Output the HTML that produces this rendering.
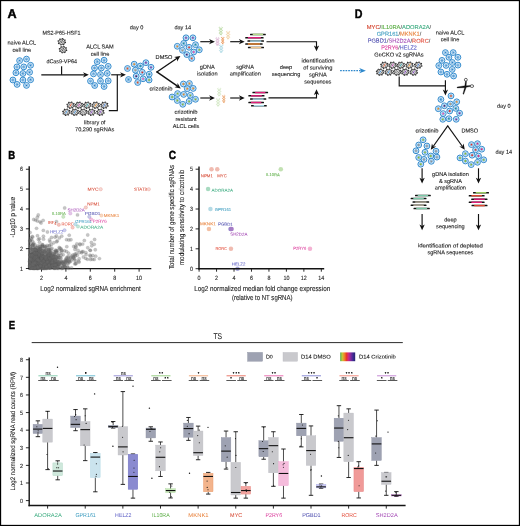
<!DOCTYPE html>
<html lang="en"><head><meta charset="utf-8"><title>Figure</title>
<style>html,body{margin:0;padding:0;background:#fff}svg{display:block;font-family:"Liberation Sans",sans-serif}</style></head>
<body><svg width="520" height="526" viewBox="0 0 520 526">
<rect x="0" y="0" width="520" height="526" fill="#fff"/>
<text x="12.1" y="17.98" font-size="12.6" text-anchor="middle" fill="#000" font-weight="bold" stroke="#000" stroke-width=".45" transform="rotate(.03 12.1 17.98)">A</text>
<text x="21.8" y="44.5" font-size="5.6" text-anchor="middle" fill="#1c1c1c" stroke="#1c1c1c" stroke-width="0.1" transform="rotate(.03 21.8 44.5)">naive ALCL</text>
<text x="21.8" y="51.7" font-size="5.6" text-anchor="middle" fill="#1c1c1c" stroke="#1c1c1c" stroke-width="0.1" transform="rotate(.03 21.8 51.7)">cell line</text>
<circle cx="19.6" cy="60.6" r="2.9" fill="#e0eefa" stroke="#2a86ca" stroke-width=".95"/><circle cx="19.6" cy="60.6" r="1.3" fill="#e6f1fb" stroke="#2a86ca" stroke-width=".5"/><circle cx="19.6" cy="60.6" r="0.72" fill="#1c76c2"/>
<circle cx="26.5" cy="59.1" r="2.9" fill="#e0eefa" stroke="#2a86ca" stroke-width=".95"/><circle cx="26.5" cy="59.1" r="1.3" fill="#e6f1fb" stroke="#2a86ca" stroke-width=".5"/><circle cx="26.5" cy="59.1" r="0.72" fill="#1c76c2"/>
<circle cx="16.9" cy="66.9" r="2.9" fill="#e0eefa" stroke="#2a86ca" stroke-width=".95"/><circle cx="16.9" cy="66.9" r="1.3" fill="#e6f1fb" stroke="#2a86ca" stroke-width=".5"/><circle cx="16.9" cy="66.9" r="0.72" fill="#1c76c2"/>
<circle cx="23.75" cy="66.9" r="2.9" fill="#e0eefa" stroke="#2a86ca" stroke-width=".95"/><circle cx="23.75" cy="66.9" r="1.3" fill="#e6f1fb" stroke="#2a86ca" stroke-width=".5"/><circle cx="23.75" cy="66.9" r="0.72" fill="#1c76c2"/>
<circle cx="30.6" cy="65.25" r="2.9" fill="#e0eefa" stroke="#2a86ca" stroke-width=".95"/><circle cx="30.6" cy="65.25" r="1.3" fill="#e6f1fb" stroke="#2a86ca" stroke-width=".5"/><circle cx="30.6" cy="65.25" r="0.72" fill="#1c76c2"/>
<circle cx="15.9" cy="72.75" r="2.9" fill="#e0eefa" stroke="#2a86ca" stroke-width=".95"/><circle cx="15.9" cy="72.75" r="1.3" fill="#e6f1fb" stroke="#2a86ca" stroke-width=".5"/><circle cx="15.9" cy="72.75" r="0.72" fill="#1c76c2"/>
<circle cx="22.9" cy="73.5" r="2.9" fill="#e0eefa" stroke="#2a86ca" stroke-width=".95"/><circle cx="22.9" cy="73.5" r="1.3" fill="#e6f1fb" stroke="#2a86ca" stroke-width=".5"/><circle cx="22.9" cy="73.5" r="0.72" fill="#1c76c2"/>
<circle cx="29.6" cy="72.25" r="2.9" fill="#e0eefa" stroke="#2a86ca" stroke-width=".95"/><circle cx="29.6" cy="72.25" r="1.3" fill="#e6f1fb" stroke="#2a86ca" stroke-width=".5"/><circle cx="29.6" cy="72.25" r="0.72" fill="#1c76c2"/>
<circle cx="12.9" cy="80" r="2.9" fill="#e0eefa" stroke="#2a86ca" stroke-width=".95"/><circle cx="12.9" cy="80" r="1.3" fill="#e6f1fb" stroke="#2a86ca" stroke-width=".5"/><circle cx="12.9" cy="80" r="0.72" fill="#1c76c2"/>
<circle cx="22.9" cy="80" r="2.9" fill="#e0eefa" stroke="#2a86ca" stroke-width=".95"/><circle cx="22.9" cy="80" r="1.3" fill="#e6f1fb" stroke="#2a86ca" stroke-width=".5"/><circle cx="22.9" cy="80" r="0.72" fill="#1c76c2"/>
<circle cx="30.6" cy="79.75" r="2.9" fill="#e0eefa" stroke="#2a86ca" stroke-width=".95"/><circle cx="30.6" cy="79.75" r="1.3" fill="#e6f1fb" stroke="#2a86ca" stroke-width=".5"/><circle cx="30.6" cy="79.75" r="0.72" fill="#1c76c2"/>
<circle cx="17.1" cy="84.4" r="2.9" fill="#e0eefa" stroke="#2a86ca" stroke-width=".95"/><circle cx="17.1" cy="84.4" r="1.3" fill="#e6f1fb" stroke="#2a86ca" stroke-width=".5"/><circle cx="17.1" cy="84.4" r="0.72" fill="#1c76c2"/>
<circle cx="26.5" cy="85.4" r="2.9" fill="#e0eefa" stroke="#2a86ca" stroke-width=".95"/><circle cx="26.5" cy="85.4" r="1.3" fill="#e6f1fb" stroke="#2a86ca" stroke-width=".5"/><circle cx="26.5" cy="85.4" r="0.72" fill="#1c76c2"/>
<text x="61.5" y="34.8" font-size="5.6" text-anchor="middle" fill="#1c1c1c" textLength="38" lengthAdjust="spacingAndGlyphs" stroke="#1c1c1c" stroke-width="0.1" transform="rotate(.03 61.5 34.8)">MS2-P65-HSF1</text>
<path d="M64.71 42.44L65.97 42.73M63.33 44.04L63.99 45.03M61.06 44.32L60.74 45.43M59.22 43.13L58.1 43.71M58.89 41.16L57.63 40.87M60.27 39.56L59.61 38.57M62.54 39.28L62.86 38.17M64.38 40.47L65.5 39.89" stroke="#2a2a2a" stroke-width="1.3" fill="none"/>
<ellipse cx="61.8" cy="41.8" rx="3.15" ry="2.75" fill="#f4f4f4" stroke="#2a2a2a" stroke-width=".8"/>
<path d="M59.7 42.8L61.4 39.9M62.3 43.7L64 40.9" stroke="#4a4a4a" stroke-width=".7" fill="none"/>
<line x1="60.9" y1="43.3" x2="62.7" y2="40.2" stroke="#555" stroke-width="1"/>
<path d="M65.91 50.24L67.17 50.53M64.53 51.84L65.19 52.83M62.26 52.12L61.94 53.23M60.42 50.93L59.3 51.51M60.09 48.96L58.83 48.67M61.47 47.36L60.81 46.37M63.74 47.08L64.06 45.97M65.58 48.27L66.7 47.69" stroke="#2a2a2a" stroke-width="1.3" fill="none"/>
<ellipse cx="63" cy="49.6" rx="3.15" ry="2.75" fill="#f4f4f4" stroke="#2a2a2a" stroke-width=".8"/>
<path d="M60.9 50.6L62.6 47.7M63.5 51.5L65.2 48.7" stroke="#4a4a4a" stroke-width=".7" fill="none"/>
<line x1="62.1" y1="51.1" x2="63.9" y2="48" stroke="#555" stroke-width="1"/>
<text x="61.7" y="63.3" font-size="5.6" text-anchor="middle" fill="#1c1c1c" textLength="30.6" lengthAdjust="spacingAndGlyphs" stroke="#1c1c1c" stroke-width="0.1" transform="rotate(.03 61.7 63.3)">dCas9-VP64</text>
<line x1="61.6" y1="66.2" x2="61.6" y2="74.8" stroke="#111" stroke-width="1.15"/>
<line x1="41.3" y1="74.8" x2="84.74" y2="74.8" stroke="#111" stroke-width="1.15"/>
<polygon points="88.8,74.8 83,77.45 84.62,74.8 83,72.15" fill="#111"/>
<text x="100" y="48.5" font-size="5.6" text-anchor="middle" fill="#1c1c1c" stroke="#1c1c1c" stroke-width="0.1" transform="rotate(.03 100 48.5)">ALCL SAM</text>
<text x="100" y="55.7" font-size="5.6" text-anchor="middle" fill="#1c1c1c" stroke="#1c1c1c" stroke-width="0.1" transform="rotate(.03 100 55.7)">cell line</text>
<circle cx="97.2" cy="61.7" r="2.9" fill="#e0eefa" stroke="#2a86ca" stroke-width=".95"/><circle cx="97.2" cy="61.7" r="1.3" fill="#e6f1fb" stroke="#2a86ca" stroke-width=".5"/><circle cx="97.2" cy="61.7" r="0.72" fill="#1c76c2"/>
<circle cx="104.1" cy="60.2" r="2.9" fill="#e0eefa" stroke="#2a86ca" stroke-width=".95"/><circle cx="104.1" cy="60.2" r="1.3" fill="#e6f1fb" stroke="#2a86ca" stroke-width=".5"/><circle cx="104.1" cy="60.2" r="0.72" fill="#1c76c2"/>
<circle cx="94.5" cy="68" r="2.9" fill="#e0eefa" stroke="#2a86ca" stroke-width=".95"/><circle cx="94.5" cy="68" r="1.3" fill="#e6f1fb" stroke="#2a86ca" stroke-width=".5"/><circle cx="94.5" cy="68" r="0.72" fill="#1c76c2"/>
<circle cx="101.35" cy="68" r="2.9" fill="#e0eefa" stroke="#2a86ca" stroke-width=".95"/><circle cx="101.35" cy="68" r="1.3" fill="#e6f1fb" stroke="#2a86ca" stroke-width=".5"/><circle cx="101.35" cy="68" r="0.72" fill="#1c76c2"/>
<circle cx="108.2" cy="66.35" r="2.9" fill="#e0eefa" stroke="#2a86ca" stroke-width=".95"/><circle cx="108.2" cy="66.35" r="1.3" fill="#e6f1fb" stroke="#2a86ca" stroke-width=".5"/><circle cx="108.2" cy="66.35" r="0.72" fill="#1c76c2"/>
<circle cx="93.5" cy="73.85" r="2.9" fill="#e0eefa" stroke="#2a86ca" stroke-width=".95"/><circle cx="93.5" cy="73.85" r="1.3" fill="#e6f1fb" stroke="#2a86ca" stroke-width=".5"/><circle cx="93.5" cy="73.85" r="0.72" fill="#1c76c2"/>
<circle cx="100.5" cy="74.6" r="2.9" fill="#e0eefa" stroke="#2a86ca" stroke-width=".95"/><circle cx="100.5" cy="74.6" r="1.3" fill="#e6f1fb" stroke="#2a86ca" stroke-width=".5"/><circle cx="100.5" cy="74.6" r="0.72" fill="#1c76c2"/>
<circle cx="107.2" cy="73.35" r="2.9" fill="#e0eefa" stroke="#2a86ca" stroke-width=".95"/><circle cx="107.2" cy="73.35" r="1.3" fill="#e6f1fb" stroke="#2a86ca" stroke-width=".5"/><circle cx="107.2" cy="73.35" r="0.72" fill="#1c76c2"/>
<circle cx="90.5" cy="81.1" r="2.9" fill="#e0eefa" stroke="#2a86ca" stroke-width=".95"/><circle cx="90.5" cy="81.1" r="1.3" fill="#e6f1fb" stroke="#2a86ca" stroke-width=".5"/><circle cx="90.5" cy="81.1" r="0.72" fill="#1c76c2"/>
<circle cx="100.5" cy="81.1" r="2.9" fill="#e0eefa" stroke="#2a86ca" stroke-width=".95"/><circle cx="100.5" cy="81.1" r="1.3" fill="#e6f1fb" stroke="#2a86ca" stroke-width=".5"/><circle cx="100.5" cy="81.1" r="0.72" fill="#1c76c2"/>
<circle cx="108.2" cy="80.85" r="2.9" fill="#e0eefa" stroke="#2a86ca" stroke-width=".95"/><circle cx="108.2" cy="80.85" r="1.3" fill="#e6f1fb" stroke="#2a86ca" stroke-width=".5"/><circle cx="108.2" cy="80.85" r="0.72" fill="#1c76c2"/>
<circle cx="94.7" cy="85.5" r="2.9" fill="#e0eefa" stroke="#2a86ca" stroke-width=".95"/><circle cx="94.7" cy="85.5" r="1.3" fill="#e6f1fb" stroke="#2a86ca" stroke-width=".5"/><circle cx="94.7" cy="85.5" r="0.72" fill="#1c76c2"/>
<circle cx="104.1" cy="86.5" r="2.9" fill="#e0eefa" stroke="#2a86ca" stroke-width=".95"/><circle cx="104.1" cy="86.5" r="1.3" fill="#e6f1fb" stroke="#2a86ca" stroke-width=".5"/><circle cx="104.1" cy="86.5" r="0.72" fill="#1c76c2"/>
<line x1="111.2" y1="74.8" x2="121.84" y2="74.8" stroke="#111" stroke-width="1.15"/>
<polygon points="125.9,74.8 120.1,77.45 121.72,74.8 120.1,72.15" fill="#111"/>
<path d="M108.8 110.6H117.3V74.8" fill="none" stroke="#111" stroke-width="1.15"/>
<path d="M69.31 112.84L70.57 113.13M67.93 114.44L68.59 115.43M65.66 114.72L65.34 115.83M63.82 113.53L62.7 114.11M63.49 111.56L62.23 111.27M64.87 109.96L64.21 108.97M67.14 109.68L67.46 108.57M68.98 110.87L70.1 110.29" stroke="#2a2a2a" stroke-width="1.3" fill="none"/>
<ellipse cx="66.4" cy="112.2" rx="3.15" ry="2.75" fill="#f4f4f4" stroke="#2a2a2a" stroke-width=".8"/>
<path d="M64.3 113.2L66 110.3M66.9 114.1L68.6 111.3" stroke="#4a4a4a" stroke-width=".7" fill="none"/>
<line x1="65.5" y1="113.7" x2="67.3" y2="110.6" stroke="#4a90d0" stroke-width="1"/>
<path d="M77.81 112.84L79.07 113.13M76.43 114.44L77.09 115.43M74.16 114.72L73.84 115.83M72.32 113.53L71.2 114.11M71.99 111.56L70.73 111.27M73.37 109.96L72.71 108.97M75.64 109.68L75.96 108.57M77.48 110.87L78.6 110.29" stroke="#2a2a2a" stroke-width="1.3" fill="none"/>
<ellipse cx="74.9" cy="112.2" rx="3.15" ry="2.75" fill="#f4f4f4" stroke="#2a2a2a" stroke-width=".8"/>
<path d="M72.8 113.2L74.5 110.3M75.4 114.1L77.1 111.3" stroke="#4a4a4a" stroke-width=".7" fill="none"/>
<line x1="74" y1="113.7" x2="75.8" y2="110.6" stroke="#4a90d0" stroke-width="1"/>
<path d="M86.21 112.84L87.47 113.13M84.83 114.44L85.49 115.43M82.56 114.72L82.24 115.83M80.72 113.53L79.6 114.11M80.39 111.56L79.13 111.27M81.77 109.96L81.11 108.97M84.04 109.68L84.36 108.57M85.88 110.87L87 110.29" stroke="#2a2a2a" stroke-width="1.3" fill="none"/>
<ellipse cx="83.3" cy="112.2" rx="3.15" ry="2.75" fill="#f4f4f4" stroke="#2a2a2a" stroke-width=".8"/>
<path d="M81.2 113.2L82.9 110.3M83.8 114.1L85.5 111.3" stroke="#4a4a4a" stroke-width=".7" fill="none"/>
<line x1="82.4" y1="113.7" x2="84.2" y2="110.6" stroke="#888" stroke-width="1"/>
<path d="M94.51 112.84L95.77 113.13M93.13 114.44L93.79 115.43M90.86 114.72L90.54 115.83M89.02 113.53L87.9 114.11M88.69 111.56L87.43 111.27M90.07 109.96L89.41 108.97M92.34 109.68L92.66 108.57M94.18 110.87L95.3 110.29" stroke="#2a2a2a" stroke-width="1.3" fill="none"/>
<ellipse cx="91.6" cy="112.2" rx="3.15" ry="2.75" fill="#f4f4f4" stroke="#2a2a2a" stroke-width=".8"/>
<path d="M89.5 113.2L91.2 110.3M92.1 114.1L93.8 111.3" stroke="#4a4a4a" stroke-width=".7" fill="none"/>
<line x1="90.7" y1="113.7" x2="92.5" y2="110.6" stroke="#8a50c0" stroke-width="1"/>
<path d="M103.31 112.84L104.57 113.13M101.93 114.44L102.59 115.43M99.66 114.72L99.34 115.83M97.82 113.53L96.7 114.11M97.49 111.56L96.23 111.27M98.87 109.96L98.21 108.97M101.14 109.68L101.46 108.57M102.98 110.87L104.1 110.29" stroke="#2a2a2a" stroke-width="1.3" fill="none"/>
<ellipse cx="100.4" cy="112.2" rx="3.15" ry="2.75" fill="#f4f4f4" stroke="#2a2a2a" stroke-width=".8"/>
<path d="M98.3 113.2L100 110.3M100.9 114.1L102.6 111.3" stroke="#4a4a4a" stroke-width=".7" fill="none"/>
<line x1="99.5" y1="113.7" x2="101.3" y2="110.6" stroke="#8a50c0" stroke-width="1"/>
<path d="M73.61 105.84L74.87 106.13M72.23 107.44L72.89 108.43M69.96 107.72L69.64 108.83M68.12 106.53L67 107.11M67.79 104.56L66.53 104.27M69.17 102.96L68.51 101.97M71.44 102.68L71.76 101.57M73.28 103.87L74.4 103.29" stroke="#2a2a2a" stroke-width="1.3" fill="none"/>
<ellipse cx="70.7" cy="105.2" rx="3.15" ry="2.75" fill="#f4f4f4" stroke="#2a2a2a" stroke-width=".8"/>
<path d="M68.6 106.2L70.3 103.3M71.2 107.1L72.9 104.3" stroke="#4a4a4a" stroke-width=".7" fill="none"/>
<line x1="69.8" y1="106.7" x2="71.6" y2="103.6" stroke="#e0603a" stroke-width="1"/>
<path d="M81.91 105.84L83.17 106.13M80.53 107.44L81.19 108.43M78.26 107.72L77.94 108.83M76.42 106.53L75.3 107.11M76.09 104.56L74.83 104.27M77.47 102.96L76.81 101.97M79.74 102.68L80.06 101.57M81.58 103.87L82.7 103.29" stroke="#2a2a2a" stroke-width="1.3" fill="none"/>
<ellipse cx="79" cy="105.2" rx="3.15" ry="2.75" fill="#f4f4f4" stroke="#2a2a2a" stroke-width=".8"/>
<path d="M76.9 106.2L78.6 103.3M79.5 107.1L81.2 104.3" stroke="#4a4a4a" stroke-width=".7" fill="none"/>
<line x1="78.1" y1="106.7" x2="79.9" y2="103.6" stroke="#c050b0" stroke-width="1"/>
<path d="M90.21 105.84L91.47 106.13M88.83 107.44L89.49 108.43M86.56 107.72L86.24 108.83M84.72 106.53L83.6 107.11M84.39 104.56L83.13 104.27M85.77 102.96L85.11 101.97M88.04 102.68L88.36 101.57M89.88 103.87L91 103.29" stroke="#2a2a2a" stroke-width="1.3" fill="none"/>
<ellipse cx="87.3" cy="105.2" rx="3.15" ry="2.75" fill="#f4f4f4" stroke="#2a2a2a" stroke-width=".8"/>
<path d="M85.2 106.2L86.9 103.3M87.8 107.1L89.5 104.3" stroke="#4a4a4a" stroke-width=".7" fill="none"/>
<line x1="86.4" y1="106.7" x2="88.2" y2="103.6" stroke="#3aa0a8" stroke-width="1"/>
<path d="M98.71 105.84L99.97 106.13M97.33 107.44L97.99 108.43M95.06 107.72L94.74 108.83M93.22 106.53L92.1 107.11M92.89 104.56L91.63 104.27M94.27 102.96L93.61 101.97M96.54 102.68L96.86 101.57M98.38 103.87L99.5 103.29" stroke="#2a2a2a" stroke-width="1.3" fill="none"/>
<ellipse cx="95.8" cy="105.2" rx="3.15" ry="2.75" fill="#f4f4f4" stroke="#2a2a2a" stroke-width=".8"/>
<path d="M93.7 106.2L95.4 103.3M96.3 107.1L98 104.3" stroke="#4a4a4a" stroke-width=".7" fill="none"/>
<line x1="94.9" y1="106.7" x2="96.7" y2="103.6" stroke="#e89030" stroke-width="1"/>
<path d="M107.31 105.84L108.57 106.13M105.93 107.44L106.59 108.43M103.66 107.72L103.34 108.83M101.82 106.53L100.7 107.11M101.49 104.56L100.23 104.27M102.87 102.96L102.21 101.97M105.14 102.68L105.46 101.57M106.98 103.87L108.1 103.29" stroke="#2a2a2a" stroke-width="1.3" fill="none"/>
<ellipse cx="104.4" cy="105.2" rx="3.15" ry="2.75" fill="#f4f4f4" stroke="#2a2a2a" stroke-width=".8"/>
<path d="M102.3 106.2L104 103.3M104.9 107.1L106.6 104.3" stroke="#4a4a4a" stroke-width=".7" fill="none"/>
<line x1="103.5" y1="106.7" x2="105.3" y2="103.6" stroke="#4a80d0" stroke-width="1"/>
<text x="94.7" y="124.3" font-size="5.6" text-anchor="middle" fill="#1c1c1c" stroke="#1c1c1c" stroke-width="0.1" transform="rotate(.03 94.7 124.3)">library of</text>
<text x="94.7" y="131.2" font-size="5.6" text-anchor="middle" fill="#1c1c1c" stroke="#1c1c1c" stroke-width="0.1" transform="rotate(.03 94.7 131.2)">70,290 sgRNAs</text>
<text x="136.6" y="29.2" font-size="5.6" text-anchor="middle" fill="#1c1c1c" stroke="#1c1c1c" stroke-width="0.1" transform="rotate(.03 136.6 29.2)">day 0</text>
<text x="182.8" y="29.2" font-size="5.6" text-anchor="middle" fill="#1c1c1c" stroke="#1c1c1c" stroke-width="0.1" transform="rotate(.03 182.8 29.2)">day 14</text>
<circle cx="134.2" cy="64.2" r="2.9" fill="#e0eefa" stroke="#2a86ca" stroke-width=".95"/><circle cx="134.2" cy="64.2" r="1.3" fill="#e6f1fb" stroke="#2a86ca" stroke-width=".5"/><circle cx="134.2" cy="64.2" r="0.9" fill="#ee8a1e"/>
<circle cx="145.9" cy="62.7" r="2.9" fill="#e0eefa" stroke="#2a86ca" stroke-width=".95"/><circle cx="145.9" cy="62.7" r="1.3" fill="#e6f1fb" stroke="#2a86ca" stroke-width=".5"/><circle cx="145.9" cy="62.7" r="0.9" fill="#7b2fa0"/>
<circle cx="127.5" cy="68.5" r="2.9" fill="#e0eefa" stroke="#2a86ca" stroke-width=".95"/><circle cx="127.5" cy="68.5" r="1.3" fill="#e6f1fb" stroke="#2a86ca" stroke-width=".5"/><circle cx="127.5" cy="68.5" r="0.9" fill="#e8501e"/>
<circle cx="140.4" cy="66" r="2.9" fill="#e0eefa" stroke="#2a86ca" stroke-width=".95"/><circle cx="140.4" cy="66" r="1.3" fill="#e6f1fb" stroke="#2a86ca" stroke-width=".5"/><circle cx="140.4" cy="66" r="0.9" fill="#1e8ea0"/>
<circle cx="151" cy="67.3" r="2.9" fill="#e0eefa" stroke="#2a86ca" stroke-width=".95"/><circle cx="151" cy="67.3" r="1.3" fill="#e6f1fb" stroke="#2a86ca" stroke-width=".5"/><circle cx="151" cy="67.3" r="0.9" fill="#7b2fa0"/>
<circle cx="135.4" cy="70.2" r="2.9" fill="#e0eefa" stroke="#2a86ca" stroke-width=".95"/><circle cx="135.4" cy="70.2" r="1.3" fill="#e6f1fb" stroke="#2a86ca" stroke-width=".5"/><circle cx="135.4" cy="70.2" r="0.9" fill="#b09878"/>
<circle cx="142.3" cy="72.3" r="2.9" fill="#e0eefa" stroke="#2a86ca" stroke-width=".95"/><circle cx="142.3" cy="72.3" r="1.3" fill="#e6f1fb" stroke="#2a86ca" stroke-width=".5"/><circle cx="142.3" cy="72.3" r="0.9" fill="#e02a20"/>
<circle cx="149.2" cy="74.2" r="2.9" fill="#e0eefa" stroke="#2a86ca" stroke-width=".95"/><circle cx="149.2" cy="74.2" r="1.3" fill="#e6f1fb" stroke="#2a86ca" stroke-width=".5"/><circle cx="149.2" cy="74.2" r="0.9" fill="#1e8ea0"/>
<circle cx="136.2" cy="76.2" r="2.9" fill="#e0eefa" stroke="#2a86ca" stroke-width=".95"/><circle cx="136.2" cy="76.2" r="1.3" fill="#e6f1fb" stroke="#2a86ca" stroke-width=".5"/><circle cx="136.2" cy="76.2" r="0.9" fill="#4a1a6a"/>
<circle cx="128.5" cy="79.5" r="2.9" fill="#e0eefa" stroke="#2a86ca" stroke-width=".95"/><circle cx="128.5" cy="79.5" r="1.3" fill="#e6f1fb" stroke="#2a86ca" stroke-width=".5"/><circle cx="128.5" cy="79.5" r="0.9" fill="#2f8ed0"/>
<circle cx="143.1" cy="78.8" r="2.9" fill="#e0eefa" stroke="#2a86ca" stroke-width=".95"/><circle cx="143.1" cy="78.8" r="1.3" fill="#e6f1fb" stroke="#2a86ca" stroke-width=".5"/><circle cx="143.1" cy="78.8" r="0.9" fill="#ee4aa8"/>
<circle cx="149.1" cy="80" r="2.9" fill="#e0eefa" stroke="#2a86ca" stroke-width=".95"/><circle cx="149.1" cy="80" r="1.3" fill="#e6f1fb" stroke="#2a86ca" stroke-width=".5"/><circle cx="149.1" cy="80" r="0.9" fill="#86bc2a"/>
<circle cx="137.7" cy="82.5" r="2.9" fill="#e0eefa" stroke="#2a86ca" stroke-width=".95"/><circle cx="137.7" cy="82.5" r="1.3" fill="#e6f1fb" stroke="#2a86ca" stroke-width=".5"/><circle cx="137.7" cy="82.5" r="0.9" fill="#e8501e"/>
<circle cx="186" cy="37.8" r="2.9" fill="#e0eefa" stroke="#2a86ca" stroke-width=".95"/><circle cx="186" cy="37.8" r="1.3" fill="#e6f1fb" stroke="#2a86ca" stroke-width=".5"/><circle cx="186" cy="37.8" r="0.9" fill="#7b2fa0"/>
<circle cx="192.9" cy="37.8" r="2.9" fill="#e0eefa" stroke="#2a86ca" stroke-width=".95"/><circle cx="192.9" cy="37.8" r="1.3" fill="#e6f1fb" stroke="#2a86ca" stroke-width=".5"/><circle cx="192.9" cy="37.8" r="0.9" fill="#7b2fa0"/>
<circle cx="183.7" cy="43.4" r="2.9" fill="#e0eefa" stroke="#2a86ca" stroke-width=".95"/><circle cx="183.7" cy="43.4" r="1.3" fill="#e6f1fb" stroke="#2a86ca" stroke-width=".5"/><circle cx="183.7" cy="43.4" r="0.9" fill="#1e8ea0"/>
<circle cx="177.3" cy="46.3" r="2.9" fill="#e0eefa" stroke="#2a86ca" stroke-width=".95"/><circle cx="177.3" cy="46.3" r="1.3" fill="#e6f1fb" stroke="#2a86ca" stroke-width=".5"/><circle cx="177.3" cy="46.3" r="0.9" fill="#ee8a1e"/>
<circle cx="189.1" cy="47.3" r="2.9" fill="#e0eefa" stroke="#2a86ca" stroke-width=".95"/><circle cx="189.1" cy="47.3" r="1.3" fill="#e6f1fb" stroke="#2a86ca" stroke-width=".5"/><circle cx="189.1" cy="47.3" r="0.9" fill="#e02a20"/>
<circle cx="195.5" cy="44.7" r="2.9" fill="#e0eefa" stroke="#2a86ca" stroke-width=".95"/><circle cx="195.5" cy="44.7" r="1.3" fill="#e6f1fb" stroke="#2a86ca" stroke-width=".5"/><circle cx="195.5" cy="44.7" r="0.9" fill="#1e8ea0"/>
<circle cx="182.5" cy="50.3" r="2.9" fill="#e0eefa" stroke="#2a86ca" stroke-width=".95"/><circle cx="182.5" cy="50.3" r="1.3" fill="#e6f1fb" stroke="#2a86ca" stroke-width=".5"/><circle cx="182.5" cy="50.3" r="0.9" fill="#b09878"/>
<circle cx="199.3" cy="49.8" r="2.9" fill="#e0eefa" stroke="#2a86ca" stroke-width=".95"/><circle cx="199.3" cy="49.8" r="1.3" fill="#e6f1fb" stroke="#2a86ca" stroke-width=".5"/><circle cx="199.3" cy="49.8" r="0.9" fill="#86bc2a"/>
<circle cx="193.7" cy="52" r="2.9" fill="#e0eefa" stroke="#2a86ca" stroke-width=".95"/><circle cx="193.7" cy="52" r="1.3" fill="#e6f1fb" stroke="#2a86ca" stroke-width=".5"/><circle cx="193.7" cy="52" r="0.9" fill="#ee4aa8"/>
<circle cx="186.8" cy="54.6" r="2.9" fill="#e0eefa" stroke="#2a86ca" stroke-width=".95"/><circle cx="186.8" cy="54.6" r="1.3" fill="#e6f1fb" stroke="#2a86ca" stroke-width=".5"/><circle cx="186.8" cy="54.6" r="0.9" fill="#4a1a6a"/>
<circle cx="191.7" cy="58.4" r="2.9" fill="#e0eefa" stroke="#2a86ca" stroke-width=".95"/><circle cx="191.7" cy="58.4" r="1.3" fill="#e6f1fb" stroke="#2a86ca" stroke-width=".5"/><circle cx="191.7" cy="58.4" r="0.9" fill="#e8501e"/>
<circle cx="183.4" cy="84" r="2.9" fill="#e0eefa" stroke="#2a86ca" stroke-width=".95"/><circle cx="183.4" cy="84" r="1.3" fill="#e6f1fb" stroke="#2a86ca" stroke-width=".5"/><circle cx="183.4" cy="84" r="0.9" fill="#ee8a1e"/>
<circle cx="189.4" cy="83.5" r="2.9" fill="#e0eefa" stroke="#2a86ca" stroke-width=".95"/><circle cx="189.4" cy="83.5" r="1.3" fill="#e6f1fb" stroke="#2a86ca" stroke-width=".5"/><circle cx="189.4" cy="83.5" r="0.9" fill="#ee8a1e"/>
<circle cx="187.3" cy="88.7" r="2.9" fill="#e0eefa" stroke="#2a86ca" stroke-width=".95"/><circle cx="187.3" cy="88.7" r="1.3" fill="#e6f1fb" stroke="#2a86ca" stroke-width=".5"/><circle cx="187.3" cy="88.7" r="0.9" fill="#ee8a1e"/>
<circle cx="193.2" cy="88.4" r="2.9" fill="#e0eefa" stroke="#2a86ca" stroke-width=".95"/><circle cx="193.2" cy="88.4" r="1.3" fill="#e6f1fb" stroke="#2a86ca" stroke-width=".5"/><circle cx="193.2" cy="88.4" r="0.9" fill="#ee8a1e"/>
<circle cx="177.6" cy="93.6" r="2.9" fill="#e0eefa" stroke="#2a86ca" stroke-width=".95"/><circle cx="177.6" cy="93.6" r="1.3" fill="#e6f1fb" stroke="#2a86ca" stroke-width=".5"/><circle cx="177.6" cy="93.6" r="0.9" fill="#86bc2a"/>
<circle cx="183.7" cy="94.4" r="2.9" fill="#e0eefa" stroke="#2a86ca" stroke-width=".95"/><circle cx="183.7" cy="94.4" r="1.3" fill="#e6f1fb" stroke="#2a86ca" stroke-width=".5"/><circle cx="183.7" cy="94.4" r="0.9" fill="#ee8a1e"/>
<circle cx="190.3" cy="95.3" r="2.9" fill="#e0eefa" stroke="#2a86ca" stroke-width=".95"/><circle cx="190.3" cy="95.3" r="1.3" fill="#e6f1fb" stroke="#2a86ca" stroke-width=".5"/><circle cx="190.3" cy="95.3" r="0.9" fill="#86bc2a"/>
<circle cx="172.1" cy="97" r="2.9" fill="#e0eefa" stroke="#2a86ca" stroke-width=".95"/><circle cx="172.1" cy="97" r="1.3" fill="#e6f1fb" stroke="#2a86ca" stroke-width=".5"/><circle cx="172.1" cy="97" r="0.9" fill="#86bc2a"/>
<circle cx="195.5" cy="99.3" r="2.9" fill="#e0eefa" stroke="#2a86ca" stroke-width=".95"/><circle cx="195.5" cy="99.3" r="1.3" fill="#e6f1fb" stroke="#2a86ca" stroke-width=".5"/><circle cx="195.5" cy="99.3" r="0.9" fill="#86bc2a"/>
<circle cx="177.3" cy="100.5" r="2.9" fill="#e0eefa" stroke="#2a86ca" stroke-width=".95"/><circle cx="177.3" cy="100.5" r="1.3" fill="#e6f1fb" stroke="#2a86ca" stroke-width=".5"/><circle cx="177.3" cy="100.5" r="0.9" fill="#86bc2a"/>
<circle cx="189.1" cy="101.3" r="2.9" fill="#e0eefa" stroke="#2a86ca" stroke-width=".95"/><circle cx="189.1" cy="101.3" r="1.3" fill="#e6f1fb" stroke="#2a86ca" stroke-width=".5"/><circle cx="189.1" cy="101.3" r="0.9" fill="#86bc2a"/>
<circle cx="182.8" cy="104.3" r="2.9" fill="#e0eefa" stroke="#2a86ca" stroke-width=".95"/><circle cx="182.8" cy="104.3" r="1.3" fill="#e6f1fb" stroke="#2a86ca" stroke-width=".5"/><circle cx="182.8" cy="104.3" r="0.9" fill="#86bc2a"/>
<line x1="156.5" y1="72.2" x2="177.04" y2="58.28" stroke="#111" stroke-width="1.35"/>
<polygon points="180.4,56 177.09,61.45 176.94,58.34 174.11,57.06" fill="#111"/>
<line x1="156.5" y1="71.6" x2="177.46" y2="86.09" stroke="#111" stroke-width="1.35"/>
<polygon points="180.8,88.4 174.52,87.28 177.36,86.03 177.54,82.92" fill="#111"/>
<text x="164" y="59.1" font-size="5.6" text-anchor="middle" fill="#1c1c1c" stroke="#1c1c1c" stroke-width="0.1" transform="rotate(.03 164 59.1)">DMSO</text>
<text x="160.9" y="90.6" font-size="5.6" text-anchor="middle" fill="#1c1c1c" textLength="23" lengthAdjust="spacingAndGlyphs" stroke="#1c1c1c" stroke-width="0.1" transform="rotate(.03 160.9 90.6)">crizotinib</text>
<text x="186" y="113.8" font-size="5.6" text-anchor="middle" fill="#1c1c1c" textLength="23" lengthAdjust="spacingAndGlyphs" stroke="#1c1c1c" stroke-width="0.1" transform="rotate(.03 186 113.8)">crizotinib</text>
<text x="186" y="120.9" font-size="5.6" text-anchor="middle" fill="#1c1c1c" stroke="#1c1c1c" stroke-width="0.1" transform="rotate(.03 186 120.9)">resistant</text>
<text x="186" y="127.9" font-size="5.6" text-anchor="middle" fill="#1c1c1c" stroke="#1c1c1c" stroke-width="0.1" transform="rotate(.03 186 127.9)">ALCL cells</text>
<line x1="200.3" y1="41.7" x2="210.84" y2="41.7" stroke="#111" stroke-width="1.15"/>
<polygon points="214.9,41.7 209.1,44.35 210.72,41.7 209.1,39.05" fill="#111"/>
<path d="M221.76 26.9L222.33 27.34L222.5 27.79L222.2 28.23L221.54 28.68L220.67 29.12L219.84 29.57L219.27 30.01L219.1 30.46L219.4 30.9L220.06 31.34L220.93 31.79L221.76 32.23L222.33 32.68L222.5 33.12L222.2 33.57L221.54 34.01L220.67 34.46L219.84 34.9M219.84 26.9L219.27 27.34L219.1 27.79L219.4 28.23L220.06 28.68L220.93 29.12L221.76 29.57L222.33 30.01L222.5 30.46L222.2 30.9L221.54 31.34L220.67 31.79L219.84 32.23L219.27 32.68L219.1 33.12L219.4 33.57L220.06 34.01L220.93 34.46L221.76 34.9" stroke="#b4d69c" stroke-width=".75" fill="none" stroke-opacity="1"/>
<rect x="219.78" y="27.3" width="2.04" height="7.2" fill="#b4d69c" fill-opacity=".3"/>
<path d="M229.06 31L229.63 31.44L229.8 31.89L229.5 32.33L228.84 32.78L227.97 33.22L227.14 33.67L226.57 34.11L226.4 34.56L226.7 35L227.36 35.44L228.23 35.89L229.06 36.33L229.63 36.78L229.8 37.22L229.5 37.67L228.84 38.11L227.97 38.56L227.14 39M227.14 31L226.57 31.44L226.4 31.89L226.7 32.33L227.36 32.78L228.23 33.22L229.06 33.67L229.63 34.11L229.8 34.56L229.5 35L228.84 35.44L227.97 35.89L227.14 36.33L226.57 36.78L226.4 37.22L226.7 37.67L227.36 38.11L228.23 38.56L229.06 39" stroke="#f0cfa0" stroke-width=".75" fill="none" stroke-opacity="1"/>
<rect x="227.08" y="31.4" width="2.04" height="7.2" fill="#f0cfa0" fill-opacity=".3"/>
<path d="M218.46 37.4L219.03 37.84L219.2 38.29L218.9 38.73L218.24 39.18L217.37 39.62L216.54 40.07L215.97 40.51L215.8 40.96L216.1 41.4L216.76 41.84L217.63 42.29L218.46 42.73L219.03 43.18L219.2 43.62L218.9 44.07L218.24 44.51L217.37 44.96L216.54 45.4M216.54 37.4L215.97 37.84L215.8 38.29L216.1 38.73L216.76 39.18L217.63 39.62L218.46 40.07L219.03 40.51L219.2 40.96L218.9 41.4L218.24 41.84L217.37 42.29L216.54 42.73L215.97 43.18L215.8 43.62L216.1 44.07L216.76 44.51L217.63 44.96L218.46 45.4" stroke="#d9b0d2" stroke-width=".75" fill="none" stroke-opacity="1"/>
<rect x="216.48" y="37.8" width="2.04" height="7.2" fill="#d9b0d2" fill-opacity=".3"/>
<path d="M223.38 36.9L223.78 37.29L223.9 37.68L223.69 38.07L223.22 38.46L222.61 38.84L222.02 39.23L221.62 39.62L221.5 40.01L221.71 40.4L222.18 40.79L222.79 41.18L223.38 41.57L223.78 41.96L223.9 42.34L223.69 42.73L223.22 43.12L222.61 43.51L222.02 43.9M222.02 36.9L221.62 37.29L221.5 37.68L221.71 38.07L222.18 38.46L222.79 38.84L223.38 39.23L223.78 39.62L223.9 40.01L223.69 40.4L223.22 40.79L222.61 41.18L222.02 41.57L221.62 41.96L221.5 42.34L221.71 42.73L222.18 43.12L222.79 43.51L223.38 43.9" stroke="#e88c48" stroke-width=".75" fill="none" stroke-opacity="1"/>
<rect x="221.98" y="37.3" width="1.44" height="6.2" fill="#e88c48" fill-opacity=".3"/>
<path d="M222.16 44.5L222.73 44.94L222.9 45.39L222.6 45.83L221.94 46.28L221.07 46.72L220.24 47.17L219.67 47.61L219.5 48.06L219.8 48.5L220.46 48.94L221.33 49.39L222.16 49.83L222.73 50.28L222.9 50.72L222.6 51.17L221.94 51.61L221.07 52.06L220.24 52.5M220.24 44.5L219.67 44.94L219.5 45.39L219.8 45.83L220.46 46.28L221.33 46.72L222.16 47.17L222.73 47.61L222.9 48.06L222.6 48.5L221.94 48.94L221.07 49.39L220.24 49.83L219.67 50.28L219.5 50.72L219.8 51.17L220.46 51.61L221.33 52.06L222.16 52.5" stroke="#a6d6e2" stroke-width=".75" fill="none" stroke-opacity="1"/>
<rect x="220.18" y="44.9" width="2.04" height="7.2" fill="#a6d6e2" fill-opacity=".3"/>
<line x1="230.2" y1="41.7" x2="240.64" y2="41.7" stroke="#111" stroke-width="1.15"/>
<polygon points="244.7,41.7 238.9,44.35 240.52,41.7 238.9,39.05" fill="#111"/>
<rect x="250" y="33.65" width="15.8" height="1.5" rx=".5" fill="#111"/><rect x="252.7" y="33.7" width="10.4" height="1.4" fill="#b6dc8a"/>
<rect x="245.2" y="36.95" width="18.4" height="1.5" rx=".5" fill="#111"/><rect x="247.9" y="37" width="13" height="1.4" fill="#e0207a"/>
<rect x="247.4" y="40.35" width="16.6" height="1.5" rx=".5" fill="#111"/><rect x="250.1" y="40.4" width="11.2" height="1.4" fill="#a8d8e6"/>
<rect x="245.2" y="43.25" width="17.5" height="1.5" rx=".5" fill="#111"/><rect x="247.9" y="43.3" width="12.1" height="1.4" fill="#ee8a30"/>
<rect x="247.9" y="46.85" width="16.1" height="1.5" rx=".5" fill="#111"/><rect x="250.6" y="46.9" width="10.7" height="1.4" fill="#f0c890"/>
<text x="207.3" y="68.7" font-size="5.6" text-anchor="middle" fill="#1c1c1c" stroke="#1c1c1c" stroke-width="0.1" transform="rotate(.03 207.3 68.7)">gDNA</text>
<text x="207.3" y="75.6" font-size="5.6" text-anchor="middle" fill="#1c1c1c" stroke="#1c1c1c" stroke-width="0.1" transform="rotate(.03 207.3 75.6)">isolation</text>
<text x="245" y="68.7" font-size="5.6" text-anchor="middle" fill="#1c1c1c" stroke="#1c1c1c" stroke-width="0.1" transform="rotate(.03 245 68.7)">sgRNA</text>
<text x="245.3" y="75.6" font-size="5.6" text-anchor="middle" fill="#1c1c1c" stroke="#1c1c1c" stroke-width="0.1" transform="rotate(.03 245.3 75.6)">amplification</text>
<line x1="200.3" y1="98" x2="210.84" y2="98" stroke="#111" stroke-width="1.15"/>
<polygon points="214.9,98 209.1,100.65 210.72,98 209.1,95.35" fill="#111"/>
<path d="M220.16 88L220.73 88.44L220.9 88.89L220.6 89.33L219.94 89.78L219.07 90.22L218.24 90.67L217.67 91.11L217.5 91.56L217.8 92L218.46 92.44L219.33 92.89L220.16 93.33L220.73 93.78L220.9 94.22L220.6 94.67L219.94 95.11L219.07 95.56L218.24 96M218.24 88L217.67 88.44L217.5 88.89L217.8 89.33L218.46 89.78L219.33 90.22L220.16 90.67L220.73 91.11L220.9 91.56L220.6 92L219.94 92.44L219.07 92.89L218.24 93.33L217.67 93.78L217.5 94.22L217.8 94.67L218.46 95.11L219.33 95.56L220.16 96" stroke="#cfe6bf" stroke-width=".75" fill="none" stroke-opacity="1"/>
<rect x="218.18" y="88.4" width="2.04" height="7.2" fill="#cfe6bf" fill-opacity=".3"/>
<path d="M219.06 98.2L219.63 98.64L219.8 99.09L219.5 99.53L218.84 99.98L217.97 100.42L217.14 100.87L216.57 101.31L216.4 101.76L216.7 102.2L217.36 102.64L218.23 103.09L219.06 103.53L219.63 103.98L219.8 104.42L219.5 104.87L218.84 105.31L217.97 105.76L217.14 106.2M217.14 98.2L216.57 98.64L216.4 99.09L216.7 99.53L217.36 99.98L218.23 100.42L219.06 100.87L219.63 101.31L219.8 101.76L219.5 102.2L218.84 102.64L217.97 103.09L217.14 103.53L216.57 103.98L216.4 104.42L216.7 104.87L217.36 105.31L218.23 105.76L219.06 106.2" stroke="#cfe6bf" stroke-width=".75" fill="none" stroke-opacity="1"/>
<rect x="217.08" y="98.6" width="2.04" height="7.2" fill="#cfe6bf" fill-opacity=".3"/>
<path d="M224.53 95.2L224.97 95.61L225.1 96.02L224.87 96.43L224.36 96.84L223.7 97.26L223.07 97.67L222.63 98.08L222.5 98.49L222.73 98.9L223.24 99.31L223.9 99.72L224.53 100.13L224.97 100.54L225.1 100.96L224.87 101.37L224.36 101.78L223.7 102.19L223.07 102.6M223.07 95.2L222.63 95.61L222.5 96.02L222.73 96.43L223.24 96.84L223.9 97.26L224.53 97.67L224.97 98.08L225.1 98.49L224.87 98.9L224.36 99.31L223.7 99.72L223.07 100.13L222.63 100.54L222.5 100.96L222.73 101.37L223.24 101.78L223.9 102.19L224.53 102.6" stroke="#e89a5c" stroke-width=".75" fill="none" stroke-opacity="1"/>
<rect x="223.02" y="95.6" width="1.56" height="6.6" fill="#e89a5c" fill-opacity=".3"/>
<line x1="230.2" y1="98" x2="240.64" y2="98" stroke="#111" stroke-width="1.15"/>
<polygon points="244.7,98 238.9,100.65 240.52,98 238.9,95.35" fill="#111"/>
<rect x="252.4" y="91.85" width="15.7" height="1.5" rx=".5" fill="#111"/><rect x="255.1" y="91.9" width="10.3" height="1.4" fill="#e0207a"/>
<rect x="248.3" y="95.05" width="16.2" height="1.5" rx=".5" fill="#111"/><rect x="251" y="95.1" width="10.8" height="1.4" fill="#e0207a"/>
<rect x="250" y="98.35" width="16.3" height="1.5" rx=".5" fill="#111"/><rect x="252.7" y="98.4" width="10.9" height="1.4" fill="#a8d8e6"/>
<rect x="248.3" y="101.75" width="15.7" height="1.5" rx=".5" fill="#111"/><rect x="251" y="101.8" width="10.3" height="1.4" fill="#e0207a"/>
<rect x="251" y="104.95" width="15.8" height="1.5" rx=".5" fill="#111"/><rect x="253.7" y="105" width="10.4" height="1.4" fill="#a8d8e6"/>
<path d="M266.5 41.7H316.5V48" fill="none" stroke="#111" stroke-width="1.15"/>
<polygon points="316.5,51.2 313.85,45.4 316.5,47.02 319.15,45.4" fill="#111"/>
<path d="M268.5 97.9H316.5V92.5" fill="none" stroke="#111" stroke-width="1.15"/>
<polygon points="316.5,89.2 319.15,95 316.5,93.38 313.85,95" fill="#111"/>
<text x="286" y="69" font-size="5.6" text-anchor="middle" fill="#1c1c1c" stroke="#1c1c1c" stroke-width="0.1" transform="rotate(.03 286 69)">deep</text>
<text x="286" y="75.9" font-size="5.6" text-anchor="middle" fill="#1c1c1c" stroke="#1c1c1c" stroke-width="0.1" transform="rotate(.03 286 75.9)">sequencing</text>
<text x="318" y="62.6" font-size="5.6" text-anchor="middle" fill="#1c1c1c" textLength="33" lengthAdjust="spacingAndGlyphs" stroke="#1c1c1c" stroke-width="0.1" transform="rotate(.03 318 62.6)">identification</text>
<text x="317.8" y="69.6" font-size="5.6" text-anchor="middle" fill="#1c1c1c" textLength="29.1" lengthAdjust="spacingAndGlyphs" stroke="#1c1c1c" stroke-width="0.1" transform="rotate(.03 317.8 69.6)">of surviving</text>
<text x="317.8" y="76.5" font-size="5.6" text-anchor="middle" fill="#1c1c1c" stroke="#1c1c1c" stroke-width="0.1" transform="rotate(.03 317.8 76.5)">sgRNA</text>
<text x="317.8" y="83.4" font-size="5.6" text-anchor="middle" fill="#1c1c1c" stroke="#1c1c1c" stroke-width="0.1" transform="rotate(.03 317.8 83.4)">sequences</text>
<line x1="340.1" y1="70.7" x2="361" y2="70.7" stroke="#2e88cc" stroke-width="1.2" stroke-dasharray="1.7 1"/>
<polygon points="365.9,70.7 359.3,73.3 361.15,70.7 359.3,68.1" fill="#2e88cc"/>
<text x="358.6" y="17.82" font-size="12.4" text-anchor="middle" fill="#000" font-weight="bold" stroke="#000" stroke-width=".45" textLength="7.7" lengthAdjust="spacingAndGlyphs" transform="rotate(.03 358.6 17.82)">D</text>
<text x="399" y="29.04" font-size="5.7" text-anchor="middle" fill="#1c1c1c" textLength="64.4" lengthAdjust="spacingAndGlyphs" transform="rotate(.03 399 29.04)"><tspan fill="#d5412b" stroke="#d5412b" stroke-width=".1">MYC</tspan><tspan fill="#1c1c1c">/</tspan><tspan fill="#5bad45" stroke="#5bad45" stroke-width=".1">IL10RA</tspan><tspan fill="#1c1c1c">/</tspan><tspan fill="#3dac80" stroke="#3dac80" stroke-width=".1">ADORA2A</tspan><tspan fill="#1c1c1c">/</tspan></text>
<text x="399" y="35.84" font-size="5.7" text-anchor="middle" fill="#1c1c1c" textLength="44.6" lengthAdjust="spacingAndGlyphs" transform="rotate(.03 399 35.84)"><tspan fill="#3a9bbf" stroke="#3a9bbf" stroke-width=".1">GPR161</tspan><tspan fill="#1c1c1c">/</tspan><tspan fill="#e8803a" stroke="#e8803a" stroke-width=".1">MKNK1</tspan><tspan fill="#1c1c1c">/</tspan></text>
<text x="399" y="42.64" font-size="5.7" text-anchor="middle" fill="#1c1c1c" textLength="62.6" lengthAdjust="spacingAndGlyphs" transform="rotate(.03 399 42.64)"><tspan fill="#5050b0" stroke="#5050b0" stroke-width=".1">PGBD1</tspan><tspan fill="#1c1c1c">/</tspan><tspan fill="#a54cb6" stroke="#a54cb6" stroke-width=".1">SH2D2A</tspan><tspan fill="#1c1c1c">/</tspan><tspan fill="#e4503e" stroke="#e4503e" stroke-width=".1">RORC</tspan><tspan fill="#1c1c1c">/</tspan></text>
<text x="399" y="49.54" font-size="5.7" text-anchor="middle" fill="#1c1c1c" textLength="35.6" lengthAdjust="spacingAndGlyphs" transform="rotate(.03 399 49.54)"><tspan fill="#db3a9b" stroke="#db3a9b" stroke-width=".1">P2RY6</tspan><tspan fill="#1c1c1c">/</tspan><tspan fill="#5a5cc4" stroke="#5a5cc4" stroke-width=".1">HELZ2</tspan></text>
<text x="399" y="56.54" font-size="5.7" text-anchor="middle" fill="#1c1c1c" textLength="49.3" lengthAdjust="spacingAndGlyphs" stroke="#1c1c1c" stroke-width="0.1" transform="rotate(.03 399 56.54)">GeCKO v2 sgRNAs</text>
<path d="M383.01 72.74L384.27 73.03M381.63 74.34L382.29 75.33M379.36 74.62L379.04 75.73M377.52 73.43L376.4 74.01M377.19 71.46L375.93 71.17M378.57 69.86L377.91 68.87M380.84 69.58L381.16 68.47M382.68 70.77L383.8 70.19" stroke="#2a2a2a" stroke-width="1.3" fill="none"/>
<ellipse cx="380.1" cy="72.1" rx="3.15" ry="2.75" fill="#f4f4f4" stroke="#2a2a2a" stroke-width=".8"/>
<path d="M378 73.1L379.7 70.2M380.6 74L382.3 71.2" stroke="#4a4a4a" stroke-width=".7" fill="none"/>
<line x1="379.2" y1="73.6" x2="381" y2="70.5" stroke="#4a90d0" stroke-width="1"/>
<path d="M391.61 72.74L392.87 73.03M390.23 74.34L390.89 75.33M387.96 74.62L387.64 75.73M386.12 73.43L385 74.01M385.79 71.46L384.53 71.17M387.17 69.86L386.51 68.87M389.44 69.58L389.76 68.47M391.28 70.77L392.4 70.19" stroke="#2a2a2a" stroke-width="1.3" fill="none"/>
<ellipse cx="388.7" cy="72.1" rx="3.15" ry="2.75" fill="#f4f4f4" stroke="#2a2a2a" stroke-width=".8"/>
<path d="M386.6 73.1L388.3 70.2M389.2 74L390.9 71.2" stroke="#4a4a4a" stroke-width=".7" fill="none"/>
<line x1="387.8" y1="73.6" x2="389.6" y2="70.5" stroke="#4a90d0" stroke-width="1"/>
<path d="M400.01 72.74L401.27 73.03M398.63 74.34L399.29 75.33M396.36 74.62L396.04 75.73M394.52 73.43L393.4 74.01M394.19 71.46L392.93 71.17M395.57 69.86L394.91 68.87M397.84 69.58L398.16 68.47M399.68 70.77L400.8 70.19" stroke="#2a2a2a" stroke-width="1.3" fill="none"/>
<ellipse cx="397.1" cy="72.1" rx="3.15" ry="2.75" fill="#f4f4f4" stroke="#2a2a2a" stroke-width=".8"/>
<path d="M395 73.1L396.7 70.2M397.6 74L399.3 71.2" stroke="#4a4a4a" stroke-width=".7" fill="none"/>
<line x1="396.2" y1="73.6" x2="398" y2="70.5" stroke="#888" stroke-width="1"/>
<path d="M408.11 72.74L409.37 73.03M406.73 74.34L407.39 75.33M404.46 74.62L404.14 75.73M402.62 73.43L401.5 74.01M402.29 71.46L401.03 71.17M403.67 69.86L403.01 68.87M405.94 69.58L406.26 68.47M407.78 70.77L408.9 70.19" stroke="#2a2a2a" stroke-width="1.3" fill="none"/>
<ellipse cx="405.2" cy="72.1" rx="3.15" ry="2.75" fill="#f4f4f4" stroke="#2a2a2a" stroke-width=".8"/>
<path d="M403.1 73.1L404.8 70.2M405.7 74L407.4 71.2" stroke="#4a4a4a" stroke-width=".7" fill="none"/>
<line x1="404.3" y1="73.6" x2="406.1" y2="70.5" stroke="#8a50c0" stroke-width="1"/>
<path d="M416.71 72.74L417.97 73.03M415.33 74.34L415.99 75.33M413.06 74.62L412.74 75.73M411.22 73.43L410.1 74.01M410.89 71.46L409.63 71.17M412.27 69.86L411.61 68.87M414.54 69.58L414.86 68.47M416.38 70.77L417.5 70.19" stroke="#2a2a2a" stroke-width="1.3" fill="none"/>
<ellipse cx="413.8" cy="72.1" rx="3.15" ry="2.75" fill="#f4f4f4" stroke="#2a2a2a" stroke-width=".8"/>
<path d="M411.7 73.1L413.4 70.2M414.3 74L416 71.2" stroke="#4a4a4a" stroke-width=".7" fill="none"/>
<line x1="412.9" y1="73.6" x2="414.7" y2="70.5" stroke="#8a50c0" stroke-width="1"/>
<path d="M387.31 65.84L388.57 66.13M385.93 67.44L386.59 68.43M383.66 67.72L383.34 68.83M381.82 66.53L380.7 67.11M381.49 64.56L380.23 64.27M382.87 62.96L382.21 61.97M385.14 62.68L385.46 61.57M386.98 63.87L388.1 63.29" stroke="#2a2a2a" stroke-width="1.3" fill="none"/>
<ellipse cx="384.4" cy="65.2" rx="3.15" ry="2.75" fill="#f4f4f4" stroke="#2a2a2a" stroke-width=".8"/>
<path d="M382.3 66.2L384 63.3M384.9 67.1L386.6 64.3" stroke="#4a4a4a" stroke-width=".7" fill="none"/>
<line x1="383.5" y1="66.7" x2="385.3" y2="63.6" stroke="#e0603a" stroke-width="1"/>
<path d="M395.61 65.84L396.87 66.13M394.23 67.44L394.89 68.43M391.96 67.72L391.64 68.83M390.12 66.53L389 67.11M389.79 64.56L388.53 64.27M391.17 62.96L390.51 61.97M393.44 62.68L393.76 61.57M395.28 63.87L396.4 63.29" stroke="#2a2a2a" stroke-width="1.3" fill="none"/>
<ellipse cx="392.7" cy="65.2" rx="3.15" ry="2.75" fill="#f4f4f4" stroke="#2a2a2a" stroke-width=".8"/>
<path d="M390.6 66.2L392.3 63.3M393.2 67.1L394.9 64.3" stroke="#4a4a4a" stroke-width=".7" fill="none"/>
<line x1="391.8" y1="66.7" x2="393.6" y2="63.6" stroke="#c050b0" stroke-width="1"/>
<path d="M403.81 65.84L405.07 66.13M402.43 67.44L403.09 68.43M400.16 67.72L399.84 68.83M398.32 66.53L397.2 67.11M397.99 64.56L396.73 64.27M399.37 62.96L398.71 61.97M401.64 62.68L401.96 61.57M403.48 63.87L404.6 63.29" stroke="#2a2a2a" stroke-width="1.3" fill="none"/>
<ellipse cx="400.9" cy="65.2" rx="3.15" ry="2.75" fill="#f4f4f4" stroke="#2a2a2a" stroke-width=".8"/>
<path d="M398.8 66.2L400.5 63.3M401.4 67.1L403.1 64.3" stroke="#4a4a4a" stroke-width=".7" fill="none"/>
<line x1="400" y1="66.7" x2="401.8" y2="63.6" stroke="#3aa0a8" stroke-width="1"/>
<path d="M412.41 65.84L413.67 66.13M411.03 67.44L411.69 68.43M408.76 67.72L408.44 68.83M406.92 66.53L405.8 67.11M406.59 64.56L405.33 64.27M407.97 62.96L407.31 61.97M410.24 62.68L410.56 61.57M412.08 63.87L413.2 63.29" stroke="#2a2a2a" stroke-width="1.3" fill="none"/>
<ellipse cx="409.5" cy="65.2" rx="3.15" ry="2.75" fill="#f4f4f4" stroke="#2a2a2a" stroke-width=".8"/>
<path d="M407.4 66.2L409.1 63.3M410 67.1L411.7 64.3" stroke="#4a4a4a" stroke-width=".7" fill="none"/>
<line x1="408.6" y1="66.7" x2="410.4" y2="63.6" stroke="#e89030" stroke-width="1"/>
<path d="M421.11 65.84L422.37 66.13M419.73 67.44L420.39 68.43M417.46 67.72L417.14 68.83M415.62 66.53L414.5 67.11M415.29 64.56L414.03 64.27M416.67 62.96L416.01 61.97M418.94 62.68L419.26 61.57M420.78 63.87L421.9 63.29" stroke="#2a2a2a" stroke-width="1.3" fill="none"/>
<ellipse cx="418.2" cy="65.2" rx="3.15" ry="2.75" fill="#f4f4f4" stroke="#2a2a2a" stroke-width=".8"/>
<path d="M416.1 66.2L417.8 63.3M418.7 67.1L420.4 64.3" stroke="#4a4a4a" stroke-width=".7" fill="none"/>
<line x1="417.3" y1="66.7" x2="419.1" y2="63.6" stroke="#4a80d0" stroke-width="1"/>
<path d="M399.2 76.5V85.8H445.4" fill="none" stroke="#111" stroke-width="1.15"/>
<text x="450" y="34.4" font-size="5.6" text-anchor="middle" fill="#1c1c1c" stroke="#1c1c1c" stroke-width="0.1" transform="rotate(.03 450 34.4)">naive ALCL</text>
<text x="450" y="41.3" font-size="5.6" text-anchor="middle" fill="#1c1c1c" stroke="#1c1c1c" stroke-width="0.1" transform="rotate(.03 450 41.3)">cell line</text>
<circle cx="445.4" cy="52.6" r="2.9" fill="#e0eefa" stroke="#2a86ca" stroke-width=".95"/><circle cx="445.4" cy="52.6" r="1.3" fill="#e6f1fb" stroke="#2a86ca" stroke-width=".5"/><circle cx="445.4" cy="52.6" r="0.72" fill="#1c76c2"/>
<circle cx="453.2" cy="52.6" r="2.9" fill="#e0eefa" stroke="#2a86ca" stroke-width=".95"/><circle cx="453.2" cy="52.6" r="1.3" fill="#e6f1fb" stroke="#2a86ca" stroke-width=".5"/><circle cx="453.2" cy="52.6" r="0.72" fill="#1c76c2"/>
<circle cx="448.9" cy="57.3" r="2.9" fill="#e0eefa" stroke="#2a86ca" stroke-width=".95"/><circle cx="448.9" cy="57.3" r="1.3" fill="#e6f1fb" stroke="#2a86ca" stroke-width=".5"/><circle cx="448.9" cy="57.3" r="0.72" fill="#1c76c2"/>
<circle cx="457.9" cy="57.3" r="2.9" fill="#e0eefa" stroke="#2a86ca" stroke-width=".95"/><circle cx="457.9" cy="57.3" r="1.3" fill="#e6f1fb" stroke="#2a86ca" stroke-width=".5"/><circle cx="457.9" cy="57.3" r="0.72" fill="#1c76c2"/>
<circle cx="442" cy="60.4" r="2.9" fill="#e0eefa" stroke="#2a86ca" stroke-width=".95"/><circle cx="442" cy="60.4" r="1.3" fill="#e6f1fb" stroke="#2a86ca" stroke-width=".5"/><circle cx="442" cy="60.4" r="0.72" fill="#1c76c2"/>
<circle cx="452.3" cy="62.5" r="2.9" fill="#e0eefa" stroke="#2a86ca" stroke-width=".95"/><circle cx="452.3" cy="62.5" r="1.3" fill="#e6f1fb" stroke="#2a86ca" stroke-width=".5"/><circle cx="452.3" cy="62.5" r="0.72" fill="#1c76c2"/>
<circle cx="438.8" cy="65.6" r="2.9" fill="#e0eefa" stroke="#2a86ca" stroke-width=".95"/><circle cx="438.8" cy="65.6" r="1.3" fill="#e6f1fb" stroke="#2a86ca" stroke-width=".5"/><circle cx="438.8" cy="65.6" r="0.72" fill="#1c76c2"/>
<circle cx="446.1" cy="65.4" r="2.9" fill="#e0eefa" stroke="#2a86ca" stroke-width=".95"/><circle cx="446.1" cy="65.4" r="1.3" fill="#e6f1fb" stroke="#2a86ca" stroke-width=".5"/><circle cx="446.1" cy="65.4" r="0.72" fill="#1c76c2"/>
<circle cx="457.9" cy="65.1" r="2.9" fill="#e0eefa" stroke="#2a86ca" stroke-width=".95"/><circle cx="457.9" cy="65.1" r="1.3" fill="#e6f1fb" stroke="#2a86ca" stroke-width=".5"/><circle cx="457.9" cy="65.1" r="0.72" fill="#1c76c2"/>
<circle cx="452.2" cy="69.4" r="2.9" fill="#e0eefa" stroke="#2a86ca" stroke-width=".95"/><circle cx="452.2" cy="69.4" r="1.3" fill="#e6f1fb" stroke="#2a86ca" stroke-width=".5"/><circle cx="452.2" cy="69.4" r="0.72" fill="#1c76c2"/>
<circle cx="440.9" cy="72" r="2.9" fill="#e0eefa" stroke="#2a86ca" stroke-width=".95"/><circle cx="440.9" cy="72" r="1.3" fill="#e6f1fb" stroke="#2a86ca" stroke-width=".5"/><circle cx="440.9" cy="72" r="0.72" fill="#1c76c2"/>
<circle cx="447" cy="74.3" r="2.9" fill="#e0eefa" stroke="#2a86ca" stroke-width=".95"/><circle cx="447" cy="74.3" r="1.3" fill="#e6f1fb" stroke="#2a86ca" stroke-width=".5"/><circle cx="447" cy="74.3" r="0.72" fill="#1c76c2"/>
<circle cx="453.6" cy="76" r="2.9" fill="#e0eefa" stroke="#2a86ca" stroke-width=".95"/><circle cx="453.6" cy="76" r="1.3" fill="#e6f1fb" stroke="#2a86ca" stroke-width=".5"/><circle cx="453.6" cy="76" r="0.72" fill="#1c76c2"/>
<line x1="445.4" y1="80.2" x2="445.4" y2="91.34" stroke="#111" stroke-width="1.15"/>
<polygon points="445.4,95.4 442.75,89.6 445.4,91.22 448.05,89.6" fill="#111"/>
<g stroke="#111" fill="none" stroke-width=".65"><circle cx="465.85" cy="79.8" r="1.45" fill="#fff"/><ellipse cx="471.9" cy="86.1" rx="1.75" ry="1.35" fill="#fff"/><path d="M465.4 81.3L466.5 81.4L466.0 88L463.7 94.3L462.9 93.9L464.5 88Z" fill="#111" stroke-width=".3"/><path d="M470.2 85.4L470.2 86.6L464 87.7L457.1 87.9L457.1 87.1L463.5 85.9Z" fill="#111" stroke-width=".3"/></g>
<circle cx="451" cy="95.9" r="2.9" fill="#e0eefa" stroke="#2a86ca" stroke-width=".95"/><circle cx="451" cy="95.9" r="1.3" fill="#e6f1fb" stroke="#2a86ca" stroke-width=".5"/><circle cx="451" cy="95.9" r="0.9" fill="#e8501e"/>
<circle cx="440.9" cy="99.4" r="2.9" fill="#e0eefa" stroke="#2a86ca" stroke-width=".95"/><circle cx="440.9" cy="99.4" r="1.3" fill="#e6f1fb" stroke="#2a86ca" stroke-width=".5"/><circle cx="440.9" cy="99.4" r="0.9" fill="#2f8ed0"/>
<circle cx="456.7" cy="101.8" r="2.9" fill="#e0eefa" stroke="#2a86ca" stroke-width=".95"/><circle cx="456.7" cy="101.8" r="1.3" fill="#e6f1fb" stroke="#2a86ca" stroke-width=".5"/><circle cx="456.7" cy="101.8" r="0.9" fill="#ee8a1e"/>
<circle cx="450.4" cy="104" r="2.9" fill="#e0eefa" stroke="#2a86ca" stroke-width=".95"/><circle cx="450.4" cy="104" r="1.3" fill="#e6f1fb" stroke="#2a86ca" stroke-width=".5"/><circle cx="450.4" cy="104" r="0.9" fill="#b09878"/>
<circle cx="444.4" cy="105.8" r="2.9" fill="#e0eefa" stroke="#2a86ca" stroke-width=".95"/><circle cx="444.4" cy="105.8" r="1.3" fill="#e6f1fb" stroke="#2a86ca" stroke-width=".5"/><circle cx="444.4" cy="105.8" r="0.9" fill="#4a1a6a"/>
<circle cx="438.3" cy="108.7" r="2.9" fill="#e0eefa" stroke="#2a86ca" stroke-width=".95"/><circle cx="438.3" cy="108.7" r="1.3" fill="#e6f1fb" stroke="#2a86ca" stroke-width=".5"/><circle cx="438.3" cy="108.7" r="0.9" fill="#ee8a1e"/>
<circle cx="455.8" cy="108.4" r="2.9" fill="#e0eefa" stroke="#2a86ca" stroke-width=".95"/><circle cx="455.8" cy="108.4" r="1.3" fill="#e6f1fb" stroke="#2a86ca" stroke-width=".5"/><circle cx="455.8" cy="108.4" r="0.9" fill="#1e8ea0"/>
<circle cx="449.7" cy="111" r="2.9" fill="#e0eefa" stroke="#2a86ca" stroke-width=".95"/><circle cx="449.7" cy="111" r="1.3" fill="#e6f1fb" stroke="#2a86ca" stroke-width=".5"/><circle cx="449.7" cy="111" r="0.9" fill="#e02a20"/>
<circle cx="443.2" cy="113.6" r="2.9" fill="#e0eefa" stroke="#2a86ca" stroke-width=".95"/><circle cx="443.2" cy="113.6" r="1.3" fill="#e6f1fb" stroke="#2a86ca" stroke-width=".5"/><circle cx="443.2" cy="113.6" r="0.9" fill="#ee4aa8"/>
<circle cx="459.6" cy="113.2" r="2.9" fill="#e0eefa" stroke="#2a86ca" stroke-width=".95"/><circle cx="459.6" cy="113.2" r="1.3" fill="#e6f1fb" stroke="#2a86ca" stroke-width=".5"/><circle cx="459.6" cy="113.2" r="0.9" fill="#7b2fa0"/>
<circle cx="442.8" cy="119.3" r="2.9" fill="#e0eefa" stroke="#2a86ca" stroke-width=".95"/><circle cx="442.8" cy="119.3" r="1.3" fill="#e6f1fb" stroke="#2a86ca" stroke-width=".5"/><circle cx="442.8" cy="119.3" r="0.9" fill="#86bc2a"/>
<circle cx="448.9" cy="118.7" r="2.9" fill="#e0eefa" stroke="#2a86ca" stroke-width=".95"/><circle cx="448.9" cy="118.7" r="1.3" fill="#e6f1fb" stroke="#2a86ca" stroke-width=".5"/><circle cx="448.9" cy="118.7" r="0.9" fill="#1e8ea0"/>
<circle cx="456.2" cy="119.3" r="2.9" fill="#e0eefa" stroke="#2a86ca" stroke-width=".95"/><circle cx="456.2" cy="119.3" r="1.3" fill="#e6f1fb" stroke="#2a86ca" stroke-width=".5"/><circle cx="456.2" cy="119.3" r="0.9" fill="#7b2fa0"/>
<text x="503.8" y="107.7" font-size="5.6" text-anchor="middle" fill="#1c1c1c" stroke="#1c1c1c" stroke-width="0.1" transform="rotate(.03 503.8 107.7)">day 0</text>
<text x="503.8" y="153.7" font-size="5.6" text-anchor="middle" fill="#1c1c1c" stroke="#1c1c1c" stroke-width="0.1" transform="rotate(.03 503.8 153.7)">day 14</text>
<text x="426.9" y="132.5" font-size="5.6" text-anchor="middle" fill="#1c1c1c" textLength="23" lengthAdjust="spacingAndGlyphs" stroke="#1c1c1c" stroke-width="0.1" transform="rotate(.03 426.9 132.5)">crizotinib</text>
<text x="469.8" y="132.5" font-size="5.6" text-anchor="middle" fill="#1c1c1c" stroke="#1c1c1c" stroke-width="0.1" transform="rotate(.03 469.8 132.5)">DMSO</text>
<line x1="447.9" y1="125.6" x2="433.14" y2="146.48" stroke="#111" stroke-width="1.15"/>
<polygon points="430.8,149.8 431.98,143.53 433.21,146.39 436.31,146.59" fill="#111"/>
<line x1="447.5" y1="125.6" x2="462.44" y2="146.5" stroke="#111" stroke-width="1.15"/>
<polygon points="464.8,149.8 459.27,146.62 462.37,146.4 463.58,143.54" fill="#111"/>
<circle cx="423.1" cy="139.8" r="2.9" fill="#e0eefa" stroke="#2a86ca" stroke-width=".95"/><circle cx="423.1" cy="139.8" r="1.3" fill="#e6f1fb" stroke="#2a86ca" stroke-width=".5"/><circle cx="423.1" cy="139.8" r="0.9" fill="#86bc2a"/>
<circle cx="418.7" cy="145" r="2.9" fill="#e0eefa" stroke="#2a86ca" stroke-width=".95"/><circle cx="418.7" cy="145" r="1.3" fill="#e6f1fb" stroke="#2a86ca" stroke-width=".5"/><circle cx="418.7" cy="145" r="0.9" fill="#909090"/>
<circle cx="426.9" cy="146" r="2.9" fill="#e0eefa" stroke="#2a86ca" stroke-width=".95"/><circle cx="426.9" cy="146" r="1.3" fill="#e6f1fb" stroke="#2a86ca" stroke-width=".5"/><circle cx="426.9" cy="146" r="0.9" fill="#909090"/>
<circle cx="416" cy="150.8" r="2.9" fill="#e0eefa" stroke="#2a86ca" stroke-width=".95"/><circle cx="416" cy="150.8" r="1.3" fill="#e6f1fb" stroke="#2a86ca" stroke-width=".5"/><circle cx="416" cy="150.8" r="0.9" fill="#909090"/>
<circle cx="425" cy="152.3" r="2.9" fill="#e0eefa" stroke="#2a86ca" stroke-width=".95"/><circle cx="425" cy="152.3" r="1.3" fill="#e6f1fb" stroke="#2a86ca" stroke-width=".5"/><circle cx="425" cy="152.3" r="0.9" fill="#86bc2a"/>
<circle cx="436" cy="151.2" r="2.9" fill="#e0eefa" stroke="#2a86ca" stroke-width=".95"/><circle cx="436" cy="151.2" r="1.3" fill="#e6f1fb" stroke="#2a86ca" stroke-width=".5"/><circle cx="436" cy="151.2" r="0.9" fill="#909090"/>
<circle cx="418.7" cy="157.5" r="2.9" fill="#e0eefa" stroke="#2a86ca" stroke-width=".95"/><circle cx="418.7" cy="157.5" r="1.3" fill="#e6f1fb" stroke="#2a86ca" stroke-width=".5"/><circle cx="418.7" cy="157.5" r="0.9" fill="#86bc2a"/>
<circle cx="430.8" cy="156" r="2.9" fill="#e0eefa" stroke="#2a86ca" stroke-width=".95"/><circle cx="430.8" cy="156" r="1.3" fill="#e6f1fb" stroke="#2a86ca" stroke-width=".5"/><circle cx="430.8" cy="156" r="0.9" fill="#86bc2a"/>
<circle cx="436.9" cy="157.1" r="2.9" fill="#e0eefa" stroke="#2a86ca" stroke-width=".95"/><circle cx="436.9" cy="157.1" r="1.3" fill="#e6f1fb" stroke="#2a86ca" stroke-width=".5"/><circle cx="436.9" cy="157.1" r="0.9" fill="#909090"/>
<circle cx="424" cy="159.4" r="2.9" fill="#e0eefa" stroke="#2a86ca" stroke-width=".95"/><circle cx="424" cy="159.4" r="1.3" fill="#e6f1fb" stroke="#2a86ca" stroke-width=".5"/><circle cx="424" cy="159.4" r="0.9" fill="#909090"/>
<circle cx="431.3" cy="161.3" r="2.9" fill="#e0eefa" stroke="#2a86ca" stroke-width=".95"/><circle cx="431.3" cy="161.3" r="1.3" fill="#e6f1fb" stroke="#2a86ca" stroke-width=".5"/><circle cx="431.3" cy="161.3" r="0.9" fill="#909090"/>
<circle cx="420.8" cy="164.2" r="2.9" fill="#e0eefa" stroke="#2a86ca" stroke-width=".95"/><circle cx="420.8" cy="164.2" r="1.3" fill="#e6f1fb" stroke="#2a86ca" stroke-width=".5"/><circle cx="420.8" cy="164.2" r="0.9" fill="#86bc2a"/>
<circle cx="471.5" cy="144.6" r="2.9" fill="#e0eefa" stroke="#2a86ca" stroke-width=".95"/><circle cx="471.5" cy="144.6" r="1.3" fill="#e6f1fb" stroke="#2a86ca" stroke-width=".5"/><circle cx="471.5" cy="144.6" r="0.9" fill="#e02a20"/>
<circle cx="477.5" cy="143.7" r="2.9" fill="#e0eefa" stroke="#2a86ca" stroke-width=".95"/><circle cx="477.5" cy="143.7" r="1.3" fill="#e6f1fb" stroke="#2a86ca" stroke-width=".5"/><circle cx="477.5" cy="143.7" r="0.9" fill="#e0207a"/>
<circle cx="475.6" cy="149.8" r="2.9" fill="#e0eefa" stroke="#2a86ca" stroke-width=".95"/><circle cx="475.6" cy="149.8" r="1.3" fill="#e6f1fb" stroke="#2a86ca" stroke-width=".5"/><circle cx="475.6" cy="149.8" r="0.9" fill="#e02a20"/>
<circle cx="481.7" cy="149.2" r="2.9" fill="#e0eefa" stroke="#2a86ca" stroke-width=".95"/><circle cx="481.7" cy="149.2" r="1.3" fill="#e6f1fb" stroke="#2a86ca" stroke-width=".5"/><circle cx="481.7" cy="149.2" r="0.9" fill="#e0207a"/>
<circle cx="465.4" cy="153.7" r="2.9" fill="#e0eefa" stroke="#2a86ca" stroke-width=".95"/><circle cx="465.4" cy="153.7" r="1.3" fill="#e6f1fb" stroke="#2a86ca" stroke-width=".5"/><circle cx="465.4" cy="153.7" r="0.9" fill="#86bc2a"/>
<circle cx="472.1" cy="155.2" r="2.9" fill="#e0eefa" stroke="#2a86ca" stroke-width=".95"/><circle cx="472.1" cy="155.2" r="1.3" fill="#e6f1fb" stroke="#2a86ca" stroke-width=".5"/><circle cx="472.1" cy="155.2" r="0.9" fill="#e02a20"/>
<circle cx="478.5" cy="156" r="2.9" fill="#e0eefa" stroke="#2a86ca" stroke-width=".95"/><circle cx="478.5" cy="156" r="1.3" fill="#e6f1fb" stroke="#2a86ca" stroke-width=".5"/><circle cx="478.5" cy="156" r="0.9" fill="#e0207a"/>
<circle cx="460" cy="157.9" r="2.9" fill="#e0eefa" stroke="#2a86ca" stroke-width=".95"/><circle cx="460" cy="157.9" r="1.3" fill="#e6f1fb" stroke="#2a86ca" stroke-width=".5"/><circle cx="460" cy="157.9" r="0.9" fill="#86bc2a"/>
<circle cx="483.7" cy="159.8" r="2.9" fill="#e0eefa" stroke="#2a86ca" stroke-width=".95"/><circle cx="483.7" cy="159.8" r="1.3" fill="#e6f1fb" stroke="#2a86ca" stroke-width=".5"/><circle cx="483.7" cy="159.8" r="0.9" fill="#86bc2a"/>
<circle cx="465.4" cy="161" r="2.9" fill="#e0eefa" stroke="#2a86ca" stroke-width=".95"/><circle cx="465.4" cy="161" r="1.3" fill="#e6f1fb" stroke="#2a86ca" stroke-width=".5"/><circle cx="465.4" cy="161" r="0.9" fill="#86bc2a"/>
<circle cx="477.5" cy="162.3" r="2.9" fill="#e0eefa" stroke="#2a86ca" stroke-width=".95"/><circle cx="477.5" cy="162.3" r="1.3" fill="#e6f1fb" stroke="#2a86ca" stroke-width=".5"/><circle cx="477.5" cy="162.3" r="0.9" fill="#86bc2a"/>
<circle cx="471.2" cy="164.6" r="2.9" fill="#e0eefa" stroke="#2a86ca" stroke-width=".95"/><circle cx="471.2" cy="164.6" r="1.3" fill="#e6f1fb" stroke="#2a86ca" stroke-width=".5"/><circle cx="471.2" cy="164.6" r="0.9" fill="#86bc2a"/>
<line x1="422.1" y1="168.3" x2="422.1" y2="179.44" stroke="#111" stroke-width="1.15"/>
<polygon points="422.1,183.5 419.45,177.7 422.1,179.32 424.75,177.7" fill="#111"/>
<line x1="478.5" y1="168.3" x2="478.5" y2="179.44" stroke="#111" stroke-width="1.15"/>
<polygon points="478.5,183.5 475.85,177.7 478.5,179.32 481.15,177.7" fill="#111"/>
<text x="450.4" y="176.1" font-size="5.6" text-anchor="middle" fill="#1c1c1c" stroke="#1c1c1c" stroke-width="0.1" transform="rotate(.03 450.4 176.1)">gDNA isolation</text>
<text x="450.4" y="182.9" font-size="5.6" text-anchor="middle" fill="#1c1c1c" stroke="#1c1c1c" stroke-width="0.1" transform="rotate(.03 450.4 182.9)">&amp; sgRNA</text>
<text x="450.4" y="189.6" font-size="5.6" text-anchor="middle" fill="#1c1c1c" stroke="#1c1c1c" stroke-width="0.1" transform="rotate(.03 450.4 189.6)">amplification</text>
<rect x="415" y="194.85" width="15.8" height="1.5" rx=".5" fill="#111"/><rect x="417.7" y="194.9" width="10.4" height="1.4" fill="#7cc8a8"/>
<rect x="410.6" y="197.85" width="15.9" height="1.5" rx=".5" fill="#111"/><rect x="413.3" y="197.9" width="10.5" height="1.4" fill="#7cc8a8"/>
<rect x="412.5" y="201.35" width="16.7" height="1.5" rx=".5" fill="#111"/><rect x="415.2" y="201.4" width="11.3" height="1.4" fill="#b4ac9c"/>
<rect x="410.6" y="204.45" width="15.9" height="1.5" rx=".5" fill="#111"/><rect x="413.3" y="204.5" width="10.5" height="1.4" fill="#b4ac9c"/>
<rect x="413.5" y="207.75" width="16.3" height="1.5" rx=".5" fill="#111"/><rect x="416.2" y="207.8" width="10.9" height="1.4" fill="#7cc8a8"/>
<rect x="473" y="191.95" width="16" height="1.5" rx=".5" fill="#111"/><rect x="475.7" y="192" width="10.6" height="1.4" fill="#98cc60"/>
<rect x="468.7" y="194.95" width="15.9" height="1.5" rx=".5" fill="#111"/><rect x="471.4" y="195" width="10.5" height="1.4" fill="#e04830"/>
<rect x="471.2" y="198.45" width="16.3" height="1.5" rx=".5" fill="#111"/><rect x="473.9" y="198.5" width="10.9" height="1.4" fill="#e0207a"/>
<rect x="468.7" y="201.55" width="15.9" height="1.5" rx=".5" fill="#111"/><rect x="471.4" y="201.6" width="10.5" height="1.4" fill="#e0207a"/>
<rect x="471.5" y="204.85" width="16" height="1.5" rx=".5" fill="#111"/><rect x="474.2" y="204.9" width="10.6" height="1.4" fill="#e04830"/>
<line x1="422.1" y1="214" x2="422.1" y2="226.14" stroke="#111" stroke-width="1.15"/>
<polygon points="422.1,230.2 419.45,224.4 422.1,226.02 424.75,224.4" fill="#111"/>
<line x1="478.5" y1="214" x2="478.5" y2="226.14" stroke="#111" stroke-width="1.15"/>
<polygon points="478.5,230.2 475.85,224.4 478.5,226.02 481.15,224.4" fill="#111"/>
<text x="450.4" y="221.4" font-size="5.6" text-anchor="middle" fill="#1c1c1c" stroke="#1c1c1c" stroke-width="0.1" transform="rotate(.03 450.4 221.4)">deep</text>
<text x="450.4" y="228.3" font-size="5.6" text-anchor="middle" fill="#1c1c1c" stroke="#1c1c1c" stroke-width="0.1" transform="rotate(.03 450.4 228.3)">sequencing</text>
<text x="450.4" y="247.4" font-size="5.6" text-anchor="middle" fill="#1c1c1c" textLength="65" lengthAdjust="spacingAndGlyphs" stroke="#1c1c1c" stroke-width="0.1" transform="rotate(.03 450.4 247.4)">identification of depleted</text>
<text x="450.4" y="254.3" font-size="5.6" text-anchor="middle" fill="#1c1c1c" stroke="#1c1c1c" stroke-width="0.1" transform="rotate(.03 450.4 254.3)">sgRNA sequences</text>
<text x="11.75" y="158.74" font-size="11.6" text-anchor="middle" fill="#000" font-weight="bold" stroke="#000" stroke-width=".45" textLength="6.9" lengthAdjust="spacingAndGlyphs" transform="rotate(.03 11.75 158.74)">B</text>
<line x1="29.2" y1="166.2" x2="29.2" y2="269.3" stroke="#141414" stroke-width="1.4"/>
<line x1="28.5" y1="268.6" x2="151.3" y2="268.6" stroke="#141414" stroke-width="1.4"/>
<line x1="41.5" y1="268.6" x2="41.5" y2="271.7" stroke="#141414" stroke-width="0.9"/>
<line x1="65.9" y1="268.6" x2="65.9" y2="271.7" stroke="#141414" stroke-width="0.9"/>
<line x1="90.3" y1="268.6" x2="90.3" y2="271.7" stroke="#141414" stroke-width="0.9"/>
<line x1="114.7" y1="268.6" x2="114.7" y2="271.7" stroke="#141414" stroke-width="0.9"/>
<line x1="139.1" y1="268.6" x2="139.1" y2="271.7" stroke="#141414" stroke-width="0.9"/>
<g fill="#686868" fill-opacity=".38" stroke="#555" stroke-opacity=".3" stroke-width=".3">
<circle cx="48.72" cy="258.7" r="1.7"/>
<circle cx="40.33" cy="248.92" r="1.7"/>
<circle cx="31.66" cy="249.24" r="1.7"/>
<circle cx="47.43" cy="266.77" r="1.7"/>
<circle cx="51.64" cy="264.2" r="1.7"/>
<circle cx="35.86" cy="266.06" r="1.7"/>
<circle cx="41.46" cy="267.26" r="1.7"/>
<circle cx="50.01" cy="265.47" r="1.7"/>
<circle cx="40.77" cy="268.01" r="1.7"/>
<circle cx="36.06" cy="249.81" r="1.7"/>
<circle cx="30.26" cy="263.49" r="1.7"/>
<circle cx="31.93" cy="264.04" r="1.7"/>
<circle cx="35.64" cy="265.51" r="1.7"/>
<circle cx="62.66" cy="268.31" r="1.7"/>
<circle cx="32.19" cy="262.75" r="1.7"/>
<circle cx="62.52" cy="266.59" r="1.7"/>
<circle cx="39.58" cy="247.38" r="1.7"/>
<circle cx="53.34" cy="265.37" r="1.7"/>
<circle cx="40.28" cy="249.01" r="1.7"/>
<circle cx="44.94" cy="247.78" r="1.7"/>
<circle cx="40.2" cy="264.05" r="1.7"/>
<circle cx="35.68" cy="264.56" r="1.7"/>
<circle cx="32.98" cy="266.02" r="1.7"/>
<circle cx="36.4" cy="257.5" r="1.7"/>
<circle cx="54.09" cy="268.23" r="1.7"/>
<circle cx="36.74" cy="262.24" r="1.7"/>
<circle cx="37.17" cy="259.62" r="1.7"/>
<circle cx="36.88" cy="259.54" r="1.7"/>
<circle cx="30.89" cy="265.69" r="1.7"/>
<circle cx="32.8" cy="268.21" r="1.7"/>
<circle cx="29.69" cy="252.02" r="1.7"/>
<circle cx="32.99" cy="260.58" r="1.7"/>
<circle cx="31.26" cy="267.95" r="1.7"/>
<circle cx="39.26" cy="266.94" r="1.7"/>
<circle cx="39.77" cy="266.93" r="1.7"/>
<circle cx="30.67" cy="248.85" r="1.7"/>
<circle cx="43.44" cy="265.71" r="1.7"/>
<circle cx="41.59" cy="260.27" r="1.7"/>
<circle cx="30.56" cy="264.47" r="1.7"/>
<circle cx="30.71" cy="253.25" r="1.7"/>
<circle cx="68.02" cy="263.8" r="1.7"/>
<circle cx="41.93" cy="264.28" r="1.7"/>
<circle cx="57.57" cy="256.25" r="1.7"/>
<circle cx="49.34" cy="252.13" r="1.7"/>
<circle cx="42.99" cy="266.43" r="1.7"/>
<circle cx="33.5" cy="263.63" r="1.7"/>
<circle cx="37.55" cy="266.21" r="1.7"/>
<circle cx="50.08" cy="241.71" r="1.7"/>
<circle cx="32.04" cy="266.21" r="1.7"/>
<circle cx="49.57" cy="267.62" r="1.7"/>
<circle cx="39.37" cy="265" r="1.7"/>
<circle cx="54.9" cy="259.61" r="1.7"/>
<circle cx="45.87" cy="266.04" r="1.7"/>
<circle cx="63.74" cy="261.98" r="1.7"/>
<circle cx="48.11" cy="266.47" r="1.7"/>
<circle cx="33.9" cy="264.66" r="1.7"/>
<circle cx="33.93" cy="247.76" r="1.7"/>
<circle cx="49.11" cy="257.51" r="1.7"/>
<circle cx="43.09" cy="262.84" r="1.7"/>
<circle cx="48.11" cy="255.22" r="1.7"/>
<circle cx="34.33" cy="259.49" r="1.7"/>
<circle cx="61.51" cy="268.43" r="1.7"/>
<circle cx="47.2" cy="267.09" r="1.7"/>
<circle cx="55.86" cy="267.47" r="1.7"/>
<circle cx="42.84" cy="267.57" r="1.7"/>
<circle cx="36.93" cy="265.77" r="1.7"/>
<circle cx="64.5" cy="250.71" r="1.7"/>
<circle cx="51.7" cy="265.51" r="1.7"/>
<circle cx="44.27" cy="268.47" r="1.7"/>
<circle cx="40.43" cy="264.88" r="1.7"/>
<circle cx="35.92" cy="251.69" r="1.7"/>
<circle cx="47.92" cy="257.03" r="1.7"/>
<circle cx="33.25" cy="255.51" r="1.7"/>
<circle cx="43.6" cy="256.14" r="1.7"/>
<circle cx="46.12" cy="258.42" r="1.7"/>
<circle cx="32.96" cy="258.84" r="1.7"/>
<circle cx="32.42" cy="255.52" r="1.7"/>
<circle cx="40.11" cy="248.68" r="1.7"/>
<circle cx="42.1" cy="259.41" r="1.7"/>
<circle cx="49.97" cy="267.72" r="1.7"/>
<circle cx="30.23" cy="255.76" r="1.7"/>
<circle cx="38.97" cy="257.24" r="1.7"/>
<circle cx="33.79" cy="260.96" r="1.7"/>
<circle cx="45.94" cy="257.51" r="1.7"/>
<circle cx="36.51" cy="261.51" r="1.7"/>
<circle cx="47.63" cy="254.11" r="1.7"/>
<circle cx="46.31" cy="246.9" r="1.7"/>
<circle cx="48.46" cy="265.72" r="1.7"/>
<circle cx="39.06" cy="267.56" r="1.7"/>
<circle cx="49.37" cy="251.31" r="1.7"/>
<circle cx="54.3" cy="266.63" r="1.7"/>
<circle cx="34.35" cy="254.93" r="1.7"/>
<circle cx="42.83" cy="255.4" r="1.7"/>
<circle cx="50.6" cy="262.36" r="1.7"/>
<circle cx="49.53" cy="262.8" r="1.7"/>
<circle cx="32.92" cy="256.5" r="1.7"/>
<circle cx="30.02" cy="266.51" r="1.7"/>
<circle cx="38.82" cy="260.73" r="1.7"/>
<circle cx="36.1" cy="263.64" r="1.7"/>
<circle cx="38.41" cy="257.41" r="1.7"/>
<circle cx="47.26" cy="265.99" r="1.7"/>
<circle cx="30.12" cy="265.68" r="1.7"/>
<circle cx="38.92" cy="262.95" r="1.7"/>
<circle cx="33.8" cy="263.41" r="1.7"/>
<circle cx="47.27" cy="266.38" r="1.7"/>
<circle cx="45.85" cy="260.48" r="1.7"/>
<circle cx="39.54" cy="265.12" r="1.7"/>
<circle cx="29.79" cy="268.32" r="1.7"/>
<circle cx="40.32" cy="264.64" r="1.7"/>
<circle cx="36.18" cy="266.24" r="1.7"/>
<circle cx="37.1" cy="261.3" r="1.7"/>
<circle cx="51.43" cy="265.86" r="1.7"/>
<circle cx="46.41" cy="262.49" r="1.7"/>
<circle cx="40.87" cy="258.97" r="1.7"/>
<circle cx="58.69" cy="264.42" r="1.7"/>
<circle cx="55.65" cy="260.89" r="1.7"/>
<circle cx="39.21" cy="262.11" r="1.7"/>
<circle cx="43.21" cy="259.55" r="1.7"/>
<circle cx="67.37" cy="260.13" r="1.7"/>
<circle cx="51.4" cy="266.16" r="1.7"/>
<circle cx="49.98" cy="253.96" r="1.7"/>
<circle cx="37.17" cy="268.48" r="1.7"/>
<circle cx="50.14" cy="263.76" r="1.7"/>
<circle cx="44.01" cy="259.2" r="1.7"/>
<circle cx="41.7" cy="263.27" r="1.7"/>
<circle cx="40.03" cy="265.96" r="1.7"/>
<circle cx="40.68" cy="246.4" r="1.7"/>
<circle cx="59.86" cy="253.59" r="1.7"/>
<circle cx="48.29" cy="262.57" r="1.7"/>
<circle cx="32.16" cy="244.52" r="1.7"/>
<circle cx="46.36" cy="268.29" r="1.7"/>
<circle cx="49.28" cy="246.19" r="1.7"/>
<circle cx="42.81" cy="268.14" r="1.7"/>
<circle cx="37.61" cy="267.87" r="1.7"/>
<circle cx="42.17" cy="262.1" r="1.7"/>
<circle cx="36.99" cy="254.15" r="1.7"/>
<circle cx="30.55" cy="267.27" r="1.7"/>
<circle cx="42.2" cy="267.11" r="1.7"/>
<circle cx="55.7" cy="262.61" r="1.7"/>
<circle cx="29.85" cy="261.76" r="1.7"/>
<circle cx="42.99" cy="268" r="1.7"/>
<circle cx="43.84" cy="262.42" r="1.7"/>
<circle cx="43.05" cy="259.33" r="1.7"/>
<circle cx="30.59" cy="264.22" r="1.7"/>
<circle cx="35.67" cy="258.49" r="1.7"/>
<circle cx="36.42" cy="262.36" r="1.7"/>
<circle cx="47.38" cy="266.72" r="1.7"/>
<circle cx="46.79" cy="257.69" r="1.7"/>
<circle cx="33.08" cy="267.24" r="1.7"/>
<circle cx="30.78" cy="259.09" r="1.7"/>
<circle cx="45.07" cy="261.56" r="1.7"/>
<circle cx="57.77" cy="267.15" r="1.7"/>
<circle cx="48.68" cy="263.6" r="1.7"/>
<circle cx="35.35" cy="256.84" r="1.7"/>
<circle cx="65.35" cy="266.36" r="1.7"/>
<circle cx="41.65" cy="262.89" r="1.7"/>
<circle cx="35.81" cy="263.97" r="1.7"/>
<circle cx="38.22" cy="253.11" r="1.7"/>
<circle cx="57.97" cy="261.95" r="1.7"/>
<circle cx="35.28" cy="259.95" r="1.7"/>
<circle cx="35.8" cy="254.02" r="1.7"/>
<circle cx="37.04" cy="265.98" r="1.7"/>
<circle cx="49.9" cy="267.04" r="1.7"/>
<circle cx="44.06" cy="268.39" r="1.7"/>
<circle cx="41.76" cy="259.19" r="1.7"/>
<circle cx="31.65" cy="265.53" r="1.7"/>
<circle cx="33.12" cy="252.83" r="1.7"/>
<circle cx="35.6" cy="256.33" r="1.7"/>
<circle cx="55.34" cy="266.31" r="1.7"/>
<circle cx="30.87" cy="265.92" r="1.7"/>
<circle cx="35.63" cy="263.47" r="1.7"/>
<circle cx="54.05" cy="251.81" r="1.7"/>
<circle cx="31.37" cy="264.04" r="1.7"/>
<circle cx="39.02" cy="250.09" r="1.7"/>
<circle cx="42.63" cy="259.03" r="1.7"/>
<circle cx="37.67" cy="265.89" r="1.7"/>
<circle cx="32.83" cy="266.73" r="1.7"/>
<circle cx="41.81" cy="263.26" r="1.7"/>
<circle cx="34.4" cy="267.22" r="1.7"/>
<circle cx="53.45" cy="262.1" r="1.7"/>
<circle cx="35.69" cy="265.33" r="1.7"/>
<circle cx="42.32" cy="265.41" r="1.7"/>
<circle cx="44.74" cy="262.67" r="1.7"/>
<circle cx="44.07" cy="265.39" r="1.7"/>
<circle cx="53.22" cy="263.97" r="1.7"/>
<circle cx="42.84" cy="258.7" r="1.7"/>
<circle cx="65.45" cy="267.81" r="1.7"/>
<circle cx="50.89" cy="264.48" r="1.7"/>
<circle cx="31.03" cy="257.73" r="1.7"/>
<circle cx="30.02" cy="254.28" r="1.7"/>
<circle cx="38.08" cy="268.01" r="1.7"/>
<circle cx="30.85" cy="260.32" r="1.7"/>
<circle cx="30.16" cy="263.15" r="1.7"/>
<circle cx="34.79" cy="256.38" r="1.7"/>
<circle cx="50.33" cy="262.03" r="1.7"/>
<circle cx="36.45" cy="266.11" r="1.7"/>
<circle cx="39.4" cy="264.99" r="1.7"/>
<circle cx="42.79" cy="261.68" r="1.7"/>
<circle cx="42.36" cy="254.86" r="1.7"/>
<circle cx="55.31" cy="265.98" r="1.7"/>
<circle cx="38.19" cy="266.89" r="1.7"/>
<circle cx="53.08" cy="264.67" r="1.7"/>
<circle cx="30.68" cy="264.32" r="1.7"/>
<circle cx="53.3" cy="266.34" r="1.7"/>
<circle cx="33.18" cy="264.27" r="1.7"/>
<circle cx="40.21" cy="262.86" r="1.7"/>
<circle cx="30.69" cy="260.85" r="1.7"/>
<circle cx="40.82" cy="263.32" r="1.7"/>
<circle cx="36.02" cy="265.46" r="1.7"/>
<circle cx="40.91" cy="257.73" r="1.7"/>
<circle cx="35.2" cy="259.93" r="1.7"/>
<circle cx="41.15" cy="260.22" r="1.7"/>
<circle cx="47.26" cy="262.38" r="1.7"/>
<circle cx="30.32" cy="259.95" r="1.7"/>
<circle cx="32.81" cy="267.23" r="1.7"/>
<circle cx="30.68" cy="266.19" r="1.7"/>
<circle cx="43.78" cy="262.23" r="1.7"/>
<circle cx="30.24" cy="268.25" r="1.7"/>
<circle cx="46.92" cy="260.92" r="1.7"/>
<circle cx="45.91" cy="264.36" r="1.7"/>
<circle cx="37.03" cy="265.6" r="1.7"/>
<circle cx="37.93" cy="261.54" r="1.7"/>
<circle cx="54.85" cy="256.92" r="1.7"/>
<circle cx="36.58" cy="263.16" r="1.7"/>
<circle cx="30.98" cy="263.51" r="1.7"/>
<circle cx="32.08" cy="262.42" r="1.7"/>
<circle cx="33.48" cy="268.25" r="1.7"/>
<circle cx="43.36" cy="264.76" r="1.7"/>
<circle cx="52.54" cy="263.55" r="1.7"/>
<circle cx="37.87" cy="259.94" r="1.7"/>
<circle cx="37.07" cy="267.06" r="1.7"/>
<circle cx="35.99" cy="262.33" r="1.7"/>
<circle cx="41.47" cy="256.23" r="1.7"/>
<circle cx="35.02" cy="263.61" r="1.7"/>
<circle cx="41.08" cy="267.54" r="1.7"/>
<circle cx="44" cy="264.42" r="1.7"/>
<circle cx="44.76" cy="267.16" r="1.7"/>
<circle cx="36.31" cy="259.62" r="1.7"/>
<circle cx="34.83" cy="254.94" r="1.7"/>
<circle cx="31.27" cy="263.51" r="1.7"/>
<circle cx="30.76" cy="255.77" r="1.7"/>
<circle cx="51.39" cy="264.01" r="1.7"/>
<circle cx="69.95" cy="258.69" r="1.7"/>
<circle cx="35.13" cy="268.38" r="1.7"/>
<circle cx="32.39" cy="259.88" r="1.7"/>
<circle cx="49.25" cy="265.5" r="1.7"/>
<circle cx="49.18" cy="267.83" r="1.7"/>
<circle cx="33.6" cy="265.44" r="1.7"/>
<circle cx="61.08" cy="260.6" r="1.7"/>
<circle cx="67.83" cy="267.39" r="1.7"/>
<circle cx="40.91" cy="266.39" r="1.7"/>
<circle cx="45.05" cy="265.82" r="1.7"/>
<circle cx="41.06" cy="266.08" r="1.7"/>
<circle cx="41.06" cy="264.49" r="1.7"/>
<circle cx="33.62" cy="267.75" r="1.7"/>
<circle cx="39.49" cy="267.55" r="1.7"/>
<circle cx="45.99" cy="268.03" r="1.7"/>
<circle cx="36.08" cy="267.8" r="1.7"/>
<circle cx="32.38" cy="264.74" r="1.7"/>
<circle cx="65.16" cy="263.49" r="1.7"/>
<circle cx="55.77" cy="258.76" r="1.7"/>
<circle cx="29.98" cy="266.94" r="1.7"/>
<circle cx="47.73" cy="266.07" r="1.7"/>
<circle cx="43.73" cy="264.9" r="1.7"/>
<circle cx="48.02" cy="258.79" r="1.7"/>
<circle cx="41.36" cy="264.7" r="1.7"/>
<circle cx="58.56" cy="263.47" r="1.7"/>
<circle cx="30.63" cy="264.32" r="1.7"/>
<circle cx="31.97" cy="265.12" r="1.7"/>
<circle cx="33.58" cy="252.86" r="1.7"/>
<circle cx="32.64" cy="264.35" r="1.7"/>
<circle cx="40.04" cy="265.35" r="1.7"/>
<circle cx="44.34" cy="263.94" r="1.7"/>
<circle cx="40.24" cy="265.52" r="1.7"/>
<circle cx="53" cy="263.51" r="1.7"/>
<circle cx="39.8" cy="266.81" r="1.7"/>
<circle cx="32.88" cy="260.45" r="1.7"/>
<circle cx="43.31" cy="263.33" r="1.7"/>
<circle cx="40.06" cy="255.37" r="1.7"/>
<circle cx="62.19" cy="262.23" r="1.7"/>
<circle cx="45.06" cy="256.62" r="1.7"/>
<circle cx="45.17" cy="264.33" r="1.7"/>
<circle cx="39.1" cy="257.12" r="1.7"/>
<circle cx="54.81" cy="264.64" r="1.7"/>
<circle cx="33.23" cy="262.08" r="1.7"/>
<circle cx="35.45" cy="260.75" r="1.7"/>
<circle cx="33.46" cy="266.2" r="1.7"/>
<circle cx="35.54" cy="262.67" r="1.7"/>
<circle cx="35.36" cy="262.25" r="1.7"/>
<circle cx="55.08" cy="262.86" r="1.7"/>
<circle cx="32.94" cy="267.79" r="1.7"/>
<circle cx="37.56" cy="267.09" r="1.7"/>
<circle cx="49.66" cy="255.27" r="1.7"/>
<circle cx="50.82" cy="264.82" r="1.7"/>
<circle cx="31.37" cy="259.53" r="1.7"/>
<circle cx="38.87" cy="262.68" r="1.7"/>
<circle cx="51.06" cy="267.62" r="1.7"/>
<circle cx="41.63" cy="256.32" r="1.7"/>
<circle cx="46.03" cy="262.59" r="1.7"/>
<circle cx="41.6" cy="256.69" r="1.7"/>
<circle cx="66" cy="261.82" r="1.7"/>
<circle cx="31.59" cy="264.39" r="1.7"/>
<circle cx="44.26" cy="251.21" r="1.7"/>
<circle cx="46.35" cy="266.29" r="1.7"/>
<circle cx="55.55" cy="263.25" r="1.7"/>
<circle cx="48.01" cy="264.4" r="1.7"/>
<circle cx="51.07" cy="266.32" r="1.7"/>
<circle cx="53.35" cy="259.01" r="1.7"/>
<circle cx="34.02" cy="267.14" r="1.7"/>
<circle cx="33.52" cy="268.2" r="1.7"/>
<circle cx="46.02" cy="263.95" r="1.7"/>
<circle cx="41.42" cy="262.73" r="1.7"/>
<circle cx="32.14" cy="261.78" r="1.7"/>
<circle cx="35.7" cy="258.04" r="1.7"/>
<circle cx="46.4" cy="257.36" r="1.7"/>
<circle cx="30.11" cy="260.56" r="1.7"/>
<circle cx="29.82" cy="244.24" r="1.7"/>
<circle cx="46.52" cy="254.48" r="1.7"/>
<circle cx="41.58" cy="262.66" r="1.7"/>
<circle cx="48.66" cy="255.89" r="1.7"/>
<circle cx="33.86" cy="268.35" r="1.7"/>
<circle cx="32.94" cy="265.09" r="1.7"/>
<circle cx="36.43" cy="250.55" r="1.7"/>
<circle cx="38.51" cy="254.02" r="1.7"/>
<circle cx="40.5" cy="256.94" r="1.7"/>
<circle cx="44.31" cy="259.46" r="1.7"/>
<circle cx="34.28" cy="260.62" r="1.7"/>
<circle cx="48.98" cy="267.85" r="1.7"/>
<circle cx="38.3" cy="265.67" r="1.7"/>
<circle cx="40.33" cy="263.71" r="1.7"/>
<circle cx="43.34" cy="267.25" r="1.7"/>
<circle cx="43.18" cy="261.98" r="1.7"/>
<circle cx="34.1" cy="260.25" r="1.7"/>
<circle cx="59.4" cy="266.77" r="1.7"/>
<circle cx="51.77" cy="262.46" r="1.7"/>
<circle cx="39.12" cy="259.22" r="1.7"/>
<circle cx="34.01" cy="260.77" r="1.7"/>
<circle cx="49.97" cy="261.36" r="1.7"/>
<circle cx="42.64" cy="267.53" r="1.7"/>
<circle cx="35.52" cy="266.79" r="1.7"/>
<circle cx="42.7" cy="259.65" r="1.7"/>
<circle cx="30.87" cy="255.01" r="1.7"/>
<circle cx="42.54" cy="250.1" r="1.7"/>
<circle cx="33.32" cy="255.12" r="1.7"/>
<circle cx="54.08" cy="262.25" r="1.7"/>
<circle cx="49.21" cy="249.75" r="1.7"/>
<circle cx="49.36" cy="260.66" r="1.7"/>
<circle cx="43.51" cy="256.61" r="1.7"/>
<circle cx="37.94" cy="264.75" r="1.7"/>
<circle cx="64.16" cy="266.6" r="1.7"/>
<circle cx="32.36" cy="245.41" r="1.7"/>
<circle cx="45.14" cy="266.17" r="1.7"/>
<circle cx="45.68" cy="268.34" r="1.7"/>
<circle cx="39.76" cy="257.32" r="1.7"/>
<circle cx="58.49" cy="257.44" r="1.7"/>
<circle cx="41.61" cy="262.98" r="1.7"/>
<circle cx="48.8" cy="260.26" r="1.7"/>
<circle cx="53.95" cy="264.04" r="1.7"/>
<circle cx="53.46" cy="255.82" r="1.7"/>
<circle cx="32.57" cy="261.41" r="1.7"/>
<circle cx="31.84" cy="256.66" r="1.7"/>
<circle cx="37.26" cy="265.39" r="1.7"/>
<circle cx="48.17" cy="257.71" r="1.7"/>
<circle cx="30.24" cy="265.47" r="1.7"/>
<circle cx="57.7" cy="262.03" r="1.7"/>
<circle cx="48.51" cy="258.98" r="1.7"/>
<circle cx="44.32" cy="264.02" r="1.7"/>
<circle cx="64.43" cy="265.17" r="1.7"/>
<circle cx="33.62" cy="261.94" r="1.7"/>
<circle cx="63.17" cy="254.82" r="1.7"/>
<circle cx="30.87" cy="266.54" r="1.7"/>
<circle cx="45.13" cy="261.21" r="1.7"/>
<circle cx="37.66" cy="265.21" r="1.7"/>
<circle cx="37.41" cy="257.83" r="1.7"/>
<circle cx="44.58" cy="258.11" r="1.7"/>
<circle cx="30.07" cy="265.49" r="1.7"/>
<circle cx="60.4" cy="266.95" r="1.7"/>
<circle cx="43.2" cy="266.51" r="1.7"/>
<circle cx="43.28" cy="258.57" r="1.7"/>
<circle cx="39.94" cy="265.76" r="1.7"/>
<circle cx="39.66" cy="253.04" r="1.7"/>
<circle cx="36.81" cy="267.93" r="1.7"/>
<circle cx="32.64" cy="263.83" r="1.7"/>
<circle cx="37.19" cy="265.8" r="1.7"/>
<circle cx="35.09" cy="265.83" r="1.7"/>
<circle cx="30.66" cy="254.58" r="1.7"/>
<circle cx="41.34" cy="254.42" r="1.7"/>
<circle cx="37.89" cy="249.64" r="1.7"/>
<circle cx="51.53" cy="265.3" r="1.7"/>
<circle cx="36.81" cy="267.63" r="1.7"/>
<circle cx="34.1" cy="266.62" r="1.7"/>
<circle cx="33.61" cy="260.54" r="1.7"/>
<circle cx="53.35" cy="265.19" r="1.7"/>
<circle cx="30.16" cy="264.93" r="1.7"/>
<circle cx="44.68" cy="266.27" r="1.7"/>
<circle cx="45.72" cy="260.75" r="1.7"/>
<circle cx="46.91" cy="259.31" r="1.7"/>
<circle cx="71.52" cy="267.88" r="1.7"/>
<circle cx="35.3" cy="267.38" r="1.7"/>
<circle cx="30.92" cy="254.88" r="1.7"/>
<circle cx="31.64" cy="264.42" r="1.7"/>
<circle cx="44.57" cy="267.45" r="1.7"/>
<circle cx="32.24" cy="249.45" r="1.7"/>
<circle cx="39.37" cy="263.73" r="1.7"/>
<circle cx="54.75" cy="268.4" r="1.7"/>
<circle cx="34.53" cy="257.66" r="1.7"/>
<circle cx="33.55" cy="261.08" r="1.7"/>
<circle cx="40.81" cy="260.07" r="1.7"/>
<circle cx="45.66" cy="265.72" r="1.7"/>
<circle cx="31.16" cy="255.89" r="1.7"/>
<circle cx="41.03" cy="265.48" r="1.7"/>
<circle cx="44.75" cy="262.98" r="1.7"/>
<circle cx="49.77" cy="267.47" r="1.7"/>
<circle cx="58.3" cy="255.46" r="1.7"/>
<circle cx="42.25" cy="264.13" r="1.7"/>
<circle cx="29.92" cy="267.7" r="1.7"/>
<circle cx="30.86" cy="260.46" r="1.7"/>
<circle cx="41.75" cy="267.83" r="1.7"/>
<circle cx="44.93" cy="266.32" r="1.7"/>
<circle cx="34.71" cy="268.2" r="1.7"/>
<circle cx="38.04" cy="245.85" r="1.7"/>
<circle cx="46.72" cy="265.1" r="1.7"/>
<circle cx="40.76" cy="264.97" r="1.7"/>
<circle cx="53.4" cy="264.85" r="1.7"/>
<circle cx="34.73" cy="268.36" r="1.7"/>
<circle cx="51.64" cy="259.25" r="1.7"/>
<circle cx="49.57" cy="263.93" r="1.7"/>
<circle cx="48.68" cy="261.43" r="1.7"/>
<circle cx="32.23" cy="266.76" r="1.7"/>
<circle cx="57.2" cy="266.32" r="1.7"/>
<circle cx="57.98" cy="259.49" r="1.7"/>
<circle cx="46.06" cy="251.64" r="1.7"/>
<circle cx="73.7" cy="246.49" r="1.7"/>
<circle cx="30.66" cy="250.51" r="1.7"/>
<circle cx="46.43" cy="256.57" r="1.7"/>
<circle cx="68.19" cy="257.77" r="1.7"/>
<circle cx="40.8" cy="268.28" r="1.7"/>
<circle cx="40.83" cy="265.28" r="1.7"/>
<circle cx="42.59" cy="267.18" r="1.7"/>
<circle cx="33.53" cy="264.71" r="1.7"/>
<circle cx="38.16" cy="260.25" r="1.7"/>
<circle cx="43.73" cy="264.75" r="1.7"/>
<circle cx="56.7" cy="257.83" r="1.7"/>
<circle cx="30.35" cy="266.94" r="1.7"/>
<circle cx="49.1" cy="249.35" r="1.7"/>
<circle cx="36.55" cy="265.81" r="1.7"/>
<circle cx="32.42" cy="249.38" r="1.7"/>
<circle cx="33.13" cy="267.68" r="1.7"/>
<circle cx="36.24" cy="260.21" r="1.7"/>
<circle cx="32.19" cy="254.29" r="1.7"/>
<circle cx="49.16" cy="257.94" r="1.7"/>
<circle cx="40.8" cy="260.08" r="1.7"/>
<circle cx="54.61" cy="266.42" r="1.7"/>
<circle cx="36.04" cy="266.28" r="1.7"/>
<circle cx="39.2" cy="262.01" r="1.7"/>
<circle cx="42.04" cy="261.35" r="1.7"/>
<circle cx="66.59" cy="257.61" r="1.7"/>
<circle cx="30.52" cy="257.45" r="1.7"/>
<circle cx="31" cy="257.82" r="1.7"/>
<circle cx="30.33" cy="263.96" r="1.7"/>
<circle cx="54.88" cy="266.92" r="1.7"/>
<circle cx="57.55" cy="267.75" r="1.7"/>
<circle cx="46.33" cy="263.57" r="1.7"/>
<circle cx="51.76" cy="258.81" r="1.7"/>
<circle cx="47.52" cy="265.03" r="1.7"/>
<circle cx="45.09" cy="266.49" r="1.7"/>
<circle cx="31.24" cy="267.04" r="1.7"/>
<circle cx="34.62" cy="259.58" r="1.7"/>
<circle cx="50.38" cy="252.45" r="1.7"/>
<circle cx="43.2" cy="260.87" r="1.7"/>
<circle cx="38.19" cy="248.95" r="1.7"/>
<circle cx="75.87" cy="260.6" r="1.7"/>
<circle cx="32.48" cy="263.62" r="1.7"/>
<circle cx="35.31" cy="267.08" r="1.7"/>
<circle cx="54.8" cy="264.09" r="1.7"/>
<circle cx="45.38" cy="266.98" r="1.7"/>
<circle cx="41.66" cy="265.21" r="1.7"/>
<circle cx="58.67" cy="263.37" r="1.7"/>
<circle cx="39.21" cy="262.45" r="1.7"/>
<circle cx="50.56" cy="268.1" r="1.7"/>
<circle cx="34.1" cy="259.45" r="1.7"/>
<circle cx="35.87" cy="267.16" r="1.7"/>
<circle cx="34.32" cy="264.52" r="1.7"/>
<circle cx="41.91" cy="267.15" r="1.7"/>
<circle cx="33.94" cy="253.76" r="1.7"/>
<circle cx="30.01" cy="261.86" r="1.7"/>
<circle cx="40.32" cy="257.98" r="1.7"/>
<circle cx="47.04" cy="260.76" r="1.7"/>
<circle cx="30.74" cy="261.83" r="1.7"/>
<circle cx="61.86" cy="261.65" r="1.7"/>
<circle cx="33.27" cy="264.34" r="1.7"/>
<circle cx="54.9" cy="264.01" r="1.7"/>
<circle cx="31.43" cy="268.05" r="1.7"/>
<circle cx="58.87" cy="264.22" r="1.7"/>
<circle cx="62.63" cy="267.89" r="1.7"/>
<circle cx="50.58" cy="265.69" r="1.7"/>
<circle cx="48.77" cy="259.32" r="1.7"/>
<circle cx="46.64" cy="260.94" r="1.7"/>
<circle cx="36.45" cy="248.01" r="1.7"/>
<circle cx="33.89" cy="266.51" r="1.7"/>
<circle cx="32.23" cy="265.05" r="1.7"/>
<circle cx="46" cy="264.64" r="1.7"/>
<circle cx="49.93" cy="254" r="1.7"/>
<circle cx="30.44" cy="265.32" r="1.7"/>
<circle cx="49.04" cy="255.63" r="1.7"/>
<circle cx="49.36" cy="258.67" r="1.7"/>
<circle cx="30.05" cy="261.32" r="1.7"/>
<circle cx="57.05" cy="268.36" r="1.7"/>
<circle cx="64.62" cy="266.68" r="1.7"/>
<circle cx="38.65" cy="267.43" r="1.7"/>
<circle cx="32" cy="261.97" r="1.7"/>
<circle cx="39.85" cy="266.6" r="1.7"/>
<circle cx="42.36" cy="264.31" r="1.7"/>
<circle cx="44.53" cy="264.22" r="1.7"/>
<circle cx="46.54" cy="259.94" r="1.7"/>
<circle cx="33.4" cy="264.34" r="1.7"/>
<circle cx="54.37" cy="267.78" r="1.7"/>
<circle cx="49.62" cy="264.87" r="1.7"/>
<circle cx="37.15" cy="265.99" r="1.7"/>
<circle cx="31.45" cy="258.6" r="1.7"/>
<circle cx="63.75" cy="264.38" r="1.7"/>
<circle cx="52.12" cy="264.22" r="1.7"/>
<circle cx="54.54" cy="261.27" r="1.7"/>
<circle cx="36.36" cy="262.4" r="1.7"/>
<circle cx="39.24" cy="264.36" r="1.7"/>
<circle cx="50.93" cy="254.52" r="1.7"/>
<circle cx="31.43" cy="256.52" r="1.7"/>
<circle cx="55.43" cy="252" r="1.7"/>
<circle cx="50.3" cy="258.72" r="1.7"/>
<circle cx="33.27" cy="265.09" r="1.7"/>
<circle cx="50.75" cy="256.36" r="1.7"/>
<circle cx="33.88" cy="267.15" r="1.7"/>
<circle cx="45.27" cy="267.04" r="1.7"/>
<circle cx="46.61" cy="258.15" r="1.7"/>
<circle cx="30.43" cy="259.77" r="1.7"/>
<circle cx="32.84" cy="265.13" r="1.7"/>
<circle cx="53.35" cy="263.16" r="1.7"/>
<circle cx="57.43" cy="259.32" r="1.7"/>
<circle cx="42.18" cy="265.72" r="1.7"/>
<circle cx="46.07" cy="249.98" r="1.7"/>
<circle cx="38.14" cy="250.91" r="1.7"/>
<circle cx="37.02" cy="268.34" r="1.7"/>
<circle cx="39.5" cy="265.43" r="1.7"/>
<circle cx="50.25" cy="266.65" r="1.7"/>
<circle cx="31.26" cy="264.55" r="1.7"/>
<circle cx="67.51" cy="267.06" r="1.7"/>
<circle cx="46.7" cy="265.32" r="1.7"/>
<circle cx="51.81" cy="259.71" r="1.7"/>
<circle cx="44.66" cy="261.5" r="1.7"/>
<circle cx="71.36" cy="255.85" r="1.7"/>
<circle cx="46.33" cy="266.07" r="1.7"/>
<circle cx="32.2" cy="257.8" r="1.7"/>
<circle cx="46.45" cy="266.97" r="1.7"/>
<circle cx="34.31" cy="258.57" r="1.7"/>
<circle cx="43.37" cy="264.39" r="1.7"/>
<circle cx="53.9" cy="254.25" r="1.7"/>
<circle cx="43.06" cy="254.65" r="1.7"/>
<circle cx="38.18" cy="267.65" r="1.7"/>
<circle cx="66.07" cy="261.83" r="1.7"/>
<circle cx="46.72" cy="266.54" r="1.7"/>
<circle cx="48" cy="262.98" r="1.7"/>
<circle cx="42.77" cy="268.49" r="1.7"/>
<circle cx="29.76" cy="261.94" r="1.7"/>
<circle cx="56.59" cy="265.85" r="1.7"/>
<circle cx="36.29" cy="265.69" r="1.7"/>
<circle cx="36.73" cy="255.92" r="1.7"/>
<circle cx="30.31" cy="264.56" r="1.7"/>
<circle cx="38.11" cy="268.43" r="1.7"/>
<circle cx="32.83" cy="265.28" r="1.7"/>
<circle cx="50.91" cy="264.58" r="1.7"/>
<circle cx="35.44" cy="264.52" r="1.7"/>
<circle cx="31.76" cy="264.68" r="1.7"/>
<circle cx="40.28" cy="265.35" r="1.7"/>
<circle cx="32.65" cy="266.3" r="1.7"/>
<circle cx="30.84" cy="264.21" r="1.7"/>
<circle cx="30.63" cy="260.8" r="1.7"/>
<circle cx="49.02" cy="261.86" r="1.7"/>
<circle cx="62.72" cy="267.27" r="1.7"/>
<circle cx="41.03" cy="265.13" r="1.7"/>
<circle cx="46.24" cy="253.39" r="1.7"/>
<circle cx="40.84" cy="261.9" r="1.7"/>
<circle cx="68.05" cy="256.56" r="1.7"/>
<circle cx="45.94" cy="259.52" r="1.7"/>
<circle cx="30.47" cy="254.73" r="1.7"/>
<circle cx="68.8" cy="268.37" r="1.7"/>
<circle cx="41.63" cy="253.05" r="1.7"/>
<circle cx="38.4" cy="260.93" r="1.7"/>
<circle cx="42.24" cy="257.58" r="1.7"/>
<circle cx="43.6" cy="256.8" r="1.7"/>
<circle cx="55.26" cy="268.06" r="1.7"/>
<circle cx="51.4" cy="258.48" r="1.7"/>
<circle cx="39.68" cy="260.1" r="1.7"/>
<circle cx="58.43" cy="268.39" r="1.7"/>
<circle cx="33.53" cy="252.39" r="1.7"/>
<circle cx="48.94" cy="265.67" r="1.7"/>
<circle cx="37.53" cy="267.92" r="1.7"/>
<circle cx="42.39" cy="246.41" r="1.7"/>
<circle cx="36.6" cy="263.47" r="1.7"/>
<circle cx="40.7" cy="257.61" r="1.7"/>
<circle cx="47.06" cy="260.37" r="1.7"/>
<circle cx="31.03" cy="261.73" r="1.7"/>
<circle cx="53.33" cy="267.71" r="1.7"/>
<circle cx="52.99" cy="261.61" r="1.7"/>
<circle cx="46.89" cy="268.28" r="1.7"/>
<circle cx="38.62" cy="255.45" r="1.7"/>
<circle cx="44.78" cy="260.25" r="1.7"/>
<circle cx="30.15" cy="259.25" r="1.7"/>
<circle cx="31.59" cy="265.7" r="1.7"/>
<circle cx="31.38" cy="252.18" r="1.7"/>
<circle cx="32.68" cy="266.17" r="1.7"/>
<circle cx="57.26" cy="267.18" r="1.7"/>
<circle cx="43.61" cy="262.65" r="1.7"/>
<circle cx="56.79" cy="262.7" r="1.7"/>
<circle cx="49.09" cy="266.98" r="1.7"/>
<circle cx="58.28" cy="266.14" r="1.7"/>
<circle cx="31.81" cy="256.64" r="1.7"/>
<circle cx="40.85" cy="258.35" r="1.7"/>
<circle cx="36.11" cy="252.22" r="1.7"/>
<circle cx="31.77" cy="267.34" r="1.7"/>
<circle cx="66.5" cy="251.4" r="1.7"/>
<circle cx="31.13" cy="265.49" r="1.7"/>
<circle cx="33.35" cy="265.19" r="1.7"/>
<circle cx="34.15" cy="265.8" r="1.7"/>
<circle cx="30.19" cy="267.82" r="1.7"/>
<circle cx="37.52" cy="255.39" r="1.7"/>
<circle cx="36.9" cy="265.19" r="1.7"/>
<circle cx="62.74" cy="263.27" r="1.7"/>
<circle cx="33.59" cy="262.96" r="1.7"/>
<circle cx="44.06" cy="263.13" r="1.7"/>
<circle cx="32.5" cy="267.43" r="1.7"/>
<circle cx="56.36" cy="264.49" r="1.7"/>
<circle cx="40.67" cy="252.62" r="1.7"/>
<circle cx="40.73" cy="255.29" r="1.7"/>
<circle cx="54.59" cy="254.67" r="1.7"/>
<circle cx="33.86" cy="259.97" r="1.7"/>
<circle cx="42.26" cy="257.95" r="1.7"/>
<circle cx="48.59" cy="259.43" r="1.7"/>
<circle cx="39.35" cy="266.57" r="1.7"/>
<circle cx="35.15" cy="262.77" r="1.7"/>
<circle cx="41" cy="255.2" r="1.7"/>
<circle cx="36.54" cy="258.65" r="1.7"/>
<circle cx="37.74" cy="261.63" r="1.7"/>
<circle cx="47.91" cy="261.97" r="1.7"/>
<circle cx="35.26" cy="264.88" r="1.7"/>
<circle cx="29.76" cy="267.53" r="1.7"/>
<circle cx="39.59" cy="261.27" r="1.7"/>
<circle cx="30.73" cy="267.93" r="1.7"/>
<circle cx="68.71" cy="261.87" r="1.7"/>
<circle cx="36.67" cy="261.95" r="1.7"/>
<circle cx="35.28" cy="266.91" r="1.7"/>
<circle cx="30.43" cy="267.69" r="1.7"/>
<circle cx="50.16" cy="264.34" r="1.7"/>
<circle cx="30.12" cy="258.78" r="1.7"/>
<circle cx="35.23" cy="259.67" r="1.7"/>
<circle cx="48.97" cy="262.79" r="1.7"/>
<circle cx="39.11" cy="267.3" r="1.7"/>
<circle cx="45.19" cy="264.4" r="1.7"/>
<circle cx="34.55" cy="262.97" r="1.7"/>
<circle cx="37.7" cy="253.39" r="1.7"/>
<circle cx="47.74" cy="263.94" r="1.7"/>
<circle cx="33.92" cy="256.1" r="1.7"/>
<circle cx="35.38" cy="266.38" r="1.7"/>
<circle cx="31.39" cy="259.84" r="1.7"/>
<circle cx="43.25" cy="253.31" r="1.7"/>
<circle cx="31.85" cy="261.27" r="1.7"/>
<circle cx="33.01" cy="264.56" r="1.7"/>
<circle cx="36.09" cy="268.08" r="1.7"/>
<circle cx="52.53" cy="253.8" r="1.7"/>
<circle cx="32.41" cy="266.64" r="1.7"/>
<circle cx="47.78" cy="267.71" r="1.7"/>
<circle cx="38.13" cy="266.79" r="1.7"/>
<circle cx="32.47" cy="259.32" r="1.7"/>
<circle cx="51.55" cy="262.97" r="1.7"/>
<circle cx="29.85" cy="261.44" r="1.7"/>
<circle cx="41.07" cy="264.59" r="1.7"/>
<circle cx="41.72" cy="265.53" r="1.7"/>
<circle cx="41.8" cy="264.04" r="1.7"/>
<circle cx="35.95" cy="267.26" r="1.7"/>
<circle cx="35.49" cy="263.61" r="1.7"/>
<circle cx="36.91" cy="259.86" r="1.7"/>
<circle cx="56.04" cy="258.66" r="1.7"/>
<circle cx="41.12" cy="257.04" r="1.7"/>
<circle cx="61.22" cy="263.45" r="1.7"/>
<circle cx="40.37" cy="266.31" r="1.7"/>
<circle cx="32.16" cy="261.98" r="1.7"/>
<circle cx="37.8" cy="259.43" r="1.7"/>
<circle cx="40.49" cy="260.17" r="1.7"/>
<circle cx="41.41" cy="259.36" r="1.7"/>
<circle cx="52.28" cy="264.75" r="1.7"/>
<circle cx="41.89" cy="262.74" r="1.7"/>
<circle cx="37.13" cy="266.47" r="1.7"/>
<circle cx="60.7" cy="261.95" r="1.7"/>
<circle cx="34.71" cy="260.86" r="1.7"/>
<circle cx="46.83" cy="261.61" r="1.7"/>
<circle cx="37.39" cy="260.23" r="1.7"/>
<circle cx="29.78" cy="266.03" r="1.7"/>
<circle cx="50.73" cy="259.46" r="1.7"/>
<circle cx="34.4" cy="266.71" r="1.7"/>
<circle cx="49.46" cy="262.63" r="1.7"/>
<circle cx="34.48" cy="256.31" r="1.7"/>
<circle cx="30.02" cy="261.62" r="1.7"/>
<circle cx="37.67" cy="265.78" r="1.7"/>
<circle cx="53.83" cy="242.81" r="1.7"/>
<circle cx="67.53" cy="263.29" r="1.7"/>
<circle cx="49.33" cy="262.26" r="1.7"/>
<circle cx="42.64" cy="261.11" r="1.7"/>
<circle cx="37.29" cy="263.63" r="1.7"/>
<circle cx="74.2" cy="260.03" r="1.7"/>
<circle cx="38.9" cy="261.57" r="1.7"/>
<circle cx="87.72" cy="234.94" r="1.7"/>
<circle cx="39.56" cy="242.24" r="1.7"/>
<circle cx="32.19" cy="236.44" r="1.7"/>
<circle cx="57.84" cy="263.83" r="1.7"/>
<circle cx="36.05" cy="254.8" r="1.7"/>
<circle cx="33.25" cy="244.65" r="1.7"/>
<circle cx="39.96" cy="252.91" r="1.7"/>
<circle cx="35.42" cy="258.56" r="1.7"/>
<circle cx="49.02" cy="257.86" r="1.7"/>
<circle cx="41.87" cy="266.55" r="1.7"/>
<circle cx="64.68" cy="261.93" r="1.7"/>
<circle cx="51.61" cy="265.77" r="1.7"/>
<circle cx="47.34" cy="252.74" r="1.7"/>
<circle cx="43.82" cy="250.28" r="1.7"/>
<circle cx="36.89" cy="255.7" r="1.7"/>
<circle cx="37.88" cy="262.25" r="1.7"/>
<circle cx="85.72" cy="258.41" r="1.7"/>
<circle cx="30.26" cy="258.89" r="1.7"/>
<circle cx="44.79" cy="266.96" r="1.7"/>
<circle cx="30.27" cy="262.64" r="1.7"/>
<circle cx="34.48" cy="265.05" r="1.7"/>
<circle cx="32" cy="267.4" r="1.7"/>
<circle cx="33.72" cy="257.82" r="1.7"/>
<circle cx="35.2" cy="266.91" r="1.7"/>
<circle cx="30.7" cy="238.27" r="1.7"/>
<circle cx="57.25" cy="240.92" r="1.7"/>
<circle cx="81.77" cy="252.71" r="1.7"/>
<circle cx="35.41" cy="250.04" r="1.7"/>
<circle cx="33.14" cy="267.58" r="1.7"/>
<circle cx="33.3" cy="263.76" r="1.7"/>
<circle cx="55.69" cy="264.2" r="1.7"/>
<circle cx="36.84" cy="267.67" r="1.7"/>
<circle cx="68.58" cy="253.25" r="1.7"/>
<circle cx="56.57" cy="250.33" r="1.7"/>
<circle cx="79.65" cy="252.62" r="1.7"/>
<circle cx="46.96" cy="262.66" r="1.7"/>
<circle cx="36.18" cy="258.83" r="1.7"/>
<circle cx="41.99" cy="265.16" r="1.7"/>
<circle cx="31.96" cy="260.39" r="1.7"/>
<circle cx="38.82" cy="263.22" r="1.7"/>
<circle cx="94.6" cy="239.52" r="1.7"/>
<circle cx="57.59" cy="263.88" r="1.7"/>
<circle cx="47.91" cy="261.47" r="1.7"/>
<circle cx="37.21" cy="257.04" r="1.7"/>
<circle cx="50.16" cy="253.55" r="1.7"/>
<circle cx="36.56" cy="251.15" r="1.7"/>
<circle cx="32.66" cy="252.41" r="1.7"/>
<circle cx="34.67" cy="267.09" r="1.7"/>
<circle cx="29.92" cy="265.73" r="1.7"/>
<circle cx="51.94" cy="258.17" r="1.7"/>
<circle cx="47.51" cy="262.9" r="1.7"/>
<circle cx="34.1" cy="249.12" r="1.7"/>
<circle cx="82.01" cy="251.65" r="1.7"/>
<circle cx="54.61" cy="255.19" r="1.7"/>
<circle cx="56.64" cy="241.78" r="1.7"/>
<circle cx="49.87" cy="264.55" r="1.7"/>
<circle cx="53.65" cy="259.39" r="1.7"/>
<circle cx="42.3" cy="263.58" r="1.7"/>
<circle cx="45.64" cy="250.71" r="1.7"/>
<circle cx="38.13" cy="256.61" r="1.7"/>
<circle cx="42.67" cy="244.66" r="1.7"/>
<circle cx="36.76" cy="264.64" r="1.7"/>
<circle cx="46.32" cy="253.13" r="1.7"/>
<circle cx="37.06" cy="257.05" r="1.7"/>
<circle cx="36.09" cy="251.97" r="1.7"/>
<circle cx="50.76" cy="263.42" r="1.7"/>
<circle cx="32.28" cy="253.81" r="1.7"/>
<circle cx="33.79" cy="262.99" r="1.7"/>
<circle cx="31.54" cy="266.08" r="1.7"/>
<circle cx="43.62" cy="266.05" r="1.7"/>
<circle cx="36.54" cy="258.53" r="1.7"/>
<circle cx="32.95" cy="266.31" r="1.7"/>
<circle cx="39.9" cy="263.38" r="1.7"/>
<circle cx="38.29" cy="265.02" r="1.7"/>
<circle cx="53.93" cy="264.37" r="1.7"/>
<circle cx="34.69" cy="266.25" r="1.7"/>
<circle cx="36.14" cy="257.67" r="1.7"/>
<circle cx="35.48" cy="260.01" r="1.7"/>
<circle cx="42.87" cy="260.43" r="1.7"/>
<circle cx="52.11" cy="265.64" r="1.7"/>
<circle cx="55.77" cy="251.28" r="1.7"/>
<circle cx="59.83" cy="263.41" r="1.7"/>
<circle cx="94.25" cy="259.44" r="1.7"/>
<circle cx="43.89" cy="264.74" r="1.7"/>
<circle cx="51.81" cy="257.5" r="1.7"/>
<circle cx="38.81" cy="251.77" r="1.7"/>
<circle cx="49.17" cy="253.2" r="1.7"/>
<circle cx="83.15" cy="251.58" r="1.7"/>
<circle cx="54.82" cy="261.32" r="1.7"/>
<circle cx="34.74" cy="249.98" r="1.7"/>
<circle cx="49.05" cy="263.5" r="1.7"/>
<circle cx="58.41" cy="262.76" r="1.7"/>
<circle cx="34.63" cy="253.49" r="1.7"/>
<circle cx="55.87" cy="265.19" r="1.7"/>
<circle cx="59.36" cy="237.91" r="1.7"/>
<circle cx="41.44" cy="261.71" r="1.7"/>
<circle cx="46.63" cy="256.29" r="1.7"/>
<circle cx="55.26" cy="265.41" r="1.7"/>
<circle cx="94.24" cy="244.36" r="1.7"/>
<circle cx="51.18" cy="255.92" r="1.7"/>
<circle cx="45.39" cy="261.12" r="1.7"/>
<circle cx="32.59" cy="245.29" r="1.7"/>
<circle cx="43.13" cy="253.34" r="1.7"/>
<circle cx="95.27" cy="249.82" r="1.7"/>
<circle cx="62.98" cy="263.15" r="1.7"/>
<circle cx="40.83" cy="263.54" r="1.7"/>
<circle cx="80.04" cy="244.68" r="1.7"/>
<circle cx="37.72" cy="261.03" r="1.7"/>
<circle cx="59.77" cy="248.2" r="1.7"/>
<circle cx="50.34" cy="262.95" r="1.7"/>
<circle cx="70.87" cy="257.39" r="1.7"/>
<circle cx="43.41" cy="236.31" r="1.7"/>
<circle cx="43.41" cy="258.72" r="1.7"/>
<circle cx="30.34" cy="255.61" r="1.7"/>
<circle cx="95.69" cy="256.15" r="1.7"/>
<circle cx="30.2" cy="255.68" r="1.7"/>
<circle cx="33.68" cy="259.42" r="1.7"/>
<circle cx="36.66" cy="263.63" r="1.7"/>
<circle cx="63.95" cy="264.16" r="1.7"/>
<circle cx="46.73" cy="249.15" r="1.7"/>
<circle cx="76.32" cy="253.39" r="1.7"/>
<circle cx="35.52" cy="266.35" r="1.7"/>
<circle cx="38.68" cy="261.58" r="1.7"/>
<circle cx="32.64" cy="268.17" r="1.7"/>
<circle cx="37.13" cy="264.46" r="1.7"/>
<circle cx="38.37" cy="239.39" r="1.7"/>
<circle cx="35.26" cy="263.41" r="1.7"/>
<circle cx="42.81" cy="251.03" r="1.7"/>
<circle cx="31.89" cy="258.92" r="1.7"/>
<circle cx="32.53" cy="266.78" r="1.7"/>
<circle cx="61.2" cy="255.27" r="1.7"/>
<circle cx="59.42" cy="257.69" r="1.7"/>
<circle cx="45.53" cy="259.62" r="1.7"/>
<circle cx="89.96" cy="255.16" r="1.7"/>
<circle cx="30.23" cy="258.51" r="1.7"/>
<circle cx="29.98" cy="260.84" r="1.7"/>
<circle cx="55.43" cy="264.21" r="1.7"/>
<circle cx="30.04" cy="246.81" r="1.7"/>
<circle cx="42.3" cy="245.33" r="1.7"/>
<circle cx="32.66" cy="254.13" r="1.7"/>
<circle cx="46.06" cy="265.2" r="1.7"/>
<circle cx="40.84" cy="262.71" r="1.7"/>
<circle cx="44.55" cy="257.18" r="1.7"/>
<circle cx="90.53" cy="259.56" r="1.7"/>
<circle cx="42.68" cy="259.87" r="1.7"/>
<circle cx="35.11" cy="248.62" r="1.7"/>
<circle cx="40.7" cy="260.42" r="1.7"/>
<circle cx="49.44" cy="261.19" r="1.7"/>
<circle cx="44.68" cy="258.75" r="1.7"/>
<circle cx="44.58" cy="251.25" r="1.7"/>
<circle cx="38.77" cy="265.83" r="1.7"/>
<circle cx="31.97" cy="265.91" r="1.7"/>
<circle cx="40.08" cy="249.64" r="1.7"/>
<circle cx="37.83" cy="266.52" r="1.7"/>
<circle cx="34.82" cy="262.56" r="1.7"/>
<circle cx="34.18" cy="255.24" r="1.7"/>
<circle cx="68.98" cy="260.16" r="1.7"/>
<circle cx="31.15" cy="267.84" r="1.7"/>
<circle cx="75.14" cy="255.31" r="1.7"/>
<circle cx="55.19" cy="261.31" r="1.7"/>
<circle cx="30.28" cy="246.98" r="1.7"/>
<circle cx="51.94" cy="248.32" r="1.7"/>
<circle cx="30.37" cy="248.14" r="1.7"/>
<circle cx="47.97" cy="256.48" r="1.7"/>
<circle cx="34.16" cy="267.6" r="1.7"/>
<circle cx="44.6" cy="262.71" r="1.7"/>
<circle cx="33.45" cy="244.25" r="1.7"/>
<circle cx="77.23" cy="255.32" r="1.7"/>
<circle cx="43.34" cy="265.78" r="1.7"/>
<circle cx="90.52" cy="256.28" r="1.7"/>
<circle cx="70.91" cy="239.76" r="1.7"/>
<circle cx="36.62" cy="265.1" r="1.7"/>
<circle cx="37.39" cy="247.54" r="1.7"/>
<circle cx="85.84" cy="252.6" r="1.7"/>
<circle cx="56.22" cy="257.23" r="1.7"/>
<circle cx="51.41" cy="262.05" r="1.7"/>
<circle cx="78.93" cy="262.24" r="1.7"/>
<circle cx="38.16" cy="264.59" r="1.7"/>
<circle cx="38.08" cy="263.6" r="1.7"/>
<circle cx="44.36" cy="259.55" r="1.7"/>
<circle cx="38.98" cy="266.24" r="1.7"/>
<circle cx="90.31" cy="250.34" r="1.7"/>
<circle cx="48.14" cy="266.34" r="1.7"/>
<circle cx="29.95" cy="240.77" r="1.7"/>
<circle cx="73.35" cy="257.69" r="1.7"/>
<circle cx="57.19" cy="261.35" r="1.7"/>
<circle cx="58.3" cy="255.5" r="1.7"/>
<circle cx="55.86" cy="256.96" r="1.7"/>
<circle cx="40.88" cy="264.5" r="1.7"/>
<circle cx="31.78" cy="260.38" r="1.7"/>
<circle cx="30.08" cy="240.57" r="1.7"/>
<circle cx="38.19" cy="258.96" r="1.7"/>
<circle cx="40.33" cy="263.68" r="1.7"/>
<circle cx="43.36" cy="246.7" r="1.7"/>
<circle cx="33.18" cy="247.69" r="1.7"/>
<circle cx="30.29" cy="250.19" r="1.7"/>
<circle cx="42.05" cy="264.17" r="1.7"/>
<circle cx="38.51" cy="250.88" r="1.7"/>
<circle cx="36.63" cy="262.52" r="1.7"/>
<circle cx="43.81" cy="251.67" r="1.7"/>
<circle cx="43.18" cy="261.45" r="1.7"/>
<circle cx="90.16" cy="250.34" r="1.7"/>
<circle cx="41.28" cy="260.21" r="1.7"/>
<circle cx="49.46" cy="239.96" r="1.7"/>
<circle cx="47.76" cy="262.06" r="1.7"/>
<circle cx="33.76" cy="249.86" r="1.7"/>
<circle cx="40.48" cy="266.05" r="1.7"/>
<circle cx="53.41" cy="264.1" r="1.7"/>
<circle cx="37.57" cy="267.61" r="1.7"/>
<circle cx="29.77" cy="265.72" r="1.7"/>
<circle cx="52.4" cy="258.25" r="1.7"/>
<circle cx="52.67" cy="256.29" r="1.7"/>
<circle cx="78.68" cy="261.14" r="1.7"/>
<circle cx="33.51" cy="260.1" r="1.7"/>
<circle cx="47.33" cy="260.68" r="1.7"/>
<circle cx="74.89" cy="256.34" r="1.7"/>
<circle cx="48.83" cy="264.98" r="1.7"/>
<circle cx="66.33" cy="258.58" r="1.7"/>
<circle cx="36.32" cy="253.47" r="1.7"/>
<circle cx="37.37" cy="254.56" r="1.7"/>
<circle cx="35.69" cy="251.93" r="1.7"/>
<circle cx="51.53" cy="237.5" r="1.7"/>
<circle cx="42.52" cy="251.12" r="1.7"/>
<circle cx="35.6" cy="261.28" r="1.7"/>
<circle cx="30.94" cy="256.16" r="1.7"/>
<circle cx="48.24" cy="256.69" r="1.7"/>
<circle cx="49.42" cy="245.4" r="1.7"/>
<circle cx="43.53" cy="239.15" r="1.7"/>
<circle cx="40.66" cy="256.1" r="1.7"/>
<circle cx="58.91" cy="263.54" r="1.7"/>
<circle cx="47.06" cy="245.44" r="1.7"/>
<circle cx="44.8" cy="246.31" r="1.7"/>
<circle cx="57.95" cy="250.53" r="1.7"/>
<circle cx="47.1" cy="262.1" r="1.7"/>
<circle cx="31.83" cy="255.12" r="1.7"/>
<circle cx="38.22" cy="253.49" r="1.7"/>
<circle cx="32.16" cy="260.31" r="1.7"/>
<circle cx="59.23" cy="247.45" r="1.7"/>
<circle cx="39.45" cy="253.9" r="1.7"/>
<circle cx="34.34" cy="253.2" r="1.7"/>
<circle cx="52.18" cy="263.12" r="1.7"/>
<circle cx="30.39" cy="259.51" r="1.7"/>
<circle cx="61.7" cy="236.15" r="1.7"/>
<circle cx="34.68" cy="249.86" r="1.7"/>
<circle cx="56.54" cy="251.43" r="1.7"/>
<circle cx="36.76" cy="261.57" r="1.7"/>
<circle cx="34.73" cy="252.43" r="1.7"/>
<circle cx="79.14" cy="258.76" r="1.7"/>
<circle cx="48.51" cy="249.35" r="1.7"/>
<circle cx="49.81" cy="266.46" r="1.7"/>
<circle cx="40.17" cy="265.56" r="1.7"/>
<circle cx="39.45" cy="249.57" r="1.7"/>
<circle cx="30.09" cy="263.01" r="1.7"/>
<circle cx="53.36" cy="256.31" r="1.7"/>
<circle cx="51.44" cy="244.45" r="1.7"/>
<circle cx="37.5" cy="266.35" r="1.7"/>
<circle cx="38.27" cy="267.49" r="1.7"/>
<circle cx="40.81" cy="249.42" r="1.7"/>
<circle cx="74.97" cy="249.48" r="1.7"/>
<circle cx="69.83" cy="262.11" r="1.7"/>
<circle cx="73.11" cy="256.66" r="1.7"/>
<circle cx="45.1" cy="246.71" r="1.7"/>
<circle cx="86.06" cy="254.65" r="1.7"/>
<circle cx="50.6" cy="250.9" r="1.7"/>
<circle cx="37.89" cy="262.93" r="1.7"/>
<circle cx="53.17" cy="262.24" r="1.7"/>
<circle cx="30.81" cy="264.44" r="1.7"/>
<circle cx="33.69" cy="262.64" r="1.7"/>
<circle cx="91.42" cy="242.47" r="1.7"/>
<circle cx="38.1" cy="267.45" r="1.7"/>
<circle cx="35.06" cy="244.93" r="1.7"/>
<circle cx="33.72" cy="243.11" r="1.7"/>
<circle cx="78.1" cy="250.4" r="1.7"/>
<circle cx="35.71" cy="255.8" r="1.7"/>
<circle cx="56.49" cy="252.64" r="1.7"/>
<circle cx="34.45" cy="259.03" r="1.7"/>
<circle cx="48.82" cy="251.26" r="1.7"/>
<circle cx="32.66" cy="263.88" r="1.7"/>
<circle cx="33.99" cy="265.49" r="1.7"/>
<circle cx="30.12" cy="265.77" r="1.7"/>
<circle cx="35.47" cy="263.25" r="1.7"/>
<circle cx="46.31" cy="266.65" r="1.7"/>
<circle cx="52.65" cy="259.79" r="1.7"/>
<circle cx="44.83" cy="252.63" r="1.7"/>
<circle cx="61.59" cy="250.28" r="1.7"/>
<circle cx="46.5" cy="258.99" r="1.7"/>
<circle cx="65.2" cy="260.18" r="1.7"/>
<circle cx="70.94" cy="261.1" r="1.7"/>
<circle cx="66.56" cy="239.65" r="1.7"/>
<circle cx="48.77" cy="265.33" r="1.7"/>
<circle cx="69.5" cy="261.08" r="1.7"/>
<circle cx="31.81" cy="257.23" r="1.7"/>
<circle cx="59.31" cy="262.24" r="1.7"/>
<circle cx="35.85" cy="254.86" r="1.7"/>
<circle cx="38.69" cy="255.36" r="1.7"/>
<circle cx="34.19" cy="262.82" r="1.7"/>
<circle cx="33.33" cy="261.8" r="1.7"/>
<circle cx="39.45" cy="249.31" r="1.7"/>
<circle cx="42.62" cy="263.36" r="1.7"/>
<circle cx="48.02" cy="257.97" r="1.7"/>
<circle cx="34.03" cy="265.36" r="1.7"/>
<circle cx="40.88" cy="252.65" r="1.7"/>
<circle cx="75.95" cy="247.45" r="1.7"/>
<circle cx="35.6" cy="247.11" r="1.7"/>
<circle cx="38.01" cy="259.5" r="1.7"/>
<circle cx="38.62" cy="261.16" r="1.7"/>
<circle cx="66.79" cy="246.67" r="1.7"/>
<circle cx="33.52" cy="265.38" r="1.7"/>
<circle cx="41.01" cy="262.86" r="1.7"/>
<circle cx="37.76" cy="259.85" r="1.7"/>
<circle cx="33.06" cy="261.95" r="1.7"/>
<circle cx="36.43" cy="254.7" r="1.7"/>
<circle cx="35.39" cy="264.23" r="1.7"/>
<circle cx="41.28" cy="262.76" r="1.7"/>
<circle cx="30.92" cy="259.29" r="1.7"/>
<circle cx="59.98" cy="264.21" r="1.7"/>
<circle cx="35.74" cy="250.12" r="1.7"/>
<circle cx="84.34" cy="240.56" r="1.7"/>
<circle cx="34.66" cy="255.84" r="1.7"/>
<circle cx="74.09" cy="258.32" r="1.7"/>
<circle cx="42.24" cy="258.32" r="1.7"/>
<circle cx="58.68" cy="263.28" r="1.7"/>
<circle cx="38.81" cy="253.66" r="1.7"/>
<circle cx="40.92" cy="254.91" r="1.7"/>
<circle cx="29.96" cy="266.99" r="1.7"/>
<circle cx="38.89" cy="255.27" r="1.7"/>
<circle cx="47.42" cy="253.37" r="1.7"/>
<circle cx="75.56" cy="263.54" r="1.7"/>
<circle cx="92.74" cy="255.49" r="1.7"/>
<circle cx="48.45" cy="249.82" r="1.7"/>
<circle cx="61.68" cy="251.84" r="1.7"/>
<circle cx="87.48" cy="259.37" r="1.7"/>
<circle cx="45.94" cy="258.55" r="1.7"/>
<circle cx="51.93" cy="260.38" r="1.7"/>
<circle cx="91.75" cy="245.7" r="1.7"/>
<circle cx="30.22" cy="258.69" r="1.7"/>
<circle cx="65.66" cy="260.16" r="1.7"/>
<circle cx="46.24" cy="266.61" r="1.7"/>
<circle cx="35.27" cy="262.44" r="1.7"/>
<circle cx="32.12" cy="256.02" r="1.7"/>
<circle cx="33.75" cy="252.62" r="1.7"/>
<circle cx="33.09" cy="263.54" r="1.7"/>
<circle cx="66.46" cy="260.56" r="1.7"/>
<circle cx="51.08" cy="252.59" r="1.7"/>
<circle cx="56.51" cy="252.53" r="1.7"/>
<circle cx="35.75" cy="257.57" r="1.7"/>
<circle cx="39.62" cy="262.06" r="1.7"/>
<circle cx="79.78" cy="243.93" r="1.7"/>
<circle cx="49.96" cy="258.14" r="1.7"/>
<circle cx="31.09" cy="264.48" r="1.7"/>
<circle cx="61.6" cy="250.18" r="1.7"/>
<circle cx="34.8" cy="267.94" r="1.7"/>
<circle cx="42.04" cy="255.67" r="1.7"/>
<circle cx="40.6" cy="252.88" r="1.7"/>
<circle cx="36.06" cy="260.43" r="1.7"/>
<circle cx="38.05" cy="260.61" r="1.7"/>
<circle cx="39.62" cy="267.15" r="1.7"/>
<circle cx="30.69" cy="255.09" r="1.7"/>
<circle cx="76.81" cy="243.95" r="1.7"/>
<circle cx="48.16" cy="255.23" r="1.7"/>
<circle cx="46.12" cy="256.74" r="1.7"/>
<circle cx="33.33" cy="254.59" r="1.7"/>
<circle cx="33.86" cy="264.55" r="1.7"/>
<circle cx="41.43" cy="258.53" r="1.7"/>
<circle cx="37.58" cy="253.07" r="1.7"/>
<circle cx="34.95" cy="257.63" r="1.7"/>
<circle cx="36.64" cy="256.75" r="1.7"/>
<circle cx="42.51" cy="253.27" r="1.7"/>
<circle cx="72.99" cy="254.98" r="1.7"/>
<circle cx="38.97" cy="252.69" r="1.7"/>
<circle cx="52.12" cy="262.65" r="1.7"/>
<circle cx="35.09" cy="267.41" r="1.7"/>
<circle cx="32.56" cy="241.26" r="1.7"/>
<circle cx="53" cy="265.3" r="1.7"/>
<circle cx="41.75" cy="253.47" r="1.7"/>
<circle cx="34.97" cy="254.56" r="1.7"/>
<circle cx="30.12" cy="241.67" r="1.7"/>
<circle cx="32.49" cy="267.39" r="1.7"/>
<circle cx="33.8" cy="256.62" r="1.7"/>
<circle cx="60.36" cy="257.4" r="1.7"/>
<circle cx="54.75" cy="265.08" r="1.7"/>
<circle cx="39.77" cy="251.43" r="1.7"/>
<circle cx="76.02" cy="263.71" r="1.7"/>
<circle cx="51.87" cy="257.59" r="1.7"/>
<circle cx="54.65" cy="256.56" r="1.7"/>
<circle cx="32.74" cy="237.1" r="1.7"/>
<circle cx="82.66" cy="244.11" r="1.7"/>
<circle cx="51.12" cy="249.32" r="1.7"/>
<circle cx="60.93" cy="258.22" r="1.7"/>
<circle cx="55.36" cy="250.3" r="1.7"/>
<circle cx="83.41" cy="257" r="1.7"/>
<circle cx="43.65" cy="261.15" r="1.7"/>
<circle cx="92.43" cy="259.33" r="1.7"/>
<circle cx="54.94" cy="259.81" r="1.7"/>
<circle cx="31.61" cy="265.61" r="1.7"/>
<circle cx="53.14" cy="254.22" r="1.7"/>
<circle cx="34.79" cy="262.18" r="1.7"/>
<circle cx="59.18" cy="261.82" r="1.7"/>
<circle cx="40.95" cy="248.57" r="1.7"/>
<circle cx="43.3" cy="256.57" r="1.7"/>
<circle cx="37.48" cy="259.57" r="1.7"/>
<circle cx="42.43" cy="246.4" r="1.7"/>
<circle cx="32.31" cy="263.18" r="1.7"/>
<circle cx="52.33" cy="261.61" r="1.7"/>
<circle cx="74.89" cy="254.13" r="1.7"/>
<circle cx="87.78" cy="247.72" r="1.7"/>
<circle cx="39.24" cy="260.37" r="1.7"/>
<circle cx="42.33" cy="244.71" r="1.7"/>
<circle cx="49.97" cy="259.42" r="1.7"/>
<circle cx="74.77" cy="263.9" r="1.7"/>
<circle cx="39.61" cy="246.23" r="1.7"/>
<circle cx="33.48" cy="262.97" r="1.7"/>
<circle cx="34.6" cy="253.21" r="1.7"/>
<circle cx="75.75" cy="246.16" r="1.7"/>
<circle cx="37.51" cy="266.76" r="1.7"/>
<circle cx="45.58" cy="257.56" r="1.7"/>
<circle cx="45.14" cy="264.15" r="1.7"/>
<circle cx="99.44" cy="258.61" r="1.7"/>
<circle cx="53.16" cy="257.33" r="1.7"/>
<circle cx="49.12" cy="254.51" r="1.7"/>
<circle cx="39.08" cy="254.5" r="1.7"/>
<circle cx="60.82" cy="248.51" r="1.7"/>
<circle cx="36.61" cy="253.4" r="1.7"/>
<circle cx="33.21" cy="265.17" r="1.7"/>
<circle cx="72.42" cy="258.87" r="1.7"/>
<circle cx="40.46" cy="265.89" r="1.7"/>
<circle cx="68.82" cy="240.07" r="1.7"/>
<circle cx="35.11" cy="263.16" r="1.7"/>
<circle cx="32.24" cy="255.08" r="1.7"/>
<circle cx="34.21" cy="263.22" r="1.7"/>
<circle cx="32.54" cy="264.57" r="1.7"/>
<circle cx="47.42" cy="231.96" r="1.7"/>
<circle cx="77.51" cy="214.91" r="1.7"/>
<circle cx="35.57" cy="220.11" r="1.7"/>
<circle cx="37.37" cy="217.27" r="1.7"/>
<circle cx="40.06" cy="221.87" r="1.7"/>
<circle cx="56.43" cy="221.59" r="1.7"/>
<circle cx="37.48" cy="235.8" r="1.7"/>
<circle cx="38.27" cy="214.98" r="1.7"/>
<circle cx="30.03" cy="232.44" r="1.7"/>
<circle cx="36.53" cy="228.36" r="1.7"/>
<circle cx="69.22" cy="235.28" r="1.7"/>
<circle cx="31.45" cy="239.26" r="1.7"/>
<circle cx="37.4" cy="220.97" r="1.7"/>
<circle cx="41.07" cy="223.05" r="1.7"/>
<circle cx="43.34" cy="230.42" r="1.7"/>
<circle cx="39.52" cy="238.66" r="1.7"/>
<circle cx="55.05" cy="237.2" r="1.7"/>
<circle cx="33.73" cy="219.51" r="1.7"/>
<circle cx="43.13" cy="220.4" r="1.7"/>
<circle cx="56.49" cy="235.96" r="1.7"/>
<circle cx="64.68" cy="207.96" r="1.7"/>
</g>
<line x1="25.9" y1="268.5" x2="29.2" y2="268.5" stroke="#141414" stroke-width="0.9"/>
<text x="23" y="270.61" font-size="6.2" text-anchor="end" fill="#1c1c1c" textLength="3" lengthAdjust="spacingAndGlyphs" stroke="#1c1c1c" stroke-width="0.1" transform="rotate(.03 23 270.61)">1</text>
<line x1="25.9" y1="248.65" x2="29.2" y2="248.65" stroke="#141414" stroke-width="0.9"/>
<text x="23" y="250.76" font-size="6.2" text-anchor="end" fill="#1c1c1c" textLength="3" lengthAdjust="spacingAndGlyphs" stroke="#1c1c1c" stroke-width="0.1" transform="rotate(.03 23 250.76)">2</text>
<line x1="25.9" y1="228.8" x2="29.2" y2="228.8" stroke="#141414" stroke-width="0.9"/>
<text x="23" y="230.91" font-size="6.2" text-anchor="end" fill="#1c1c1c" textLength="3" lengthAdjust="spacingAndGlyphs" stroke="#1c1c1c" stroke-width="0.1" transform="rotate(.03 23 230.91)">3</text>
<line x1="25.9" y1="208.95" x2="29.2" y2="208.95" stroke="#141414" stroke-width="0.9"/>
<text x="23" y="211.06" font-size="6.2" text-anchor="end" fill="#1c1c1c" textLength="3" lengthAdjust="spacingAndGlyphs" stroke="#1c1c1c" stroke-width="0.1" transform="rotate(.03 23 211.06)">4</text>
<line x1="25.9" y1="189.1" x2="29.2" y2="189.1" stroke="#141414" stroke-width="0.9"/>
<text x="23" y="191.21" font-size="6.2" text-anchor="end" fill="#1c1c1c" textLength="3" lengthAdjust="spacingAndGlyphs" stroke="#1c1c1c" stroke-width="0.1" transform="rotate(.03 23 191.21)">5</text>
<line x1="25.9" y1="169.25" x2="29.2" y2="169.25" stroke="#141414" stroke-width="0.9"/>
<text x="23" y="171.36" font-size="6.2" text-anchor="end" fill="#1c1c1c" textLength="3" lengthAdjust="spacingAndGlyphs" stroke="#1c1c1c" stroke-width="0.1" transform="rotate(.03 23 171.36)">6</text>
<text x="41.5" y="279.61" font-size="6.2" text-anchor="middle" fill="#1c1c1c" textLength="3" lengthAdjust="spacingAndGlyphs" stroke="#1c1c1c" stroke-width="0.1" transform="rotate(.03 41.5 279.61)">2</text>
<text x="65.9" y="279.61" font-size="6.2" text-anchor="middle" fill="#1c1c1c" textLength="3" lengthAdjust="spacingAndGlyphs" stroke="#1c1c1c" stroke-width="0.1" transform="rotate(.03 65.9 279.61)">4</text>
<text x="90.3" y="279.61" font-size="6.2" text-anchor="middle" fill="#1c1c1c" textLength="3" lengthAdjust="spacingAndGlyphs" stroke="#1c1c1c" stroke-width="0.1" transform="rotate(.03 90.3 279.61)">6</text>
<text x="114.7" y="279.61" font-size="6.2" text-anchor="middle" fill="#1c1c1c" textLength="3" lengthAdjust="spacingAndGlyphs" stroke="#1c1c1c" stroke-width="0.1" transform="rotate(.03 114.7 279.61)">8</text>
<text x="139.1" y="279.61" font-size="6.2" text-anchor="middle" fill="#1c1c1c" textLength="6" lengthAdjust="spacingAndGlyphs" stroke="#1c1c1c" stroke-width="0.1" transform="rotate(.03 139.1 279.61)">10</text>
<text x="90.5" y="291.28" font-size="7.3" text-anchor="middle" fill="#1c1c1c" textLength="100.5" lengthAdjust="spacingAndGlyphs" stroke="#1c1c1c" stroke-width="0.1" transform="rotate(.03 90.5 291.28)">Log2 normalized sgRNA enrichment</text>
<text x="12.2" y="219.55" font-size="7.2" text-anchor="middle" fill="#1c1c1c" textLength="40.6" lengthAdjust="spacingAndGlyphs" stroke="#1c1c1c" stroke-width="0.1" transform="rotate(-89.97 12.2 217.1)">-Log10 p value</text>
<circle cx="100.7" cy="189.2" r="1.7" fill="#d5412b" fill-opacity="0.2" stroke="#d5412b" stroke-opacity=".55" stroke-width=".3"/>
<text x="93.05" y="190.7" font-size="4.4" text-anchor="middle" fill="#d5412b" textLength="11.1" lengthAdjust="spacingAndGlyphs" stroke="#d5412b" stroke-width="0.05" transform="rotate(.03 93.05 190.7)">MYC</text>
<circle cx="148.8" cy="189.2" r="1.7" fill="#d5412b" fill-opacity="0.2" stroke="#d5412b" stroke-opacity=".55" stroke-width=".3"/>
<text x="140.5" y="190.7" font-size="4.4" text-anchor="middle" fill="#d5412b" textLength="13" lengthAdjust="spacingAndGlyphs" stroke="#d5412b" stroke-width="0.05" transform="rotate(.03 140.5 190.7)">STAT3</text>
<circle cx="85.8" cy="207.5" r="1.7" fill="#d5412b" fill-opacity="0.25" stroke="#d5412b" stroke-opacity=".55" stroke-width=".3"/>
<text x="93.45" y="205.5" font-size="4.4" text-anchor="middle" fill="#d5412b" textLength="12.5" lengthAdjust="spacingAndGlyphs" stroke="#d5412b" stroke-width="0.05" transform="rotate(.03 93.45 205.5)">NPM1</text>
<circle cx="70.3" cy="213.4" r="1.7" fill="#a54cb6" fill-opacity="0.3" stroke="#a54cb6" stroke-opacity=".55" stroke-width=".3"/>
<text x="76.15" y="211.5" font-size="4.4" text-anchor="middle" fill="#a54cb6" textLength="17.3" lengthAdjust="spacingAndGlyphs" stroke="#a54cb6" stroke-width="0.05" transform="rotate(.03 76.15 211.5)">SH2D2A</text>
<circle cx="63.3" cy="216.8" r="1.7" fill="#5bad45" fill-opacity="0.3" stroke="#5bad45" stroke-opacity=".55" stroke-width=".3"/>
<text x="58.9" y="214.9" font-size="4.4" text-anchor="middle" fill="#5bad45" textLength="13.8" lengthAdjust="spacingAndGlyphs" stroke="#5bad45" stroke-width="0.05" transform="rotate(.03 58.9 214.9)">IL10RA</text>
<circle cx="89.3" cy="216.8" r="1.7" fill="#5050b0" fill-opacity="0.3" stroke="#5050b0" stroke-opacity=".55" stroke-width=".3"/>
<text x="92.6" y="214.9" font-size="4.4" text-anchor="middle" fill="#5050b0" textLength="15.6" lengthAdjust="spacingAndGlyphs" stroke="#5050b0" stroke-width="0.05" transform="rotate(.03 92.6 214.9)">PGBD1</text>
<circle cx="101.4" cy="215.5" r="1.7" fill="#e8803a" fill-opacity="0.3" stroke="#e8803a" stroke-opacity=".55" stroke-width=".3"/>
<text x="111.6" y="217" font-size="4.4" text-anchor="middle" fill="#e8803a" textLength="15.6" lengthAdjust="spacingAndGlyphs" stroke="#e8803a" stroke-width="0.05" transform="rotate(.03 111.6 217)">MKNK1</text>
<circle cx="58.8" cy="224.8" r="1.7" fill="#d5412b" fill-opacity="0.3" stroke="#d5412b" stroke-opacity=".55" stroke-width=".3"/>
<text x="52.1" y="224.5" font-size="4.4" text-anchor="middle" fill="#d5412b" textLength="8.6" lengthAdjust="spacingAndGlyphs" stroke="#d5412b" stroke-width="0.05" transform="rotate(.03 52.1 224.5)">IRF4</text>
<circle cx="72.6" cy="227.5" r="1.7" fill="#e4503e" fill-opacity="0.3" stroke="#e4503e" stroke-opacity=".55" stroke-width=".3"/>
<text x="67.65" y="225.5" font-size="4.4" text-anchor="middle" fill="#e4503e" textLength="12.1" lengthAdjust="spacingAndGlyphs" stroke="#e4503e" stroke-width="0.05" transform="rotate(.03 67.65 225.5)">RORC</text>
<circle cx="75.5" cy="224.2" r="1.7" fill="#3a9bbf" fill-opacity="0.3" stroke="#3a9bbf" stroke-opacity=".55" stroke-width=".3"/>
<text x="83.65" y="223" font-size="4.4" text-anchor="middle" fill="#3a9bbf" textLength="16.7" lengthAdjust="spacingAndGlyphs" stroke="#3a9bbf" stroke-width="0.05" transform="rotate(.03 83.65 223)">GPR161</text>
<circle cx="91.2" cy="219.5" r="1.7" fill="#db3a9b" fill-opacity="0.3" stroke="#db3a9b" stroke-opacity=".55" stroke-width=".3"/>
<text x="99.7" y="222.8" font-size="4.4" text-anchor="middle" fill="#db3a9b" textLength="13.8" lengthAdjust="spacingAndGlyphs" stroke="#db3a9b" stroke-width="0.05" transform="rotate(.03 99.7 222.8)">P2RY6</text>
<circle cx="78" cy="226.5" r="1.7" fill="#3dac80" fill-opacity="0.3" stroke="#3dac80" stroke-opacity=".55" stroke-width=".3"/>
<text x="91.7" y="228.7" font-size="4.4" text-anchor="middle" fill="#3dac80" textLength="22.8" lengthAdjust="spacingAndGlyphs" stroke="#3dac80" stroke-width="0.05" transform="rotate(.03 91.7 228.7)">ADORA2A</text>
<circle cx="64.5" cy="230.3" r="1.7" fill="#5a5cc4" fill-opacity="0.3" stroke="#5a5cc4" stroke-opacity=".55" stroke-width=".3"/>
<text x="56.75" y="233.2" font-size="4.4" text-anchor="middle" fill="#5a5cc4" textLength="13.1" lengthAdjust="spacingAndGlyphs" stroke="#5a5cc4" stroke-width="0.05" transform="rotate(.03 56.75 233.2)">HELZ2</text>
<text x="172.5" y="158.81" font-size="11.8" text-anchor="middle" fill="#000" font-weight="bold" stroke="#000" stroke-width=".45" textLength="7.3" lengthAdjust="spacingAndGlyphs" transform="rotate(.03 172.5 158.81)">C</text>
<circle cx="211.5" cy="169.2" r="2.25" fill="#f0bbb0"/>
<circle cx="217.26" cy="169.2" r="2.25" fill="#f0bbb0"/>
<circle cx="280.81" cy="169.2" r="2.25" fill="#c2e1b2"/>
<circle cx="208.09" cy="189.1" r="2.25" fill="#a8dac0"/>
<circle cx="210.45" cy="209" r="2.25" fill="#b4dae5"/>
<circle cx="208.96" cy="228.9" r="2.25" fill="#f3c0a4"/>
<circle cx="230.53" cy="228.9" r="2.25" fill="#9484cc"/>
<circle cx="231.58" cy="228.9" r="2.25" fill="#a67cc6"/>
<circle cx="230.96" cy="248.8" r="2.25" fill="#f0bbb0"/>
<circle cx="309.97" cy="248.8" r="2.25" fill="#f4b2d3"/>
<circle cx="237.51" cy="268.7" r="2.25" fill="#a8a8dc"/>
<line x1="199" y1="166.4" x2="199" y2="269.4" stroke="#141414" stroke-width="1.4"/>
<line x1="198.3" y1="268.7" x2="324.2" y2="268.7" stroke="#141414" stroke-width="1.4"/>
<line x1="195.6" y1="268.7" x2="199" y2="268.7" stroke="#141414" stroke-width="0.9"/>
<text x="192.9" y="270.81" font-size="6.2" text-anchor="end" fill="#1c1c1c" textLength="3" lengthAdjust="spacingAndGlyphs" stroke="#1c1c1c" stroke-width="0.1" transform="rotate(.03 192.9 270.81)">0</text>
<line x1="195.6" y1="248.8" x2="199" y2="248.8" stroke="#141414" stroke-width="0.9"/>
<text x="192.9" y="250.91" font-size="6.2" text-anchor="end" fill="#1c1c1c" textLength="3" lengthAdjust="spacingAndGlyphs" stroke="#1c1c1c" stroke-width="0.1" transform="rotate(.03 192.9 250.91)">1</text>
<line x1="195.6" y1="228.9" x2="199" y2="228.9" stroke="#141414" stroke-width="0.9"/>
<text x="192.9" y="231.01" font-size="6.2" text-anchor="end" fill="#1c1c1c" textLength="3" lengthAdjust="spacingAndGlyphs" stroke="#1c1c1c" stroke-width="0.1" transform="rotate(.03 192.9 231.01)">2</text>
<line x1="195.6" y1="209" x2="199" y2="209" stroke="#141414" stroke-width="0.9"/>
<text x="192.9" y="211.11" font-size="6.2" text-anchor="end" fill="#1c1c1c" textLength="3" lengthAdjust="spacingAndGlyphs" stroke="#1c1c1c" stroke-width="0.1" transform="rotate(.03 192.9 211.11)">3</text>
<line x1="195.6" y1="189.1" x2="199" y2="189.1" stroke="#141414" stroke-width="0.9"/>
<text x="192.9" y="191.21" font-size="6.2" text-anchor="end" fill="#1c1c1c" textLength="3" lengthAdjust="spacingAndGlyphs" stroke="#1c1c1c" stroke-width="0.1" transform="rotate(.03 192.9 191.21)">4</text>
<line x1="195.6" y1="169.2" x2="199" y2="169.2" stroke="#141414" stroke-width="0.9"/>
<text x="192.9" y="171.31" font-size="6.2" text-anchor="end" fill="#1c1c1c" textLength="3" lengthAdjust="spacingAndGlyphs" stroke="#1c1c1c" stroke-width="0.1" transform="rotate(.03 192.9 171.31)">5</text>
<line x1="199.1" y1="268.7" x2="199.1" y2="271.7" stroke="#141414" stroke-width="0.9"/>
<text x="199.1" y="280.41" font-size="6.2" text-anchor="middle" fill="#1c1c1c" textLength="3" lengthAdjust="spacingAndGlyphs" stroke="#1c1c1c" stroke-width="0.1" transform="rotate(.03 199.1 280.41)">0</text>
<line x1="216.56" y1="268.7" x2="216.56" y2="271.7" stroke="#141414" stroke-width="0.9"/>
<text x="216.56" y="280.41" font-size="6.2" text-anchor="middle" fill="#1c1c1c" textLength="3" lengthAdjust="spacingAndGlyphs" stroke="#1c1c1c" stroke-width="0.1" transform="rotate(.03 216.56 280.41)">2</text>
<line x1="234.02" y1="268.7" x2="234.02" y2="271.7" stroke="#141414" stroke-width="0.9"/>
<text x="234.02" y="280.41" font-size="6.2" text-anchor="middle" fill="#1c1c1c" textLength="3" lengthAdjust="spacingAndGlyphs" stroke="#1c1c1c" stroke-width="0.1" transform="rotate(.03 234.02 280.41)">4</text>
<line x1="251.48" y1="268.7" x2="251.48" y2="271.7" stroke="#141414" stroke-width="0.9"/>
<text x="251.48" y="280.41" font-size="6.2" text-anchor="middle" fill="#1c1c1c" textLength="3" lengthAdjust="spacingAndGlyphs" stroke="#1c1c1c" stroke-width="0.1" transform="rotate(.03 251.48 280.41)">6</text>
<line x1="268.94" y1="268.7" x2="268.94" y2="271.7" stroke="#141414" stroke-width="0.9"/>
<text x="268.94" y="280.41" font-size="6.2" text-anchor="middle" fill="#1c1c1c" textLength="3" lengthAdjust="spacingAndGlyphs" stroke="#1c1c1c" stroke-width="0.1" transform="rotate(.03 268.94 280.41)">8</text>
<line x1="286.4" y1="268.7" x2="286.4" y2="271.7" stroke="#141414" stroke-width="0.9"/>
<text x="286.4" y="280.41" font-size="6.2" text-anchor="middle" fill="#1c1c1c" textLength="6" lengthAdjust="spacingAndGlyphs" stroke="#1c1c1c" stroke-width="0.1" transform="rotate(.03 286.4 280.41)">10</text>
<line x1="303.86" y1="268.7" x2="303.86" y2="271.7" stroke="#141414" stroke-width="0.9"/>
<text x="303.86" y="280.41" font-size="6.2" text-anchor="middle" fill="#1c1c1c" textLength="6" lengthAdjust="spacingAndGlyphs" stroke="#1c1c1c" stroke-width="0.1" transform="rotate(.03 303.86 280.41)">12</text>
<line x1="321.32" y1="268.7" x2="321.32" y2="271.7" stroke="#141414" stroke-width="0.9"/>
<text x="321.32" y="280.41" font-size="6.2" text-anchor="middle" fill="#1c1c1c" textLength="6" lengthAdjust="spacingAndGlyphs" stroke="#1c1c1c" stroke-width="0.1" transform="rotate(.03 321.32 280.41)">14</text>
<text x="262.2" y="291.18" font-size="7.3" text-anchor="middle" fill="#1c1c1c" textLength="136" lengthAdjust="spacingAndGlyphs" stroke="#1c1c1c" stroke-width="0.1" transform="rotate(.03 262.2 291.18)">Log2 normalized median fold change expression</text>
<text x="262.2" y="299.88" font-size="7.3" text-anchor="middle" fill="#1c1c1c" textLength="60.6" lengthAdjust="spacingAndGlyphs" stroke="#1c1c1c" stroke-width="0.1" transform="rotate(.03 262.2 299.88)">(relative to NT sgRNA)</text>
<text x="171.9" y="219.41" font-size="7.1" text-anchor="middle" fill="#1c1c1c" textLength="104" lengthAdjust="spacingAndGlyphs" stroke="#1c1c1c" stroke-width="0.1" transform="rotate(-89.97 171.9 217)">Total number of gene specific sgRNAs</text>
<text x="181.4" y="219.81" font-size="7.1" text-anchor="middle" fill="#1c1c1c" textLength="95.7" lengthAdjust="spacingAndGlyphs" stroke="#1c1c1c" stroke-width="0.1" transform="rotate(-89.97 181.4 217.4)">modulating sensitivity to crizotinib</text>
<text x="206.85" y="177.23" font-size="4.2" text-anchor="middle" fill="#d5412b" textLength="12.1" lengthAdjust="spacingAndGlyphs" stroke="#d5412b" stroke-width="0.05" transform="rotate(.03 206.85 177.23)">NPM1</text>
<text x="222" y="177.23" font-size="4.2" text-anchor="middle" fill="#d5412b" textLength="9.4" lengthAdjust="spacingAndGlyphs" stroke="#d5412b" stroke-width="0.05" transform="rotate(.03 222 177.23)">MYC</text>
<text x="272.9" y="176.13" font-size="4.2" text-anchor="middle" fill="#5bad45" textLength="13.8" lengthAdjust="spacingAndGlyphs" stroke="#5bad45" stroke-width="0.05" transform="rotate(.03 272.9 176.13)">IL10RA</text>
<text x="222.3" y="191.83" font-size="4.2" text-anchor="middle" fill="#3dac80" textLength="21.6" lengthAdjust="spacingAndGlyphs" stroke="#3dac80" stroke-width="0.05" transform="rotate(.03 222.3 191.83)">ADORA2A</text>
<text x="223" y="211.03" font-size="4.2" text-anchor="middle" fill="#3a9bbf" textLength="16.4" lengthAdjust="spacingAndGlyphs" stroke="#3a9bbf" stroke-width="0.05" transform="rotate(.03 223 211.03)">GPR161</text>
<text x="207.9" y="225.23" font-size="4.2" text-anchor="middle" fill="#e8803a" textLength="15.8" lengthAdjust="spacingAndGlyphs" stroke="#e8803a" stroke-width="0.05" transform="rotate(.03 207.9 225.23)">MKNK1</text>
<text x="225.35" y="225.63" font-size="4.2" text-anchor="middle" fill="#5050b0" textLength="14.7" lengthAdjust="spacingAndGlyphs" stroke="#5050b0" stroke-width="0.05" transform="rotate(.03 225.35 225.63)">PGBD1</text>
<text x="238.85" y="235.63" font-size="4.2" text-anchor="middle" fill="#a54cb6" textLength="17.3" lengthAdjust="spacingAndGlyphs" stroke="#a54cb6" stroke-width="0.05" transform="rotate(.03 238.85 235.63)">SH2D2A</text>
<text x="221.15" y="249.83" font-size="4.2" text-anchor="middle" fill="#e4503e" textLength="11.5" lengthAdjust="spacingAndGlyphs" stroke="#e4503e" stroke-width="0.05" transform="rotate(.03 221.15 249.83)">RORC</text>
<text x="299.75" y="249.83" font-size="4.2" text-anchor="middle" fill="#db3a9b" textLength="12.9" lengthAdjust="spacingAndGlyphs" stroke="#db3a9b" stroke-width="0.05" transform="rotate(.03 299.75 249.83)">P2RY6</text>
<text x="238.6" y="265.43" font-size="4.2" text-anchor="middle" fill="#5a5cc4" textLength="13.6" lengthAdjust="spacingAndGlyphs" stroke="#5a5cc4" stroke-width="0.05" transform="rotate(.03 238.6 265.43)">HELZ2</text>
<text x="11.85" y="329.21" font-size="11.8" text-anchor="middle" fill="#000" font-weight="bold" stroke="#000" stroke-width=".45" textLength="6.4" lengthAdjust="spacingAndGlyphs" transform="rotate(.03 11.85 329.21)">E</text>
<line x1="31.7" y1="342.6" x2="402.8" y2="342.6" stroke="#141414" stroke-width="0.9"/>
<text x="217.7" y="339.26" font-size="8.4" text-anchor="middle" fill="#1c1c1c" textLength="8.6" lengthAdjust="spacingAndGlyphs" stroke="#1c1c1c" stroke-width="0.1" transform="rotate(.03 217.7 339.26)">TS</text>
<line x1="29.2" y1="357.4" x2="29.2" y2="506.2" stroke="#141414" stroke-width="1.4"/>
<line x1="28.5" y1="505.5" x2="405.6" y2="505.5" stroke="#141414" stroke-width="1.4"/>
<line x1="25.9" y1="500.6" x2="29.2" y2="500.6" stroke="#141414" stroke-width="0.9"/>
<text x="22.9" y="502.87" font-size="6.1" text-anchor="end" fill="#1c1c1c" textLength="3" lengthAdjust="spacingAndGlyphs" stroke="#1c1c1c" stroke-width="0.1" transform="rotate(.03 22.9 502.87)">0</text>
<line x1="25.9" y1="482.99" x2="29.2" y2="482.99" stroke="#141414" stroke-width="0.9"/>
<text x="22.9" y="485.26" font-size="6.1" text-anchor="end" fill="#1c1c1c" textLength="3" lengthAdjust="spacingAndGlyphs" stroke="#1c1c1c" stroke-width="0.1" transform="rotate(.03 22.9 485.26)">1</text>
<line x1="25.9" y1="465.38" x2="29.2" y2="465.38" stroke="#141414" stroke-width="0.9"/>
<text x="22.9" y="467.65" font-size="6.1" text-anchor="end" fill="#1c1c1c" textLength="3" lengthAdjust="spacingAndGlyphs" stroke="#1c1c1c" stroke-width="0.1" transform="rotate(.03 22.9 467.65)">2</text>
<line x1="25.9" y1="447.77" x2="29.2" y2="447.77" stroke="#141414" stroke-width="0.9"/>
<text x="22.9" y="450.04" font-size="6.1" text-anchor="end" fill="#1c1c1c" textLength="3" lengthAdjust="spacingAndGlyphs" stroke="#1c1c1c" stroke-width="0.1" transform="rotate(.03 22.9 450.04)">3</text>
<line x1="25.9" y1="430.16" x2="29.2" y2="430.16" stroke="#141414" stroke-width="0.9"/>
<text x="22.9" y="432.43" font-size="6.1" text-anchor="end" fill="#1c1c1c" textLength="3" lengthAdjust="spacingAndGlyphs" stroke="#1c1c1c" stroke-width="0.1" transform="rotate(.03 22.9 432.43)">4</text>
<line x1="25.9" y1="412.55" x2="29.2" y2="412.55" stroke="#141414" stroke-width="0.9"/>
<text x="22.9" y="414.82" font-size="6.1" text-anchor="end" fill="#1c1c1c" textLength="3" lengthAdjust="spacingAndGlyphs" stroke="#1c1c1c" stroke-width="0.1" transform="rotate(.03 22.9 414.82)">5</text>
<line x1="25.9" y1="394.94" x2="29.2" y2="394.94" stroke="#141414" stroke-width="0.9"/>
<text x="22.9" y="397.21" font-size="6.1" text-anchor="end" fill="#1c1c1c" textLength="3" lengthAdjust="spacingAndGlyphs" stroke="#1c1c1c" stroke-width="0.1" transform="rotate(.03 22.9 397.21)">6</text>
<line x1="25.9" y1="377.33" x2="29.2" y2="377.33" stroke="#141414" stroke-width="0.9"/>
<text x="22.9" y="379.6" font-size="6.1" text-anchor="end" fill="#1c1c1c" textLength="3" lengthAdjust="spacingAndGlyphs" stroke="#1c1c1c" stroke-width="0.1" transform="rotate(.03 22.9 379.6)">7</text>
<line x1="25.9" y1="359.72" x2="29.2" y2="359.72" stroke="#141414" stroke-width="0.9"/>
<text x="22.9" y="361.99" font-size="6.1" text-anchor="end" fill="#1c1c1c" textLength="3" lengthAdjust="spacingAndGlyphs" stroke="#1c1c1c" stroke-width="0.1" transform="rotate(.03 22.9 361.99)">8</text>
<text x="12.6" y="433.44" font-size="6.6" text-anchor="middle" fill="#1c1c1c" textLength="118.5" lengthAdjust="spacingAndGlyphs" stroke="#1c1c1c" stroke-width="0.1" transform="rotate(-89.97 12.6 431.2)">Log2 normalized sgRNA read counts (RPM)</text>
<rect x="247.6" y="352.4" width="15" height="8.8" fill="#9ea2b2" stroke="#8a8e9e" stroke-width=".4"/>
<text x="266" y="358.6" font-size="5.3" text-anchor="start" fill="#1c1c1c" stroke="#1c1c1c" stroke-width="0.1" transform="rotate(.03 266 358.6)">D0</text>
<rect x="283" y="352.4" width="14.6" height="8.8" fill="#c9c9cd" stroke="#bdbdc2" stroke-width=".4"/>
<text x="301" y="358.6" font-size="5.3" text-anchor="start" fill="#1c1c1c" textLength="29.7" lengthAdjust="spacingAndGlyphs" stroke="#1c1c1c" stroke-width="0.1" transform="rotate(.03 301 358.6)">D14 DMSO</text>
<defs><linearGradient id="rb" x1="0" x2="1" y1="0" y2="0"><stop offset="0" stop-color="#46a84c"/><stop offset=".13" stop-color="#c4c83a"/><stop offset=".27" stop-color="#f08a28"/><stop offset=".42" stop-color="#e8382a"/><stop offset=".57" stop-color="#c8288c"/><stop offset=".72" stop-color="#7a2aa0"/><stop offset=".87" stop-color="#3a2a90"/><stop offset="1" stop-color="#26266e"/></linearGradient></defs>
<rect x="340.2" y="352.4" width="15" height="8.8" fill="url(#rb)"/>
<text x="359" y="358.6" font-size="5.3" text-anchor="start" fill="#1c1c1c" textLength="36.7" lengthAdjust="spacingAndGlyphs" stroke="#1c1c1c" stroke-width="0.1" transform="rotate(.03 359 358.6)">D14 Crizotinib</text>
<line x1="47.6" y1="505.5" x2="47.6" y2="508.6" stroke="#141414" stroke-width="0.9"/>
<text x="48" y="517.1" font-size="5.6" text-anchor="middle" fill="#3dac80" textLength="27.6" lengthAdjust="spacingAndGlyphs" transform="rotate(.03 48 517.1)">ADORA2A</text>
<line x1="37.9" y1="420.83" x2="37.9" y2="424.35" stroke="#111" stroke-width="0.75"/>
<line x1="37.9" y1="433.51" x2="37.9" y2="436.68" stroke="#111" stroke-width="0.75"/>
<line x1="35.7" y1="420.83" x2="40.1" y2="420.83" stroke="#111" stroke-width="0.9"/>
<line x1="35.7" y1="436.68" x2="40.1" y2="436.68" stroke="#111" stroke-width="0.9"/>
<rect x="33.1" y="424.35" width="9.6" height="9.16" fill="#9ea2b2" stroke="#8c90a2" stroke-width=".4"/>
<line x1="33.1" y1="429.1" x2="42.7" y2="429.1" stroke="#111" stroke-width="1.1"/>
<circle cx="38.01" cy="432.9" r=".55" fill="#111"/>
<circle cx="38.15" cy="430.81" r=".55" fill="#111"/>
<circle cx="36.86" cy="426.76" r=".55" fill="#111"/>
<line x1="47.6" y1="411.32" x2="47.6" y2="419.07" stroke="#111" stroke-width="0.75"/>
<line x1="47.6" y1="442.13" x2="47.6" y2="469.61" stroke="#111" stroke-width="0.75"/>
<line x1="45.4" y1="411.32" x2="49.8" y2="411.32" stroke="#111" stroke-width="0.9"/>
<line x1="45.4" y1="469.61" x2="49.8" y2="469.61" stroke="#111" stroke-width="0.9"/>
<rect x="42.8" y="419.07" width="9.6" height="23.07" fill="#c9c9cd" stroke="#bcbcc2" stroke-width=".4"/>
<line x1="42.8" y1="428.4" x2="52.4" y2="428.4" stroke="#111" stroke-width="1.1"/>
<circle cx="48.41" cy="468.84" r=".55" fill="#111"/>
<circle cx="46.96" cy="454.49" r=".55" fill="#111"/>
<circle cx="47.53" cy="411.57" r=".55" fill="#111"/>
<line x1="57.7" y1="460.8" x2="57.7" y2="462.91" stroke="#111" stroke-width="0.75"/>
<line x1="57.7" y1="475.59" x2="57.7" y2="479.82" stroke="#111" stroke-width="0.75"/>
<line x1="55.5" y1="460.8" x2="59.9" y2="460.8" stroke="#111" stroke-width="0.9"/>
<line x1="55.5" y1="479.82" x2="59.9" y2="479.82" stroke="#111" stroke-width="0.9"/>
<rect x="52.9" y="462.91" width="9.6" height="12.68" fill="#cfe8dc" stroke="#a8d4c0" stroke-width=".4"/>
<line x1="52.9" y1="471.02" x2="62.5" y2="471.02" stroke="#111" stroke-width="1.1"/>
<circle cx="57.64" cy="463.91" r=".55" fill="#111"/>
<circle cx="56.86" cy="467.67" r=".55" fill="#111"/>
<circle cx="58.58" cy="467.75" r=".55" fill="#111"/>
<circle cx="57.5" cy="367.29" r=".7" fill="#111"/>
<line x1="38.4" y1="375.8" x2="57.6" y2="375.8" stroke="#7cc8a8" stroke-width="0.9"/>
<line x1="38.2" y1="380.5" x2="47.8" y2="380.5" stroke="#3a3a3a" stroke-width="0.85"/>
<line x1="49.1" y1="380.5" x2="58.7" y2="380.5" stroke="#3a3a3a" stroke-width="0.85"/>
<text x="48.1" y="374.69" font-size="5.4" text-anchor="middle" fill="#111" textLength="5.2" lengthAdjust="spacingAndGlyphs" stroke="#111" stroke-width="0.08" transform="rotate(.03 48.1 374.69)">ns</text>
<text x="43" y="379.79" font-size="5.4" text-anchor="middle" fill="#111" textLength="5.2" lengthAdjust="spacingAndGlyphs" stroke="#111" stroke-width="0.08" transform="rotate(.03 43 379.79)">ns</text>
<text x="53.6" y="379.79" font-size="5.4" text-anchor="middle" fill="#111" textLength="5.2" lengthAdjust="spacingAndGlyphs" stroke="#111" stroke-width="0.08" transform="rotate(.03 53.6 379.79)">ns</text>
<line x1="85.23" y1="505.5" x2="85.23" y2="508.6" stroke="#141414" stroke-width="0.9"/>
<text x="85.63" y="517.1" font-size="5.6" text-anchor="middle" fill="#3a9bbf" textLength="20.4" lengthAdjust="spacingAndGlyphs" transform="rotate(.03 85.63 517.1)">GPR161</text>
<line x1="75.53" y1="409.56" x2="75.53" y2="416.07" stroke="#111" stroke-width="0.75"/>
<line x1="75.53" y1="427.52" x2="75.53" y2="430.69" stroke="#111" stroke-width="0.75"/>
<line x1="73.33" y1="409.56" x2="77.73" y2="409.56" stroke="#111" stroke-width="0.9"/>
<line x1="73.33" y1="430.69" x2="77.73" y2="430.69" stroke="#111" stroke-width="0.9"/>
<rect x="70.73" y="416.07" width="9.6" height="11.45" fill="#9ea2b2" stroke="#8c90a2" stroke-width=".4"/>
<line x1="70.73" y1="424.35" x2="80.33" y2="424.35" stroke="#111" stroke-width="1.1"/>
<circle cx="76.11" cy="419.63" r=".55" fill="#111"/>
<circle cx="74.48" cy="416.5" r=".55" fill="#111"/>
<circle cx="75.75" cy="414.67" r=".55" fill="#111"/>
<line x1="85.23" y1="408.85" x2="85.23" y2="421.53" stroke="#111" stroke-width="0.75"/>
<line x1="85.23" y1="445.83" x2="85.23" y2="460.63" stroke="#111" stroke-width="0.75"/>
<line x1="83.03" y1="408.85" x2="87.43" y2="408.85" stroke="#111" stroke-width="0.9"/>
<line x1="83.03" y1="460.63" x2="87.43" y2="460.63" stroke="#111" stroke-width="0.9"/>
<rect x="80.43" y="421.53" width="9.6" height="24.3" fill="#c9c9cd" stroke="#bcbcc2" stroke-width=".4"/>
<line x1="80.43" y1="429.63" x2="90.03" y2="429.63" stroke="#111" stroke-width="1.1"/>
<circle cx="84.1" cy="445.03" r=".55" fill="#111"/>
<circle cx="85.16" cy="415.81" r=".55" fill="#111"/>
<circle cx="86.14" cy="423.41" r=".55" fill="#111"/>
<line x1="95.33" y1="452.52" x2="95.33" y2="453.41" stroke="#111" stroke-width="0.75"/>
<line x1="95.33" y1="477.35" x2="95.33" y2="491.8" stroke="#111" stroke-width="0.75"/>
<line x1="93.13" y1="452.52" x2="97.53" y2="452.52" stroke="#111" stroke-width="0.9"/>
<line x1="93.13" y1="491.8" x2="97.53" y2="491.8" stroke="#111" stroke-width="0.9"/>
<rect x="90.53" y="453.41" width="9.6" height="23.95" fill="#cbe4ee" stroke="#a4d0e0" stroke-width=".4"/>
<line x1="90.53" y1="457.1" x2="100.13" y2="457.1" stroke="#111" stroke-width="1.1"/>
<circle cx="96.34" cy="463.75" r=".55" fill="#111"/>
<circle cx="96.05" cy="476.28" r=".55" fill="#111"/>
<circle cx="96.38" cy="474.33" r=".55" fill="#111"/>
<circle cx="85.7" cy="372.93" r=".7" fill="#111"/>
<circle cx="94.6" cy="393.88" r=".7" fill="#111"/>
<line x1="76.03" y1="375.8" x2="95.23" y2="375.8" stroke="#5ab4cc" stroke-width="0.9"/>
<line x1="75.83" y1="380.5" x2="85.43" y2="380.5" stroke="#3a3a3a" stroke-width="0.85"/>
<line x1="86.73" y1="380.5" x2="96.33" y2="380.5" stroke="#3a3a3a" stroke-width="0.85"/>
<text x="85.73" y="374.66" font-size="4" text-anchor="middle" fill="#000" stroke="#000" stroke-width="0.2" transform="rotate(.03 85.73 374.66)">*</text>
<text x="80.63" y="379.79" font-size="5.4" text-anchor="middle" fill="#111" textLength="5.2" lengthAdjust="spacingAndGlyphs" stroke="#111" stroke-width="0.08" transform="rotate(.03 80.63 379.79)">ns</text>
<text x="91.23" y="379.79" font-size="5.4" text-anchor="middle" fill="#111" textLength="5.2" lengthAdjust="spacingAndGlyphs" stroke="#111" stroke-width="0.08" transform="rotate(.03 91.23 379.79)">ns</text>
<line x1="122.86" y1="505.5" x2="122.86" y2="508.6" stroke="#141414" stroke-width="0.9"/>
<text x="123.26" y="517.1" font-size="5.6" text-anchor="middle" fill="#5a5cc4" textLength="16.3" lengthAdjust="spacingAndGlyphs" transform="rotate(.03 123.26 517.1)">HELZ2</text>
<line x1="113.16" y1="421.53" x2="113.16" y2="425.23" stroke="#111" stroke-width="0.75"/>
<line x1="113.16" y1="427.69" x2="113.16" y2="428.05" stroke="#111" stroke-width="0.75"/>
<line x1="110.96" y1="421.53" x2="115.36" y2="421.53" stroke="#111" stroke-width="0.9"/>
<line x1="110.96" y1="428.05" x2="115.36" y2="428.05" stroke="#111" stroke-width="0.9"/>
<rect x="108.36" y="425.23" width="9.6" height="2.47" fill="#9ea2b2" stroke="#8c90a2" stroke-width=".4"/>
<line x1="108.36" y1="426.64" x2="117.96" y2="426.64" stroke="#111" stroke-width="1.1"/>
<circle cx="112.19" cy="422.32" r=".55" fill="#111"/>
<circle cx="112.48" cy="427.16" r=".55" fill="#111"/>
<circle cx="113.01" cy="421.76" r=".55" fill="#111"/>
<line x1="122.86" y1="391.59" x2="122.86" y2="426.64" stroke="#111" stroke-width="0.75"/>
<line x1="122.86" y1="454.99" x2="122.86" y2="484.4" stroke="#111" stroke-width="0.75"/>
<line x1="120.66" y1="391.59" x2="125.06" y2="391.59" stroke="#111" stroke-width="0.9"/>
<line x1="120.66" y1="484.4" x2="125.06" y2="484.4" stroke="#111" stroke-width="0.9"/>
<rect x="118.06" y="426.64" width="9.6" height="28.35" fill="#c9c9cd" stroke="#bcbcc2" stroke-width=".4"/>
<line x1="118.06" y1="446.89" x2="127.66" y2="446.89" stroke="#111" stroke-width="1.1"/>
<circle cx="122.38" cy="426.24" r=".55" fill="#111"/>
<circle cx="122.59" cy="437.32" r=".55" fill="#111"/>
<circle cx="123.06" cy="451.83" r=".55" fill="#111"/>
<line x1="132.96" y1="453.93" x2="132.96" y2="454.29" stroke="#111" stroke-width="0.75"/>
<line x1="132.96" y1="489.33" x2="132.96" y2="498.13" stroke="#111" stroke-width="0.75"/>
<line x1="130.76" y1="453.93" x2="135.16" y2="453.93" stroke="#111" stroke-width="0.9"/>
<line x1="130.76" y1="498.13" x2="135.16" y2="498.13" stroke="#111" stroke-width="0.9"/>
<rect x="128.16" y="454.29" width="9.6" height="35.04" fill="#8a8ad0" stroke="#6c6cc0" stroke-width=".4"/>
<line x1="128.16" y1="476.47" x2="137.76" y2="476.47" stroke="#111" stroke-width="1.1"/>
<circle cx="133.93" cy="472.31" r=".55" fill="#111"/>
<circle cx="133.99" cy="467.99" r=".55" fill="#111"/>
<circle cx="134.14" cy="460.28" r=".55" fill="#111"/>
<circle cx="112.9" cy="446.19" r=".7" fill="#111"/>
<circle cx="133" cy="386.13" r=".7" fill="#111"/>
<line x1="113.66" y1="375.8" x2="132.86" y2="375.8" stroke="#8a84d0" stroke-width="0.9"/>
<line x1="113.46" y1="380.5" x2="123.06" y2="380.5" stroke="#3a3a3a" stroke-width="0.85"/>
<line x1="124.36" y1="380.5" x2="133.96" y2="380.5" stroke="#3a3a3a" stroke-width="0.85"/>
<text x="123.36" y="374.69" font-size="5.4" text-anchor="middle" fill="#111" textLength="5.2" lengthAdjust="spacingAndGlyphs" stroke="#111" stroke-width="0.08" transform="rotate(.03 123.36 374.69)">ns</text>
<text x="118.26" y="379.79" font-size="5.4" text-anchor="middle" fill="#111" textLength="5.2" lengthAdjust="spacingAndGlyphs" stroke="#111" stroke-width="0.08" transform="rotate(.03 118.26 379.79)">ns</text>
<text x="128.86" y="379.79" font-size="5.4" text-anchor="middle" fill="#111" textLength="5.2" lengthAdjust="spacingAndGlyphs" stroke="#111" stroke-width="0.08" transform="rotate(.03 128.86 379.79)">ns</text>
<line x1="160.49" y1="505.5" x2="160.49" y2="508.6" stroke="#141414" stroke-width="0.9"/>
<text x="160.89" y="517.1" font-size="5.6" text-anchor="middle" fill="#5bad45" textLength="17.6" lengthAdjust="spacingAndGlyphs" transform="rotate(.03 160.89 517.1)">IL10RA</text>
<line x1="150.79" y1="426.81" x2="150.79" y2="428.05" stroke="#111" stroke-width="0.75"/>
<line x1="150.79" y1="437.91" x2="150.79" y2="441.25" stroke="#111" stroke-width="0.75"/>
<line x1="148.59" y1="426.81" x2="152.99" y2="426.81" stroke="#111" stroke-width="0.9"/>
<line x1="148.59" y1="441.25" x2="152.99" y2="441.25" stroke="#111" stroke-width="0.9"/>
<rect x="145.99" y="428.05" width="9.6" height="9.86" fill="#9ea2b2" stroke="#8c90a2" stroke-width=".4"/>
<line x1="145.99" y1="429.28" x2="155.59" y2="429.28" stroke="#111" stroke-width="1.1"/>
<circle cx="149.98" cy="431.56" r=".55" fill="#111"/>
<circle cx="151.91" cy="428.83" r=".55" fill="#111"/>
<circle cx="150.96" cy="428.19" r=".55" fill="#111"/>
<line x1="160.49" y1="441.96" x2="160.49" y2="445.13" stroke="#111" stroke-width="0.75"/>
<line x1="160.49" y1="470.84" x2="160.49" y2="476.47" stroke="#111" stroke-width="0.75"/>
<line x1="158.29" y1="441.96" x2="162.69" y2="441.96" stroke="#111" stroke-width="0.9"/>
<line x1="158.29" y1="476.47" x2="162.69" y2="476.47" stroke="#111" stroke-width="0.9"/>
<rect x="155.69" y="445.13" width="9.6" height="25.71" fill="#c9c9cd" stroke="#bcbcc2" stroke-width=".4"/>
<line x1="155.69" y1="457.28" x2="165.29" y2="457.28" stroke="#111" stroke-width="1.1"/>
<circle cx="159.8" cy="451.84" r=".55" fill="#111"/>
<circle cx="160.67" cy="447.77" r=".55" fill="#111"/>
<circle cx="159.44" cy="466.64" r=".55" fill="#111"/>
<line x1="170.59" y1="483.87" x2="170.59" y2="488.8" stroke="#111" stroke-width="0.75"/>
<line x1="170.59" y1="492.5" x2="170.59" y2="497.96" stroke="#111" stroke-width="0.75"/>
<line x1="168.39" y1="483.87" x2="172.79" y2="483.87" stroke="#111" stroke-width="0.9"/>
<line x1="168.39" y1="497.96" x2="172.79" y2="497.96" stroke="#111" stroke-width="0.9"/>
<rect x="165.79" y="488.8" width="9.6" height="3.7" fill="#c9e8ba" stroke="#a4d494" stroke-width=".4"/>
<line x1="165.79" y1="490.56" x2="175.39" y2="490.56" stroke="#111" stroke-width="1.1"/>
<circle cx="171.77" cy="485.93" r=".55" fill="#111"/>
<circle cx="171.31" cy="496.71" r=".55" fill="#111"/>
<circle cx="169.75" cy="492.18" r=".55" fill="#111"/>
<circle cx="149.4" cy="408.15" r=".7" fill="#111"/>
<circle cx="151.9" cy="478.24" r=".7" fill="#111"/>
<line x1="151.29" y1="375.8" x2="170.49" y2="375.8" stroke="#8cc878" stroke-width="0.9"/>
<line x1="151.09" y1="380.5" x2="160.69" y2="380.5" stroke="#3a3a3a" stroke-width="0.85"/>
<line x1="161.99" y1="380.5" x2="171.59" y2="380.5" stroke="#3a3a3a" stroke-width="0.85"/>
<text x="161.49" y="374.66" font-size="4" text-anchor="middle" fill="#000" stroke="#000" stroke-width="0.2" transform="rotate(.03 161.49 374.66)" letter-spacing="1.05">**</text>
<text x="155.89" y="379.79" font-size="5.4" text-anchor="middle" fill="#111" textLength="5.2" lengthAdjust="spacingAndGlyphs" stroke="#111" stroke-width="0.08" transform="rotate(.03 155.89 379.79)">ns</text>
<text x="166.99" y="379.76" font-size="4" text-anchor="middle" fill="#000" stroke="#000" stroke-width="0.2" transform="rotate(.03 166.99 379.76)" letter-spacing="1.05">**</text>
<line x1="198.12" y1="505.5" x2="198.12" y2="508.6" stroke="#141414" stroke-width="0.9"/>
<text x="198.52" y="517.1" font-size="5.6" text-anchor="middle" fill="#e8803a" textLength="20.3" lengthAdjust="spacingAndGlyphs" transform="rotate(.03 198.52 517.1)">MKNK1</text>
<line x1="188.42" y1="417.48" x2="188.42" y2="423.12" stroke="#111" stroke-width="0.75"/>
<line x1="188.42" y1="437.2" x2="188.42" y2="440.37" stroke="#111" stroke-width="0.75"/>
<line x1="186.22" y1="417.48" x2="190.62" y2="417.48" stroke="#111" stroke-width="0.9"/>
<line x1="186.22" y1="440.37" x2="190.62" y2="440.37" stroke="#111" stroke-width="0.9"/>
<rect x="183.62" y="423.12" width="9.6" height="14.09" fill="#9ea2b2" stroke="#8c90a2" stroke-width=".4"/>
<line x1="183.62" y1="428.58" x2="193.22" y2="428.58" stroke="#111" stroke-width="1.1"/>
<circle cx="189.07" cy="433.65" r=".55" fill="#111"/>
<circle cx="187.33" cy="420.39" r=".55" fill="#111"/>
<circle cx="187.33" cy="426.31" r=".55" fill="#111"/>
<line x1="198.12" y1="426.11" x2="198.12" y2="431.04" stroke="#111" stroke-width="0.75"/>
<line x1="198.12" y1="455.52" x2="198.12" y2="459.74" stroke="#111" stroke-width="0.75"/>
<line x1="195.92" y1="426.11" x2="200.32" y2="426.11" stroke="#111" stroke-width="0.9"/>
<line x1="195.92" y1="459.74" x2="200.32" y2="459.74" stroke="#111" stroke-width="0.9"/>
<rect x="193.32" y="431.04" width="9.6" height="24.48" fill="#c9c9cd" stroke="#bcbcc2" stroke-width=".4"/>
<line x1="193.32" y1="452.7" x2="202.92" y2="452.7" stroke="#111" stroke-width="1.1"/>
<circle cx="197.71" cy="435.58" r=".55" fill="#111"/>
<circle cx="199.27" cy="430.12" r=".55" fill="#111"/>
<circle cx="199.32" cy="442.74" r=".55" fill="#111"/>
<line x1="208.22" y1="472.42" x2="208.22" y2="473.3" stroke="#111" stroke-width="0.75"/>
<line x1="208.22" y1="491.8" x2="208.22" y2="494.08" stroke="#111" stroke-width="0.75"/>
<line x1="206.02" y1="472.42" x2="210.42" y2="472.42" stroke="#111" stroke-width="0.9"/>
<line x1="206.02" y1="494.08" x2="210.42" y2="494.08" stroke="#111" stroke-width="0.9"/>
<rect x="203.42" y="473.3" width="9.6" height="18.49" fill="#f3b48c" stroke="#e89868" stroke-width=".4"/>
<line x1="203.42" y1="476.47" x2="213.02" y2="476.47" stroke="#111" stroke-width="1.1"/>
<circle cx="207.2" cy="487.38" r=".55" fill="#111"/>
<circle cx="207.1" cy="481.09" r=".55" fill="#111"/>
<circle cx="208" cy="489.81" r=".55" fill="#111"/>
<circle cx="189.5" cy="473.3" r=".7" fill="#111"/>
<circle cx="208" cy="427.34" r=".7" fill="#111"/>
<line x1="188.92" y1="375.8" x2="208.12" y2="375.8" stroke="#f0a070" stroke-width="0.9"/>
<line x1="188.72" y1="380.5" x2="198.32" y2="380.5" stroke="#3a3a3a" stroke-width="0.85"/>
<line x1="199.62" y1="380.5" x2="209.22" y2="380.5" stroke="#3a3a3a" stroke-width="0.85"/>
<text x="198.62" y="374.66" font-size="4" text-anchor="middle" fill="#000" stroke="#000" stroke-width="0.2" transform="rotate(.03 198.62 374.66)">*</text>
<text x="193.52" y="379.79" font-size="5.4" text-anchor="middle" fill="#111" textLength="5.2" lengthAdjust="spacingAndGlyphs" stroke="#111" stroke-width="0.08" transform="rotate(.03 193.52 379.79)">ns</text>
<text x="204.12" y="379.79" font-size="5.4" text-anchor="middle" fill="#111" textLength="5.2" lengthAdjust="spacingAndGlyphs" stroke="#111" stroke-width="0.08" transform="rotate(.03 204.12 379.79)">ns</text>
<line x1="235.75" y1="505.5" x2="235.75" y2="508.6" stroke="#141414" stroke-width="0.9"/>
<text x="236.15" y="517.1" font-size="5.6" text-anchor="middle" fill="#d5412b" textLength="12.1" lengthAdjust="spacingAndGlyphs" transform="rotate(.03 236.15 517.1)">MYC</text>
<line x1="226.05" y1="431.04" x2="226.05" y2="437.56" stroke="#111" stroke-width="0.75"/>
<line x1="226.05" y1="461.68" x2="226.05" y2="469.08" stroke="#111" stroke-width="0.75"/>
<line x1="223.85" y1="431.04" x2="228.25" y2="431.04" stroke="#111" stroke-width="0.9"/>
<line x1="223.85" y1="469.08" x2="228.25" y2="469.08" stroke="#111" stroke-width="0.9"/>
<rect x="221.25" y="437.56" width="9.6" height="24.13" fill="#9ea2b2" stroke="#8c90a2" stroke-width=".4"/>
<line x1="221.25" y1="451.12" x2="230.85" y2="451.12" stroke="#111" stroke-width="1.1"/>
<circle cx="225.22" cy="445.86" r=".55" fill="#111"/>
<circle cx="226.93" cy="467.46" r=".55" fill="#111"/>
<circle cx="227.15" cy="457.14" r=".55" fill="#111"/>
<line x1="235.75" y1="431.74" x2="235.75" y2="462.39" stroke="#111" stroke-width="0.75"/>
<line x1="235.75" y1="494.96" x2="235.75" y2="498.13" stroke="#111" stroke-width="0.75"/>
<line x1="233.55" y1="431.74" x2="237.95" y2="431.74" stroke="#111" stroke-width="0.9"/>
<line x1="233.55" y1="498.13" x2="237.95" y2="498.13" stroke="#111" stroke-width="0.9"/>
<rect x="230.95" y="462.39" width="9.6" height="32.58" fill="#c9c9cd" stroke="#bcbcc2" stroke-width=".4"/>
<line x1="230.95" y1="492.5" x2="240.55" y2="492.5" stroke="#111" stroke-width="1.1"/>
<circle cx="235.46" cy="438.61" r=".55" fill="#111"/>
<circle cx="235.8" cy="467.57" r=".55" fill="#111"/>
<circle cx="235.98" cy="455.39" r=".55" fill="#111"/>
<line x1="245.85" y1="482.64" x2="245.85" y2="486.34" stroke="#111" stroke-width="0.75"/>
<line x1="245.85" y1="494.08" x2="245.85" y2="498.13" stroke="#111" stroke-width="0.75"/>
<line x1="243.65" y1="482.64" x2="248.05" y2="482.64" stroke="#111" stroke-width="0.9"/>
<line x1="243.65" y1="498.13" x2="248.05" y2="498.13" stroke="#111" stroke-width="0.9"/>
<rect x="241.05" y="486.34" width="9.6" height="7.75" fill="#f2a4a0" stroke="#e88880" stroke-width=".4"/>
<line x1="241.05" y1="490.56" x2="250.65" y2="490.56" stroke="#111" stroke-width="1.1"/>
<circle cx="246.14" cy="489.47" r=".55" fill="#111"/>
<circle cx="245.87" cy="483.56" r=".55" fill="#111"/>
<circle cx="246.38" cy="491.45" r=".55" fill="#111"/>
<line x1="226.55" y1="375.8" x2="245.75" y2="375.8" stroke="#e86a5a" stroke-width="0.9"/>
<line x1="226.35" y1="380.5" x2="235.95" y2="380.5" stroke="#3a3a3a" stroke-width="0.85"/>
<line x1="237.25" y1="380.5" x2="246.85" y2="380.5" stroke="#3a3a3a" stroke-width="0.85"/>
<text x="236.75" y="374.66" font-size="4" text-anchor="middle" fill="#000" stroke="#000" stroke-width="0.2" transform="rotate(.03 236.75 374.66)" letter-spacing="1.05">***</text>
<text x="231.15" y="379.76" font-size="4" text-anchor="middle" fill="#000" stroke="#000" stroke-width="0.2" transform="rotate(.03 231.15 379.76)">*</text>
<text x="241.75" y="379.79" font-size="5.4" text-anchor="middle" fill="#111" textLength="5.2" lengthAdjust="spacingAndGlyphs" stroke="#111" stroke-width="0.08" transform="rotate(.03 241.75 379.79)">ns</text>
<line x1="273.38" y1="505.5" x2="273.38" y2="508.6" stroke="#141414" stroke-width="0.9"/>
<text x="273.78" y="517.1" font-size="5.6" text-anchor="middle" fill="#db3a9b" textLength="16.6" lengthAdjust="spacingAndGlyphs" transform="rotate(.03 273.78 517.1)">P2RY6</text>
<line x1="263.68" y1="426.81" x2="263.68" y2="440.73" stroke="#111" stroke-width="0.75"/>
<line x1="263.68" y1="456.75" x2="263.68" y2="459.22" stroke="#111" stroke-width="0.75"/>
<line x1="261.48" y1="426.81" x2="265.88" y2="426.81" stroke="#111" stroke-width="0.9"/>
<line x1="261.48" y1="459.22" x2="265.88" y2="459.22" stroke="#111" stroke-width="0.9"/>
<rect x="258.88" y="440.73" width="9.6" height="16.03" fill="#9ea2b2" stroke="#8c90a2" stroke-width=".4"/>
<line x1="258.88" y1="448.65" x2="268.48" y2="448.65" stroke="#111" stroke-width="1.1"/>
<circle cx="263.2" cy="451.52" r=".55" fill="#111"/>
<circle cx="263.73" cy="427.53" r=".55" fill="#111"/>
<circle cx="262.51" cy="441.45" r=".55" fill="#111"/>
<line x1="273.38" y1="431.74" x2="273.38" y2="437.56" stroke="#111" stroke-width="0.75"/>
<line x1="273.38" y1="472.78" x2="273.38" y2="486.34" stroke="#111" stroke-width="0.75"/>
<line x1="271.18" y1="431.74" x2="275.58" y2="431.74" stroke="#111" stroke-width="0.9"/>
<line x1="271.18" y1="486.34" x2="275.58" y2="486.34" stroke="#111" stroke-width="0.9"/>
<rect x="268.58" y="437.56" width="9.6" height="35.22" fill="#c9c9cd" stroke="#bcbcc2" stroke-width=".4"/>
<line x1="268.58" y1="445.66" x2="278.18" y2="445.66" stroke="#111" stroke-width="1.1"/>
<circle cx="273.57" cy="463.67" r=".55" fill="#111"/>
<circle cx="273.66" cy="485.24" r=".55" fill="#111"/>
<circle cx="272.32" cy="451.82" r=".55" fill="#111"/>
<line x1="283.48" y1="449" x2="283.48" y2="461.68" stroke="#111" stroke-width="0.75"/>
<line x1="283.48" y1="485.63" x2="283.48" y2="498.13" stroke="#111" stroke-width="0.75"/>
<line x1="281.28" y1="449" x2="285.68" y2="449" stroke="#111" stroke-width="0.9"/>
<line x1="281.28" y1="498.13" x2="285.68" y2="498.13" stroke="#111" stroke-width="0.9"/>
<rect x="278.68" y="461.68" width="9.6" height="23.95" fill="#f5bcdc" stroke="#eca0cc" stroke-width=".4"/>
<line x1="278.68" y1="473.48" x2="288.28" y2="473.48" stroke="#111" stroke-width="1.1"/>
<circle cx="283.4" cy="467.31" r=".55" fill="#111"/>
<circle cx="283.13" cy="464.76" r=".55" fill="#111"/>
<circle cx="284.05" cy="463.4" r=".55" fill="#111"/>
<line x1="264.18" y1="375.8" x2="283.38" y2="375.8" stroke="#e860a8" stroke-width="0.9"/>
<line x1="263.98" y1="380.5" x2="273.58" y2="380.5" stroke="#3a3a3a" stroke-width="0.85"/>
<line x1="274.88" y1="380.5" x2="284.48" y2="380.5" stroke="#3a3a3a" stroke-width="0.85"/>
<text x="274.38" y="374.66" font-size="4" text-anchor="middle" fill="#000" stroke="#000" stroke-width="0.2" transform="rotate(.03 274.38 374.66)" letter-spacing="1.05">**</text>
<text x="268.78" y="379.79" font-size="5.4" text-anchor="middle" fill="#111" textLength="5.2" lengthAdjust="spacingAndGlyphs" stroke="#111" stroke-width="0.08" transform="rotate(.03 268.78 379.79)">ns</text>
<text x="279.38" y="379.79" font-size="5.4" text-anchor="middle" fill="#111" textLength="5.2" lengthAdjust="spacingAndGlyphs" stroke="#111" stroke-width="0.08" transform="rotate(.03 279.38 379.79)">ns</text>
<line x1="311.01" y1="505.5" x2="311.01" y2="508.6" stroke="#141414" stroke-width="0.9"/>
<text x="311.41" y="517.1" font-size="5.6" text-anchor="middle" fill="#5050b0" textLength="18.5" lengthAdjust="spacingAndGlyphs" transform="rotate(.03 311.41 517.1)">PGBD1</text>
<line x1="301.31" y1="414.49" x2="301.31" y2="423.12" stroke="#111" stroke-width="0.75"/>
<line x1="301.31" y1="435.8" x2="301.31" y2="446.89" stroke="#111" stroke-width="0.75"/>
<line x1="299.11" y1="414.49" x2="303.51" y2="414.49" stroke="#111" stroke-width="0.9"/>
<line x1="299.11" y1="446.89" x2="303.51" y2="446.89" stroke="#111" stroke-width="0.9"/>
<rect x="296.51" y="423.12" width="9.6" height="12.68" fill="#9ea2b2" stroke="#8c90a2" stroke-width=".4"/>
<line x1="296.51" y1="428.4" x2="306.11" y2="428.4" stroke="#111" stroke-width="1.1"/>
<circle cx="300.26" cy="446.17" r=".55" fill="#111"/>
<circle cx="302.42" cy="424.98" r=".55" fill="#111"/>
<circle cx="301.21" cy="438.75" r=".55" fill="#111"/>
<line x1="311.01" y1="425.93" x2="311.01" y2="435.8" stroke="#111" stroke-width="0.75"/>
<line x1="311.01" y1="465.38" x2="311.01" y2="495.32" stroke="#111" stroke-width="0.75"/>
<line x1="308.81" y1="425.93" x2="313.21" y2="425.93" stroke="#111" stroke-width="0.9"/>
<line x1="308.81" y1="495.32" x2="313.21" y2="495.32" stroke="#111" stroke-width="0.9"/>
<rect x="306.21" y="435.8" width="9.6" height="29.58" fill="#c9c9cd" stroke="#bcbcc2" stroke-width=".4"/>
<line x1="306.21" y1="450.59" x2="315.81" y2="450.59" stroke="#111" stroke-width="1.1"/>
<circle cx="310.58" cy="454.2" r=".55" fill="#111"/>
<circle cx="310.56" cy="470.06" r=".55" fill="#111"/>
<circle cx="311.24" cy="469.7" r=".55" fill="#111"/>
<line x1="321.11" y1="484.05" x2="321.11" y2="484.4" stroke="#111" stroke-width="0.75"/>
<line x1="321.11" y1="487.92" x2="321.11" y2="488.27" stroke="#111" stroke-width="0.75"/>
<line x1="318.91" y1="484.05" x2="323.31" y2="484.05" stroke="#111" stroke-width="0.9"/>
<line x1="318.91" y1="488.27" x2="323.31" y2="488.27" stroke="#111" stroke-width="0.9"/>
<rect x="316.31" y="484.4" width="9.6" height="3.52" fill="#c8c8f2" stroke="#a8a8e4" stroke-width=".4"/>
<line x1="316.31" y1="486.86" x2="325.91" y2="486.86" stroke="#111" stroke-width="1.1"/>
<circle cx="320.82" cy="487" r=".55" fill="#111"/>
<circle cx="319.97" cy="485.01" r=".55" fill="#111"/>
<circle cx="321.67" cy="485.87" r=".55" fill="#111"/>
<circle cx="321.4" cy="475.95" r=".7" fill="#111"/>
<line x1="301.81" y1="375.8" x2="321.01" y2="375.8" stroke="#7c80d0" stroke-width="0.9"/>
<line x1="301.61" y1="380.5" x2="311.21" y2="380.5" stroke="#3a3a3a" stroke-width="0.85"/>
<line x1="312.51" y1="380.5" x2="322.11" y2="380.5" stroke="#3a3a3a" stroke-width="0.85"/>
<text x="312.01" y="374.66" font-size="4" text-anchor="middle" fill="#000" stroke="#000" stroke-width="0.2" transform="rotate(.03 312.01 374.66)" letter-spacing="1.05">***</text>
<text x="306.41" y="379.79" font-size="5.4" text-anchor="middle" fill="#111" textLength="5.2" lengthAdjust="spacingAndGlyphs" stroke="#111" stroke-width="0.08" transform="rotate(.03 306.41 379.79)">ns</text>
<text x="317.01" y="379.76" font-size="4" text-anchor="middle" fill="#000" stroke="#000" stroke-width="0.2" transform="rotate(.03 317.01 379.76)">*</text>
<line x1="348.64" y1="505.5" x2="348.64" y2="508.6" stroke="#141414" stroke-width="0.9"/>
<text x="349.04" y="517.1" font-size="5.6" text-anchor="middle" fill="#e4503e" textLength="15.3" lengthAdjust="spacingAndGlyphs" transform="rotate(.03 349.04 517.1)">RORC</text>
<line x1="338.94" y1="405.68" x2="338.94" y2="418.19" stroke="#111" stroke-width="0.75"/>
<line x1="338.94" y1="441.25" x2="338.94" y2="457.46" stroke="#111" stroke-width="0.75"/>
<line x1="336.74" y1="405.68" x2="341.14" y2="405.68" stroke="#111" stroke-width="0.9"/>
<line x1="336.74" y1="457.46" x2="341.14" y2="457.46" stroke="#111" stroke-width="0.9"/>
<rect x="334.14" y="418.19" width="9.6" height="23.07" fill="#9ea2b2" stroke="#8c90a2" stroke-width=".4"/>
<line x1="334.14" y1="428.05" x2="343.74" y2="428.05" stroke="#111" stroke-width="1.1"/>
<circle cx="338.27" cy="441.4" r=".55" fill="#111"/>
<circle cx="338.31" cy="415.84" r=".55" fill="#111"/>
<circle cx="338.78" cy="447.75" r=".55" fill="#111"/>
<line x1="348.64" y1="408.85" x2="348.64" y2="413.08" stroke="#111" stroke-width="0.75"/>
<line x1="348.64" y1="461.68" x2="348.64" y2="477.53" stroke="#111" stroke-width="0.75"/>
<line x1="346.44" y1="408.85" x2="350.84" y2="408.85" stroke="#111" stroke-width="0.9"/>
<line x1="346.44" y1="477.53" x2="350.84" y2="477.53" stroke="#111" stroke-width="0.9"/>
<rect x="343.84" y="413.08" width="9.6" height="48.6" fill="#c9c9cd" stroke="#bcbcc2" stroke-width=".4"/>
<line x1="343.84" y1="437.73" x2="353.44" y2="437.73" stroke="#111" stroke-width="1.1"/>
<circle cx="347.68" cy="429.59" r=".55" fill="#111"/>
<circle cx="348.24" cy="455.42" r=".55" fill="#111"/>
<circle cx="348.49" cy="420.28" r=".55" fill="#111"/>
<line x1="358.74" y1="461.68" x2="358.74" y2="467.32" stroke="#111" stroke-width="0.75"/>
<line x1="358.74" y1="491.62" x2="358.74" y2="497.96" stroke="#111" stroke-width="0.75"/>
<line x1="356.54" y1="461.68" x2="360.94" y2="461.68" stroke="#111" stroke-width="0.9"/>
<line x1="356.54" y1="497.96" x2="360.94" y2="497.96" stroke="#111" stroke-width="0.9"/>
<rect x="353.94" y="467.32" width="9.6" height="24.3" fill="#f09a98" stroke="#e47c7c" stroke-width=".4"/>
<line x1="353.94" y1="468.55" x2="363.54" y2="468.55" stroke="#111" stroke-width="1.1"/>
<circle cx="357.95" cy="466.92" r=".55" fill="#111"/>
<circle cx="359.1" cy="485.74" r=".55" fill="#111"/>
<circle cx="358.62" cy="465.86" r=".55" fill="#111"/>
<line x1="339.44" y1="375.8" x2="358.64" y2="375.8" stroke="#f08070" stroke-width="0.9"/>
<line x1="339.24" y1="380.5" x2="348.84" y2="380.5" stroke="#3a3a3a" stroke-width="0.85"/>
<line x1="350.14" y1="380.5" x2="359.74" y2="380.5" stroke="#3a3a3a" stroke-width="0.85"/>
<text x="349.64" y="374.66" font-size="4" text-anchor="middle" fill="#000" stroke="#000" stroke-width="0.2" transform="rotate(.03 349.64 374.66)" letter-spacing="1.05">***</text>
<text x="344.04" y="379.79" font-size="5.4" text-anchor="middle" fill="#111" textLength="5.2" lengthAdjust="spacingAndGlyphs" stroke="#111" stroke-width="0.08" transform="rotate(.03 344.04 379.79)">ns</text>
<text x="354.64" y="379.79" font-size="5.4" text-anchor="middle" fill="#111" textLength="5.2" lengthAdjust="spacingAndGlyphs" stroke="#111" stroke-width="0.08" transform="rotate(.03 354.64 379.79)">ns</text>
<line x1="386.27" y1="505.5" x2="386.27" y2="508.6" stroke="#141414" stroke-width="0.9"/>
<text x="386.67" y="517.1" font-size="5.6" text-anchor="middle" fill="#a54cb6" textLength="22" lengthAdjust="spacingAndGlyphs" transform="rotate(.03 386.67 517.1)">SH2D2A</text>
<line x1="376.57" y1="410.08" x2="376.57" y2="437.56" stroke="#111" stroke-width="0.75"/>
<line x1="376.57" y1="460.45" x2="376.57" y2="465.38" stroke="#111" stroke-width="0.75"/>
<line x1="374.37" y1="410.08" x2="378.77" y2="410.08" stroke="#111" stroke-width="0.9"/>
<line x1="374.37" y1="465.38" x2="378.77" y2="465.38" stroke="#111" stroke-width="0.9"/>
<rect x="371.77" y="437.56" width="9.6" height="22.89" fill="#9ea2b2" stroke="#8c90a2" stroke-width=".4"/>
<line x1="371.77" y1="443.9" x2="381.37" y2="443.9" stroke="#111" stroke-width="1.1"/>
<circle cx="375.66" cy="452.94" r=".55" fill="#111"/>
<circle cx="375.83" cy="436.09" r=".55" fill="#111"/>
<circle cx="377.38" cy="420.77" r=".55" fill="#111"/>
<line x1="386.27" y1="472.42" x2="386.27" y2="472.6" stroke="#111" stroke-width="0.75"/>
<line x1="386.27" y1="484.4" x2="386.27" y2="495.32" stroke="#111" stroke-width="0.75"/>
<line x1="384.07" y1="472.42" x2="388.47" y2="472.42" stroke="#111" stroke-width="0.9"/>
<line x1="384.07" y1="495.32" x2="388.47" y2="495.32" stroke="#111" stroke-width="0.9"/>
<rect x="381.47" y="472.6" width="9.6" height="11.8" fill="#c9c9cd" stroke="#bcbcc2" stroke-width=".4"/>
<line x1="381.47" y1="481.23" x2="391.07" y2="481.23" stroke="#111" stroke-width="1.1"/>
<circle cx="385.74" cy="491.11" r=".55" fill="#111"/>
<circle cx="386.61" cy="476.84" r=".55" fill="#111"/>
<circle cx="385.9" cy="476.86" r=".55" fill="#111"/>
<line x1="396.37" y1="491.62" x2="396.37" y2="494.79" stroke="#111" stroke-width="0.75"/>
<line x1="396.37" y1="496.02" x2="396.37" y2="496.37" stroke="#111" stroke-width="0.75"/>
<line x1="394.17" y1="491.62" x2="398.57" y2="491.62" stroke="#111" stroke-width="0.9"/>
<line x1="394.17" y1="496.37" x2="398.57" y2="496.37" stroke="#111" stroke-width="0.9"/>
<rect x="391.57" y="494.79" width="9.6" height="1.23" fill="#d8a0e0" stroke="#b868c8" stroke-width=".4"/>
<line x1="391.57" y1="495.32" x2="401.17" y2="495.32" stroke="#111" stroke-width="1.1"/>
<circle cx="395.87" cy="495.76" r=".55" fill="#111"/>
<circle cx="395.82" cy="492.6" r=".55" fill="#111"/>
<circle cx="396.17" cy="494.73" r=".55" fill="#111"/>
<circle cx="388" cy="432.1" r=".7" fill="#111"/>
<line x1="377.07" y1="375.8" x2="396.27" y2="375.8" stroke="#c07cd0" stroke-width="0.9"/>
<line x1="376.87" y1="380.5" x2="386.47" y2="380.5" stroke="#3a3a3a" stroke-width="0.85"/>
<line x1="387.77" y1="380.5" x2="397.37" y2="380.5" stroke="#3a3a3a" stroke-width="0.85"/>
<text x="387.27" y="374.66" font-size="4" text-anchor="middle" fill="#000" stroke="#000" stroke-width="0.2" transform="rotate(.03 387.27 374.66)" letter-spacing="1.05">**</text>
<text x="381.67" y="379.76" font-size="4" text-anchor="middle" fill="#000" stroke="#000" stroke-width="0.2" transform="rotate(.03 381.67 379.76)">*</text>
<text x="392.27" y="379.79" font-size="5.4" text-anchor="middle" fill="#111" textLength="5.2" lengthAdjust="spacingAndGlyphs" stroke="#111" stroke-width="0.08" transform="rotate(.03 392.27 379.79)">ns</text>
<rect x=".5" y=".5" width="519" height="525" fill="none" stroke="#000" stroke-width="1.3"/>
</svg></body></html>
